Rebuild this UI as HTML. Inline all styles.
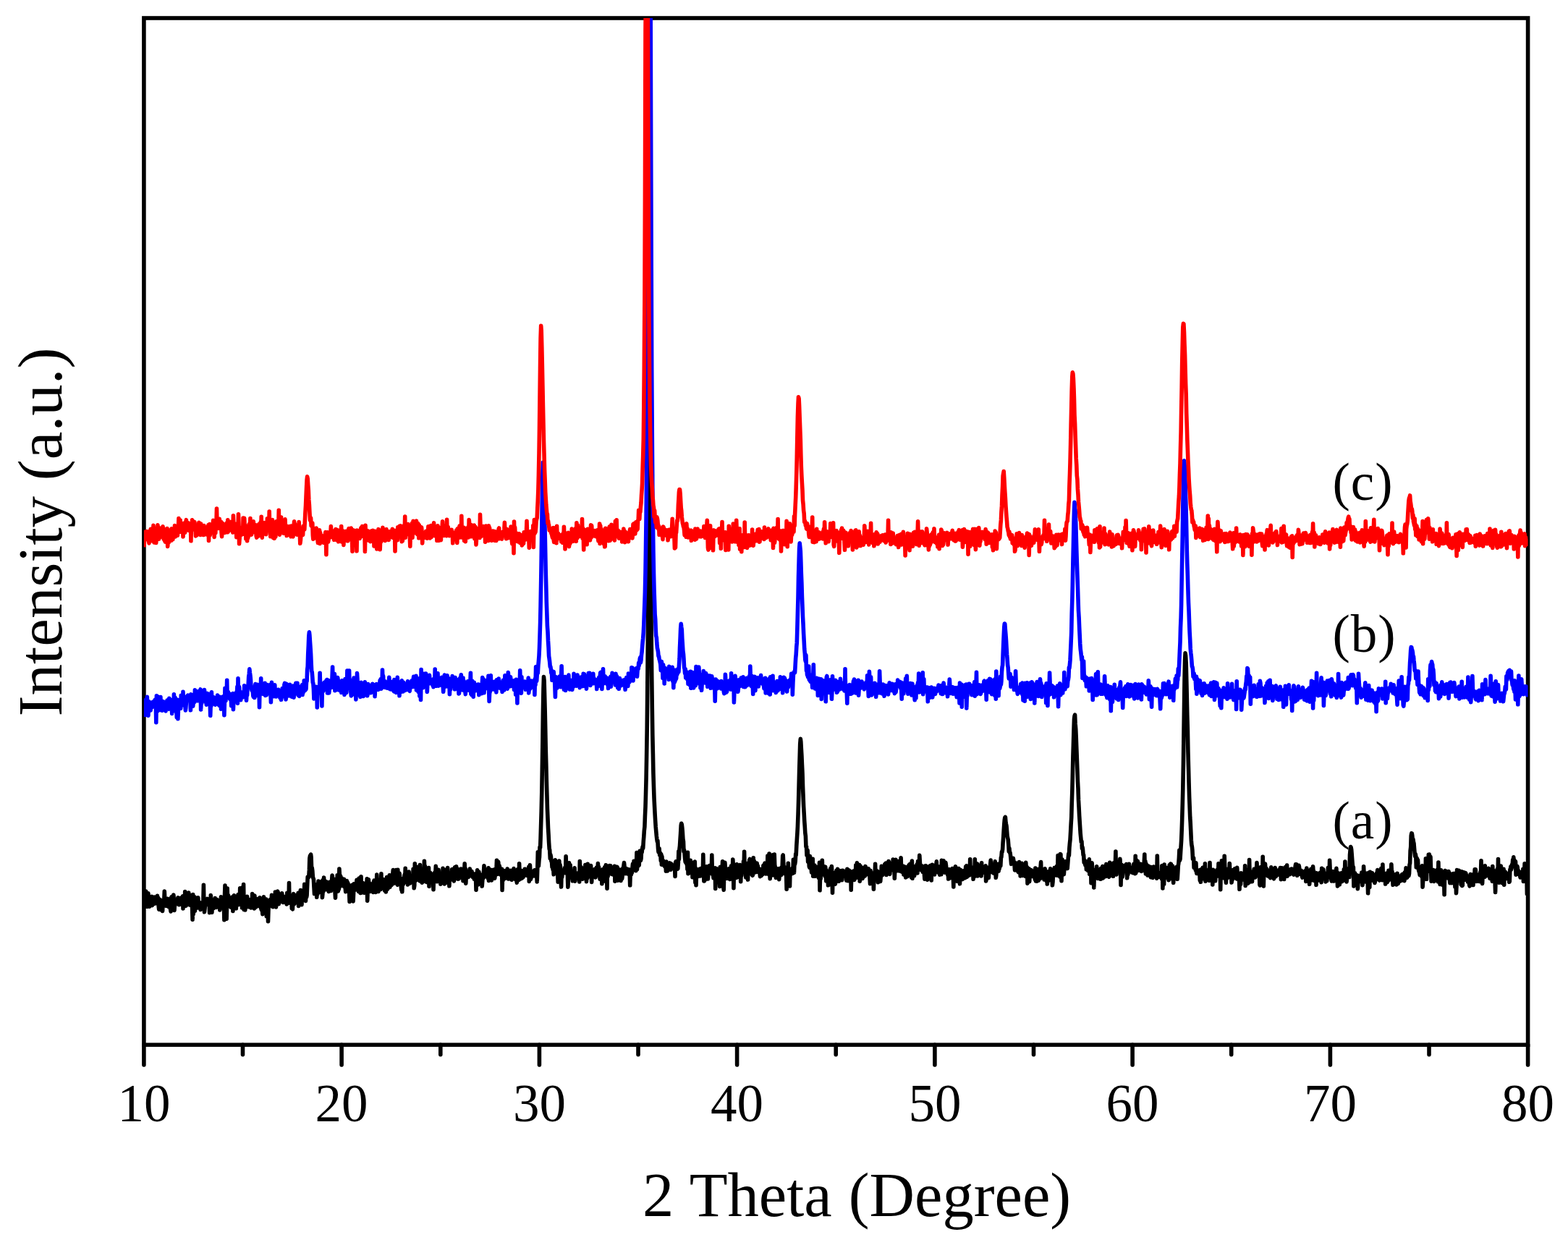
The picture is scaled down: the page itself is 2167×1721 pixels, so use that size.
<!DOCTYPE html>
<html lang="en">
<head>
<meta charset="utf-8">
<title>XRD patterns</title>
<style>
html,body{margin:0;padding:0;background:#fff;}
body{width:2167px;height:1721px;overflow:hidden;}
svg{display:block;}
text{font-family:"Liberation Serif","Times New Roman",serif;fill:#000;}
.tk{font-size:73px;}
.lb{letter-spacing:1px;}
.ttl{font-size:86.5px;word-spacing:1.5px;}
.ytl{font-size:87px;word-spacing:0;}
.crv{fill:none;stroke-width:5.6;stroke-linejoin:round;stroke-linecap:butt;}
</style>
</head>
<body>
<svg width="2167" height="1721" viewBox="0 0 2167 1721">
<defs><clipPath id="pc"><rect x="198.9" y="25.0" width="1912.6999999999998" height="1419.3"/></clipPath></defs>
<rect x="0" y="0" width="2167" height="1721" fill="#ffffff"/>
<rect x="198.9" y="25.0" width="1912.6999999999998" height="1419.3" fill="none" stroke="#000" stroke-width="5.6"/>
<g stroke="#000" stroke-width="5.6" stroke-linecap="round">
<line x1="198.9" y1="1444.3" x2="198.9" y2="1471.9"/>
<line x1="335.5" y1="1444.3" x2="335.5" y2="1457.7"/>
<line x1="472.1" y1="1444.3" x2="472.1" y2="1471.9"/>
<line x1="608.8" y1="1444.3" x2="608.8" y2="1457.7"/>
<line x1="745.4" y1="1444.3" x2="745.4" y2="1471.9"/>
<line x1="882.0" y1="1444.3" x2="882.0" y2="1457.7"/>
<line x1="1018.6" y1="1444.3" x2="1018.6" y2="1471.9"/>
<line x1="1155.2" y1="1444.3" x2="1155.2" y2="1457.7"/>
<line x1="1291.9" y1="1444.3" x2="1291.9" y2="1471.9"/>
<line x1="1428.5" y1="1444.3" x2="1428.5" y2="1457.7"/>
<line x1="1565.1" y1="1444.3" x2="1565.1" y2="1471.9"/>
<line x1="1701.7" y1="1444.3" x2="1701.7" y2="1457.7"/>
<line x1="1838.4" y1="1444.3" x2="1838.4" y2="1471.9"/>
<line x1="1975.0" y1="1444.3" x2="1975.0" y2="1457.7"/>
<line x1="2111.6" y1="1444.3" x2="2111.6" y2="1471.9"/>
</g>
<g clip-path="url(#pc)">
<path class="crv" stroke="#000000" d="M198.9 1253.9 L199.4 1241.8 L200.0 1241.5 L200.5 1238.9 L201.1 1250.2 L201.6 1232.0 L202.2 1253.1 L202.7 1240.2 L203.3 1246.2 L203.8 1243.7 L204.4 1253.2 L204.9 1234.8 L205.5 1244.8 L206.0 1244.6 L206.6 1253.1 L207.1 1240.5 L207.6 1244.7 L208.2 1240.8 L208.7 1246.0 L209.3 1248.8 L209.8 1239.3 L210.4 1251.6 L210.9 1250.2 L211.5 1247.3 L212.0 1249.8 L212.6 1242.4 L213.1 1244.8 L213.7 1240.1 L214.2 1243.7 L214.8 1248.9 L215.3 1242.4 L215.8 1244.4 L216.4 1244.0 L216.9 1241.8 L217.5 1238.3 L218.0 1247.5 L218.6 1241.1 L219.1 1251.9 L219.7 1257.1 L220.2 1252.1 L220.8 1247.1 L221.3 1243.6 L221.9 1244.5 L222.4 1257.6 L223.0 1249.6 L223.5 1245.2 L224.0 1248.9 L224.6 1259.4 L225.1 1248.9 L225.7 1251.5 L226.2 1250.1 L226.8 1243.5 L227.3 1232.1 L227.9 1245.9 L228.4 1246.2 L229.0 1250.9 L229.5 1252.2 L230.1 1251.4 L230.6 1248.1 L231.1 1251.5 L231.7 1242.2 L232.2 1252.9 L232.8 1253.3 L233.3 1244.1 L233.9 1248.8 L234.4 1246.7 L235.0 1253.5 L235.5 1256.5 L236.1 1259.9 L236.6 1240.8 L237.2 1239.7 L237.7 1245.0 L238.3 1249.2 L238.8 1253.6 L239.3 1252.3 L239.9 1237.1 L240.4 1245.7 L241.0 1258.4 L241.5 1248.9 L242.1 1251.2 L242.6 1245.3 L243.2 1246.3 L243.7 1247.0 L244.3 1248.0 L244.8 1246.6 L245.4 1245.8 L245.9 1240.9 L246.5 1246.4 L247.0 1244.7 L247.5 1250.7 L248.1 1250.5 L248.6 1245.1 L249.2 1242.8 L249.7 1241.5 L250.3 1247.4 L250.8 1245.8 L251.4 1244.1 L251.9 1247.0 L252.5 1238.7 L253.0 1255.9 L253.6 1243.9 L254.1 1253.3 L254.7 1250.5 L255.2 1251.2 L255.7 1232.5 L256.3 1248.5 L256.8 1252.3 L257.4 1235.0 L257.9 1247.2 L258.5 1247.8 L259.0 1239.8 L259.6 1249.1 L260.1 1250.3 L260.7 1234.0 L261.2 1247.8 L261.8 1238.7 L262.3 1246.3 L262.9 1237.4 L263.4 1251.5 L263.9 1251.5 L264.5 1245.4 L265.0 1242.6 L265.6 1254.1 L266.1 1271.2 L266.7 1236.5 L267.2 1263.9 L267.8 1255.6 L268.3 1249.2 L268.9 1239.9 L269.4 1259.2 L270.0 1247.1 L270.5 1245.1 L271.1 1241.3 L271.6 1251.5 L272.1 1251.5 L272.7 1244.3 L273.2 1255.0 L273.8 1240.9 L274.3 1252.1 L274.9 1248.4 L275.4 1247.1 L276.0 1247.5 L276.5 1251.9 L277.1 1257.5 L277.6 1251.3 L278.2 1249.3 L278.7 1248.8 L279.3 1250.6 L279.8 1248.3 L280.3 1250.7 L280.9 1245.1 L281.4 1223.4 L282.0 1253.3 L282.5 1260.8 L283.1 1255.6 L283.6 1249.0 L284.2 1248.1 L284.7 1248.4 L285.3 1249.5 L285.8 1243.0 L286.4 1242.4 L286.9 1242.7 L287.4 1249.9 L288.0 1247.3 L288.5 1251.7 L289.1 1246.1 L289.6 1261.7 L290.2 1249.2 L290.7 1259.5 L291.3 1237.6 L291.8 1244.1 L292.4 1252.1 L292.9 1261.3 L293.5 1247.6 L294.0 1249.1 L294.6 1247.4 L295.1 1255.6 L295.6 1247.3 L296.2 1251.8 L296.7 1246.9 L297.3 1241.6 L297.8 1250.1 L298.4 1250.9 L298.9 1254.4 L299.5 1246.9 L300.0 1243.6 L300.6 1250.0 L301.1 1251.3 L301.7 1249.5 L302.2 1246.5 L302.8 1253.3 L303.3 1249.5 L303.8 1257.9 L304.4 1254.7 L304.9 1251.8 L305.5 1239.8 L306.0 1250.7 L306.6 1250.0 L307.1 1250.4 L307.7 1251.9 L308.2 1244.0 L308.8 1251.4 L309.3 1244.2 L309.9 1271.7 L310.4 1240.9 L311.0 1224.1 L311.5 1238.9 L312.0 1242.2 L312.6 1240.7 L313.1 1270.3 L313.7 1245.1 L314.2 1228.0 L314.8 1251.4 L315.3 1237.2 L315.9 1239.0 L316.4 1250.3 L317.0 1249.3 L317.5 1243.3 L318.1 1253.0 L318.6 1246.3 L319.2 1254.3 L319.7 1248.8 L320.2 1253.6 L320.8 1246.4 L321.3 1239.7 L321.9 1259.5 L322.4 1239.8 L323.0 1246.2 L323.5 1237.7 L324.1 1246.4 L324.6 1249.4 L325.2 1249.0 L325.7 1255.8 L326.3 1255.8 L326.8 1245.9 L327.4 1240.0 L327.9 1239.8 L328.4 1242.6 L329.0 1236.5 L329.5 1250.8 L330.1 1243.8 L330.6 1242.6 L331.2 1247.0 L331.7 1227.9 L332.3 1242.2 L332.8 1250.6 L333.4 1249.5 L333.9 1244.1 L334.5 1254.8 L335.0 1226.7 L335.6 1243.1 L336.1 1242.2 L336.6 1222.6 L337.2 1257.5 L337.7 1249.0 L338.3 1241.7 L338.8 1258.0 L339.4 1250.6 L339.9 1250.7 L340.5 1244.8 L341.0 1248.9 L341.6 1239.4 L342.1 1252.1 L342.7 1245.8 L343.2 1248.2 L343.7 1253.8 L344.3 1248.8 L344.8 1249.2 L345.4 1248.9 L345.9 1243.5 L346.5 1251.6 L347.0 1255.0 L347.6 1252.2 L348.1 1252.8 L348.7 1235.5 L349.2 1242.8 L349.8 1239.4 L350.3 1255.0 L350.9 1247.0 L351.4 1255.9 L351.9 1238.0 L352.5 1246.7 L353.0 1250.0 L353.6 1254.1 L354.1 1249.5 L354.7 1250.3 L355.2 1249.2 L355.8 1249.4 L356.3 1242.5 L356.9 1249.7 L357.4 1246.9 L358.0 1249.6 L358.5 1252.9 L359.1 1240.9 L359.6 1250.8 L360.1 1247.4 L360.7 1255.1 L361.2 1257.4 L361.8 1248.1 L362.3 1256.5 L362.9 1263.8 L363.4 1245.1 L364.0 1248.3 L364.5 1239.7 L365.1 1250.9 L365.6 1261.4 L366.2 1252.7 L366.7 1248.0 L367.3 1254.8 L367.8 1243.0 L368.3 1266.6 L368.9 1251.7 L369.4 1257.6 L370.0 1247.0 L370.5 1273.7 L371.1 1254.9 L371.6 1253.4 L372.2 1248.7 L372.7 1244.5 L373.3 1243.6 L373.8 1247.5 L374.4 1244.2 L374.9 1249.5 L375.5 1237.2 L376.0 1251.6 L376.5 1253.3 L377.1 1243.6 L377.6 1253.6 L378.2 1246.1 L378.7 1253.0 L379.3 1248.7 L379.8 1252.4 L380.4 1233.1 L380.9 1246.2 L381.5 1253.9 L382.0 1242.2 L382.6 1234.0 L383.1 1234.2 L383.7 1232.2 L384.2 1233.3 L384.7 1241.4 L385.3 1249.7 L385.8 1239.8 L386.4 1243.8 L386.9 1240.7 L387.5 1242.0 L388.0 1240.0 L388.6 1238.9 L389.1 1244.2 L389.7 1234.7 L390.2 1246.8 L390.8 1247.2 L391.3 1242.0 L391.8 1247.4 L392.4 1239.3 L392.9 1240.2 L393.5 1244.7 L394.0 1243.2 L394.6 1241.1 L395.1 1240.4 L395.7 1240.6 L396.2 1249.9 L396.8 1234.2 L397.3 1247.2 L397.9 1243.8 L398.4 1248.4 L399.0 1247.5 L399.5 1220.6 L400.0 1247.1 L400.6 1245.6 L401.1 1243.3 L401.7 1241.7 L402.2 1248.8 L402.8 1242.9 L403.3 1255.7 L403.9 1253.3 L404.4 1256.9 L405.0 1240.9 L405.5 1235.5 L406.1 1249.0 L406.6 1249.7 L407.2 1246.1 L407.7 1237.2 L408.2 1242.4 L408.8 1247.8 L409.3 1243.6 L409.9 1243.3 L410.4 1242.6 L411.0 1237.8 L411.5 1239.9 L412.1 1234.4 L412.6 1252.4 L413.2 1239.8 L413.7 1245.3 L414.3 1237.3 L414.8 1246.5 L415.4 1230.6 L415.9 1245.0 L416.4 1239.8 L417.0 1250.7 L417.5 1231.3 L418.1 1238.2 L418.6 1239.2 L419.2 1243.1 L419.7 1233.1 L420.3 1236.3 L420.8 1222.2 L421.4 1228.1 L421.9 1233.2 L422.5 1245.4 L423.0 1229.0 L423.6 1240.1 L424.1 1237.6 L424.6 1226.0 L425.2 1212.4 L425.7 1212.7 L426.3 1211.8 L426.8 1212.5 L427.4 1202.4 L427.9 1186.2 L428.5 1183.0 L429.0 1182.4 L429.6 1181.1 L430.1 1185.1 L430.7 1203.7 L431.2 1199.4 L431.8 1203.6 L432.3 1211.5 L432.8 1213.9 L433.4 1215.2 L433.9 1225.4 L434.5 1235.5 L435.0 1226.4 L435.6 1222.5 L436.1 1230.5 L436.7 1225.0 L437.2 1227.9 L437.8 1240.3 L438.3 1230.1 L438.9 1236.1 L439.4 1228.9 L440.0 1218.1 L440.5 1220.6 L441.0 1233.5 L441.6 1224.1 L442.1 1228.5 L442.7 1221.0 L443.2 1230.3 L443.8 1223.6 L444.3 1233.6 L444.9 1218.0 L445.4 1240.6 L446.0 1234.6 L446.5 1216.4 L447.1 1231.8 L447.6 1213.0 L448.1 1220.4 L448.7 1227.9 L449.2 1221.6 L449.8 1221.4 L450.3 1222.3 L450.9 1218.7 L451.4 1229.7 L452.0 1227.0 L452.5 1222.3 L453.1 1221.7 L453.6 1228.4 L454.2 1232.4 L454.7 1227.1 L455.3 1219.3 L455.8 1226.1 L456.3 1219.7 L456.9 1219.6 L457.4 1231.5 L458.0 1218.7 L458.5 1218.3 L459.1 1210.0 L459.6 1214.2 L460.2 1224.6 L460.7 1217.6 L461.3 1224.4 L461.8 1215.4 L462.4 1217.0 L462.9 1230.8 L463.5 1241.1 L464.0 1224.2 L464.5 1228.2 L465.1 1230.5 L465.6 1227.8 L466.2 1209.9 L466.7 1222.1 L467.3 1231.9 L467.8 1221.2 L468.4 1229.3 L468.9 1201.0 L469.5 1211.4 L470.0 1225.5 L470.6 1210.8 L471.1 1216.1 L471.7 1223.1 L472.2 1213.8 L472.7 1223.4 L473.3 1219.6 L473.8 1221.5 L474.4 1221.7 L474.9 1225.2 L475.5 1215.2 L476.0 1223.0 L476.6 1219.1 L477.1 1226.4 L477.7 1232.7 L478.2 1226.3 L478.8 1224.6 L479.3 1217.5 L479.9 1228.1 L480.4 1219.8 L480.9 1221.0 L481.5 1228.4 L482.0 1227.9 L482.6 1232.1 L483.1 1246.4 L483.7 1224.0 L484.2 1227.5 L484.8 1235.8 L485.3 1239.6 L485.9 1229.9 L486.4 1233.7 L487.0 1223.3 L487.5 1230.0 L488.1 1245.9 L488.6 1234.9 L489.1 1221.7 L489.7 1225.8 L490.2 1228.7 L490.8 1224.7 L491.3 1224.1 L491.9 1230.0 L492.4 1224.1 L493.0 1216.4 L493.5 1228.2 L494.1 1224.7 L494.6 1216.6 L495.2 1218.3 L495.7 1232.5 L496.3 1214.0 L496.8 1217.4 L497.3 1225.6 L497.9 1234.4 L498.4 1234.5 L499.0 1211.8 L499.5 1227.0 L500.1 1220.2 L500.6 1233.8 L501.2 1220.3 L501.7 1226.7 L502.3 1232.6 L502.8 1226.0 L503.4 1234.3 L503.9 1221.6 L504.4 1227.6 L505.0 1230.2 L505.5 1223.8 L506.1 1231.9 L506.6 1227.1 L507.2 1214.9 L507.7 1245.1 L508.3 1227.4 L508.8 1224.1 L509.4 1215.8 L509.9 1223.5 L510.5 1220.7 L511.0 1226.4 L511.6 1224.7 L512.1 1232.3 L512.6 1223.7 L513.2 1225.9 L513.7 1225.4 L514.3 1221.8 L514.8 1221.7 L515.4 1229.0 L515.9 1233.5 L516.5 1219.2 L517.0 1217.1 L517.6 1222.8 L518.1 1230.2 L518.7 1223.0 L519.2 1233.4 L519.8 1219.2 L520.3 1223.8 L520.8 1209.1 L521.4 1220.1 L521.9 1222.6 L522.5 1225.9 L523.0 1232.5 L523.6 1223.1 L524.1 1230.1 L524.7 1224.9 L525.2 1227.0 L525.8 1219.5 L526.3 1229.5 L526.9 1207.9 L527.4 1225.7 L528.0 1218.1 L528.5 1220.2 L529.0 1215.5 L529.6 1215.7 L530.1 1224.9 L530.7 1223.0 L531.2 1216.3 L531.8 1231.1 L532.3 1224.1 L532.9 1227.5 L533.4 1233.0 L534.0 1219.2 L534.5 1212.5 L535.1 1217.8 L535.6 1229.1 L536.2 1217.1 L536.7 1227.4 L537.2 1219.2 L537.8 1223.0 L538.3 1209.8 L538.9 1226.3 L539.4 1219.4 L540.0 1224.0 L540.5 1219.9 L541.1 1223.4 L541.6 1217.9 L542.2 1221.8 L542.7 1209.2 L543.3 1202.5 L543.8 1221.4 L544.4 1217.2 L544.9 1215.6 L545.4 1214.1 L546.0 1218.9 L546.5 1211.2 L547.1 1217.6 L547.6 1202.6 L548.2 1213.6 L548.7 1221.8 L549.3 1223.2 L549.8 1202.4 L550.4 1221.8 L550.9 1211.5 L551.5 1221.9 L552.0 1207.1 L552.6 1211.4 L553.1 1214.4 L553.6 1215.9 L554.2 1224.8 L554.7 1230.1 L555.3 1225.5 L555.8 1232.8 L556.4 1214.5 L556.9 1215.5 L557.5 1222.3 L558.0 1216.4 L558.6 1215.0 L559.1 1209.0 L559.7 1215.7 L560.2 1200.4 L560.7 1212.7 L561.3 1209.0 L561.8 1219.4 L562.4 1214.3 L562.9 1214.7 L563.5 1223.0 L564.0 1209.7 L564.6 1216.3 L565.1 1205.0 L565.7 1215.4 L566.2 1217.9 L566.8 1220.9 L567.3 1211.1 L567.9 1219.5 L568.4 1215.5 L568.9 1213.5 L569.5 1214.6 L570.0 1216.7 L570.6 1219.5 L571.1 1201.3 L571.7 1207.8 L572.2 1227.8 L572.8 1224.0 L573.3 1193.8 L573.9 1215.2 L574.4 1216.1 L575.0 1216.8 L575.5 1214.2 L576.1 1198.2 L576.6 1210.1 L577.1 1207.8 L577.7 1211.4 L578.2 1209.7 L578.8 1210.7 L579.3 1215.9 L579.9 1217.7 L580.4 1195.5 L581.0 1209.3 L581.5 1207.1 L582.1 1218.6 L582.6 1211.8 L583.2 1220.1 L583.7 1208.9 L584.3 1211.6 L584.8 1204.3 L585.3 1218.6 L585.9 1210.0 L586.4 1190.4 L587.0 1206.8 L587.5 1197.4 L588.1 1209.8 L588.6 1211.9 L589.2 1216.0 L589.7 1219.5 L590.3 1209.9 L590.8 1215.3 L591.4 1212.9 L591.9 1210.1 L592.5 1199.6 L593.0 1225.3 L593.5 1209.4 L594.1 1213.1 L594.6 1206.2 L595.2 1216.7 L595.7 1212.7 L596.3 1212.4 L596.8 1211.6 L597.4 1218.1 L597.9 1217.3 L598.5 1215.8 L599.0 1229.6 L599.6 1208.4 L600.1 1206.8 L600.7 1207.4 L601.2 1214.1 L601.7 1208.5 L602.3 1197.3 L602.8 1205.7 L603.4 1213.4 L603.9 1218.8 L604.5 1204.6 L605.0 1209.5 L605.6 1211.6 L606.1 1202.4 L606.7 1215.2 L607.2 1212.3 L607.8 1213.3 L608.3 1208.7 L608.9 1222.2 L609.4 1213.8 L609.9 1220.9 L610.5 1211.1 L611.0 1216.6 L611.6 1209.4 L612.1 1200.3 L612.7 1203.4 L613.2 1213.1 L613.8 1212.1 L614.3 1221.9 L614.9 1207.3 L615.4 1207.0 L616.0 1220.6 L616.5 1214.8 L617.0 1202.1 L617.6 1218.1 L618.1 1212.8 L618.7 1199.6 L619.2 1208.9 L619.8 1211.3 L620.3 1215.8 L620.9 1224.8 L621.4 1212.8 L622.0 1216.3 L622.5 1211.6 L623.1 1207.5 L623.6 1207.3 L624.2 1215.5 L624.7 1201.7 L625.2 1215.8 L625.8 1206.7 L626.3 1210.4 L626.9 1215.0 L627.4 1218.0 L628.0 1199.9 L628.5 1198.9 L629.1 1209.8 L629.6 1205.9 L630.2 1214.4 L630.7 1197.9 L631.3 1210.6 L631.8 1214.8 L632.4 1209.6 L632.9 1215.1 L633.4 1201.5 L634.0 1214.9 L634.5 1204.5 L635.1 1212.1 L635.6 1206.4 L636.2 1213.0 L636.7 1212.6 L637.3 1201.0 L637.8 1207.6 L638.4 1207.5 L638.9 1206.6 L639.5 1203.7 L640.0 1217.7 L640.6 1210.0 L641.1 1217.1 L641.6 1204.8 L642.2 1193.9 L642.7 1209.7 L643.3 1200.9 L643.8 1221.1 L644.4 1209.6 L644.9 1213.9 L645.5 1206.8 L646.0 1206.0 L646.6 1208.2 L647.1 1209.7 L647.7 1212.2 L648.2 1207.2 L648.8 1203.7 L649.3 1201.1 L649.8 1206.5 L650.4 1209.8 L650.9 1209.4 L651.5 1207.4 L652.0 1204.4 L652.6 1209.3 L653.1 1212.3 L653.7 1209.6 L654.2 1211.6 L654.8 1209.1 L655.3 1215.2 L655.9 1208.1 L656.4 1210.6 L657.0 1211.7 L657.5 1213.4 L658.0 1230.1 L658.6 1212.9 L659.1 1213.8 L659.7 1202.7 L660.2 1213.7 L660.8 1222.9 L661.3 1206.4 L661.9 1205.3 L662.4 1209.1 L663.0 1216.8 L663.5 1214.3 L664.1 1209.0 L664.6 1211.9 L665.1 1217.5 L665.7 1215.4 L666.2 1225.0 L666.8 1217.0 L667.3 1212.6 L667.9 1213.9 L668.4 1206.4 L669.0 1196.8 L669.5 1210.4 L670.1 1212.0 L670.6 1202.1 L671.2 1206.6 L671.7 1206.4 L672.3 1210.2 L672.8 1206.5 L673.3 1210.0 L673.9 1209.5 L674.4 1214.2 L675.0 1199.9 L675.5 1217.4 L676.1 1215.9 L676.6 1208.6 L677.2 1210.6 L677.7 1210.2 L678.3 1202.2 L678.8 1206.5 L679.4 1216.9 L679.9 1207.7 L680.5 1212.2 L681.0 1207.0 L681.5 1207.0 L682.1 1202.4 L682.6 1205.1 L683.2 1203.6 L683.7 1214.2 L684.3 1209.7 L684.8 1201.3 L685.4 1208.4 L685.9 1204.8 L686.5 1189.2 L687.0 1208.5 L687.6 1196.9 L688.1 1208.3 L688.7 1191.4 L689.2 1197.4 L689.7 1207.6 L690.3 1196.9 L690.8 1202.9 L691.4 1206.6 L691.9 1209.1 L692.5 1209.7 L693.0 1205.7 L693.6 1201.2 L694.1 1230.4 L694.7 1203.1 L695.2 1216.8 L695.8 1205.8 L696.3 1215.0 L696.9 1213.9 L697.4 1203.7 L697.9 1211.6 L698.5 1214.2 L699.0 1212.1 L699.6 1206.2 L700.1 1209.4 L700.7 1205.1 L701.2 1201.0 L701.8 1212.8 L702.3 1204.7 L702.9 1215.0 L703.4 1211.6 L704.0 1203.6 L704.5 1207.9 L705.1 1203.9 L705.6 1203.5 L706.1 1210.2 L706.7 1205.3 L707.2 1216.2 L707.8 1212.7 L708.3 1203.8 L708.9 1207.3 L709.4 1207.4 L710.0 1200.5 L710.5 1214.0 L711.1 1214.8 L711.6 1215.0 L712.2 1207.9 L712.7 1215.8 L713.3 1209.6 L713.8 1215.0 L714.3 1220.2 L714.9 1210.5 L715.4 1201.7 L716.0 1207.5 L716.5 1213.2 L717.1 1216.5 L717.6 1193.7 L718.2 1208.9 L718.7 1211.6 L719.3 1212.6 L719.8 1214.8 L720.4 1203.3 L720.9 1206.2 L721.4 1214.0 L722.0 1209.8 L722.5 1209.5 L723.1 1212.5 L723.6 1207.7 L724.2 1209.9 L724.7 1205.5 L725.3 1201.2 L725.8 1201.4 L726.4 1208.7 L726.9 1207.2 L727.5 1205.3 L728.0 1210.1 L728.6 1203.7 L729.1 1209.3 L729.6 1209.5 L730.2 1205.5 L730.7 1198.4 L731.3 1218.4 L731.8 1211.7 L732.4 1195.7 L732.9 1203.7 L733.5 1215.4 L734.0 1208.6 L734.6 1212.7 L735.1 1204.6 L735.7 1210.1 L736.2 1208.0 L736.8 1207.0 L737.3 1204.4 L737.8 1207.9 L738.4 1210.8 L738.9 1202.7 L739.5 1203.6 L740.0 1206.3 L740.6 1205.4 L741.1 1207.1 L741.7 1207.6 L742.2 1218.9 L742.8 1200.1 L743.3 1177.8 L743.9 1196.2 L744.4 1197.1 L745.0 1188.7 L745.5 1184.8 L746.0 1171.0 L746.6 1171.6 L747.1 1158.3 L747.7 1138.2 L748.2 1121.5 L748.8 1095.1 L749.3 1063.8 L749.9 1026.1 L750.4 985.7 L751.0 951.8 L751.5 935.6 L752.1 941.3 L752.6 960.4 L753.2 983.4 L753.7 1006.8 L754.2 1033.9 L754.8 1056.0 L755.3 1078.0 L755.9 1098.9 L756.4 1117.2 L757.0 1131.4 L757.5 1144.2 L758.1 1154.1 L758.6 1164.3 L759.2 1173.4 L759.7 1175.1 L760.3 1186.6 L760.8 1181.3 L761.4 1184.0 L761.9 1190.5 L762.4 1189.1 L763.0 1198.4 L763.5 1191.4 L764.1 1201.9 L764.6 1197.6 L765.2 1208.8 L765.7 1194.9 L766.3 1196.6 L766.8 1199.3 L767.4 1188.8 L767.9 1204.0 L768.5 1204.7 L769.0 1204.2 L769.6 1195.1 L770.1 1193.4 L770.6 1205.6 L771.2 1219.1 L771.7 1212.2 L772.3 1198.7 L772.8 1190.0 L773.4 1203.2 L773.9 1195.2 L774.5 1198.0 L775.0 1216.9 L775.6 1226.0 L776.1 1205.7 L776.7 1212.8 L777.2 1206.0 L777.7 1205.4 L778.3 1203.2 L778.8 1205.4 L779.4 1203.2 L779.9 1203.2 L780.5 1199.7 L781.0 1206.7 L781.6 1203.8 L782.1 1183.7 L782.7 1201.7 L783.2 1198.6 L783.8 1192.6 L784.3 1207.3 L784.9 1226.1 L785.4 1216.8 L785.9 1212.9 L786.5 1192.7 L787.0 1212.0 L787.6 1211.9 L788.1 1195.7 L788.7 1211.1 L789.2 1210.7 L789.8 1209.1 L790.3 1209.9 L790.9 1209.4 L791.4 1217.8 L792.0 1207.4 L792.5 1208.1 L793.1 1208.4 L793.6 1210.5 L794.1 1199.7 L794.7 1218.2 L795.2 1213.8 L795.8 1213.2 L796.3 1211.0 L796.9 1208.2 L797.4 1207.3 L798.0 1208.7 L798.5 1209.0 L799.1 1214.2 L799.6 1210.1 L800.2 1206.6 L800.7 1219.0 L801.3 1190.6 L801.8 1201.5 L802.3 1210.8 L802.9 1207.3 L803.4 1198.8 L804.0 1206.2 L804.5 1204.2 L805.1 1215.1 L805.6 1205.3 L806.2 1214.7 L806.7 1210.9 L807.3 1208.2 L807.8 1208.7 L808.4 1214.1 L808.9 1195.5 L809.5 1209.9 L810.0 1203.5 L810.5 1218.6 L811.1 1205.0 L811.6 1214.2 L812.2 1194.4 L812.7 1212.0 L813.3 1211.6 L813.8 1205.8 L814.4 1206.5 L814.9 1205.5 L815.5 1209.2 L816.0 1206.1 L816.6 1196.5 L817.1 1205.4 L817.7 1219.4 L818.2 1206.9 L818.7 1208.0 L819.3 1203.3 L819.8 1206.9 L820.4 1206.8 L820.9 1204.9 L821.5 1211.3 L822.0 1201.6 L822.6 1205.5 L823.1 1212.9 L823.7 1204.0 L824.2 1199.2 L824.8 1208.7 L825.3 1200.3 L825.9 1202.8 L826.4 1193.5 L826.9 1203.8 L827.5 1198.3 L828.0 1201.9 L828.6 1209.0 L829.1 1215.3 L829.7 1203.7 L830.2 1209.0 L830.8 1204.3 L831.3 1206.7 L831.9 1221.6 L832.4 1206.2 L833.0 1201.8 L833.5 1202.1 L834.0 1202.6 L834.6 1205.4 L835.1 1217.9 L835.7 1198.8 L836.2 1200.8 L836.8 1200.2 L837.3 1195.9 L837.9 1212.3 L838.4 1204.9 L839.0 1228.2 L839.5 1197.0 L840.1 1211.6 L840.6 1200.6 L841.2 1202.7 L841.7 1199.5 L842.2 1199.0 L842.8 1196.6 L843.3 1204.7 L843.9 1196.9 L844.4 1202.5 L845.0 1203.9 L845.5 1208.4 L846.1 1206.6 L846.6 1206.8 L847.2 1208.9 L847.7 1206.1 L848.3 1209.0 L848.8 1202.1 L849.4 1197.2 L849.9 1218.1 L850.4 1208.2 L851.0 1198.3 L851.5 1215.0 L852.1 1206.8 L852.6 1198.2 L853.2 1199.0 L853.7 1217.1 L854.3 1201.0 L854.8 1203.9 L855.4 1209.8 L855.9 1206.9 L856.5 1205.1 L857.0 1205.2 L857.6 1212.1 L858.1 1217.5 L858.6 1202.0 L859.2 1208.4 L859.7 1214.6 L860.3 1209.9 L860.8 1200.3 L861.4 1202.9 L861.9 1197.1 L862.5 1192.6 L863.0 1197.1 L863.6 1205.6 L864.1 1200.8 L864.7 1207.7 L865.2 1204.0 L865.8 1200.7 L866.3 1207.1 L866.8 1206.6 L867.4 1204.4 L867.9 1208.2 L868.5 1205.7 L869.0 1201.8 L869.6 1207.5 L870.1 1203.3 L870.7 1223.8 L871.2 1207.6 L871.8 1207.8 L872.3 1208.9 L872.9 1201.6 L873.4 1206.5 L874.0 1199.3 L874.5 1194.0 L875.0 1195.0 L875.6 1200.7 L876.1 1190.3 L876.7 1198.8 L877.2 1193.8 L877.8 1200.6 L878.3 1192.5 L878.9 1203.7 L879.4 1197.2 L880.0 1178.6 L880.5 1201.8 L881.1 1192.3 L881.6 1188.7 L882.2 1186.8 L882.7 1196.5 L883.2 1196.2 L883.8 1185.8 L884.3 1176.3 L884.9 1181.3 L885.4 1189.5 L886.0 1187.1 L886.5 1177.6 L887.1 1178.3 L887.6 1173.5 L888.2 1170.3 L888.7 1172.5 L889.3 1162.7 L889.8 1156.5 L890.3 1148.5 L890.9 1143.0 L891.4 1128.9 L892.0 1115.7 L892.5 1098.7 L893.1 1074.5 L893.6 1046.5 L894.2 1008.0 L894.7 957.5 L895.3 889.7 L895.8 807.2 L896.4 719.5 L896.9 640.5 L897.5 608.3 L898.0 629.1 L898.5 678.4 L899.1 745.5 L899.6 816.3 L900.2 876.7 L900.7 932.2 L901.3 979.6 L901.8 1014.8 L902.4 1041.9 L902.9 1068.2 L903.5 1087.7 L904.0 1103.2 L904.6 1115.2 L905.1 1124.8 L905.7 1135.2 L906.2 1142.9 L906.7 1148.4 L907.3 1155.3 L907.8 1159.6 L908.4 1163.7 L908.9 1162.0 L909.5 1172.9 L910.0 1177.8 L910.6 1174.2 L911.1 1172.9 L911.7 1181.8 L912.2 1179.8 L912.8 1179.5 L913.3 1189.7 L913.9 1181.0 L914.4 1195.1 L914.9 1183.8 L915.5 1195.1 L916.0 1192.3 L916.6 1189.8 L917.1 1194.0 L917.7 1195.6 L918.2 1197.3 L918.8 1198.0 L919.3 1198.3 L919.9 1193.3 L920.4 1204.1 L921.0 1191.1 L921.5 1202.3 L922.1 1201.4 L922.6 1203.9 L923.1 1194.5 L923.7 1198.8 L924.2 1202.4 L924.8 1199.6 L925.3 1192.9 L925.9 1201.3 L926.4 1197.7 L927.0 1202.3 L927.5 1193.8 L928.1 1198.8 L928.6 1198.4 L929.2 1200.4 L929.7 1195.9 L930.3 1197.6 L930.8 1196.7 L931.3 1197.5 L931.9 1196.7 L932.4 1195.4 L933.0 1211.5 L933.5 1192.6 L934.1 1190.9 L934.6 1192.6 L935.2 1192.9 L935.7 1195.9 L936.3 1201.3 L936.8 1200.7 L937.4 1192.1 L937.9 1176.7 L938.4 1187.8 L939.0 1173.3 L939.5 1169.4 L940.1 1159.3 L940.6 1152.2 L941.2 1140.8 L941.7 1138.3 L942.3 1139.8 L942.8 1144.0 L943.4 1151.3 L943.9 1159.8 L944.5 1163.3 L945.0 1176.9 L945.6 1174.9 L946.1 1180.1 L946.6 1186.5 L947.2 1191.7 L947.7 1190.7 L948.3 1190.4 L948.8 1194.4 L949.4 1185.5 L949.9 1201.5 L950.5 1178.2 L951.0 1207.7 L951.6 1194.7 L952.1 1201.3 L952.7 1198.9 L953.2 1201.6 L953.8 1196.5 L954.3 1189.4 L954.8 1206.7 L955.4 1198.5 L955.9 1198.0 L956.5 1192.2 L957.0 1212.7 L957.6 1194.9 L958.1 1204.7 L958.7 1197.0 L959.2 1211.7 L959.8 1197.5 L960.3 1191.1 L960.9 1220.0 L961.4 1200.3 L962.0 1223.7 L962.5 1209.7 L963.0 1208.8 L963.6 1201.7 L964.1 1205.8 L964.7 1211.5 L965.2 1203.5 L965.8 1208.3 L966.3 1209.3 L966.9 1205.1 L967.4 1201.0 L968.0 1211.0 L968.5 1206.2 L969.1 1204.6 L969.6 1200.9 L970.2 1199.7 L970.7 1210.1 L971.2 1209.7 L971.8 1181.3 L972.3 1202.0 L972.9 1218.0 L973.4 1218.0 L974.0 1216.4 L974.5 1210.6 L975.1 1212.1 L975.6 1201.6 L976.2 1215.0 L976.7 1197.7 L977.3 1201.3 L977.8 1205.0 L978.4 1215.0 L978.9 1207.8 L979.4 1204.8 L980.0 1202.6 L980.5 1196.6 L981.1 1207.2 L981.6 1201.7 L982.2 1205.3 L982.7 1198.3 L983.3 1203.3 L983.8 1182.1 L984.4 1204.7 L984.9 1209.3 L985.5 1207.9 L986.0 1213.8 L986.6 1204.7 L987.1 1206.6 L987.6 1207.5 L988.2 1199.8 L988.7 1228.5 L989.3 1211.1 L989.8 1203.2 L990.4 1200.7 L990.9 1209.2 L991.5 1211.0 L992.0 1207.3 L992.6 1207.5 L993.1 1204.9 L993.7 1206.6 L994.2 1213.8 L994.7 1225.5 L995.3 1198.5 L995.8 1207.8 L996.4 1200.4 L996.9 1199.4 L997.5 1210.4 L998.0 1203.2 L998.6 1190.7 L999.1 1210.5 L999.7 1224.5 L1000.2 1230.3 L1000.8 1204.7 L1001.3 1213.9 L1001.9 1192.3 L1002.4 1201.6 L1002.9 1209.9 L1003.5 1209.1 L1004.0 1214.3 L1004.6 1212.2 L1005.1 1206.0 L1005.7 1214.2 L1006.2 1209.2 L1006.8 1213.5 L1007.3 1200.7 L1007.9 1207.3 L1008.4 1202.2 L1009.0 1215.5 L1009.5 1203.3 L1010.1 1202.5 L1010.6 1196.8 L1011.1 1205.4 L1011.7 1209.3 L1012.2 1208.7 L1012.8 1188.0 L1013.3 1195.7 L1013.9 1227.6 L1014.4 1203.6 L1015.0 1202.7 L1015.5 1209.4 L1016.1 1203.6 L1016.6 1199.6 L1017.2 1202.0 L1017.7 1213.4 L1018.3 1194.8 L1018.8 1209.4 L1019.3 1201.2 L1019.9 1200.6 L1020.4 1212.3 L1021.0 1199.0 L1021.5 1207.4 L1022.1 1200.9 L1022.6 1195.6 L1023.2 1201.6 L1023.7 1218.7 L1024.3 1201.8 L1024.8 1210.7 L1025.4 1204.1 L1025.9 1202.7 L1026.5 1196.6 L1027.0 1203.8 L1027.5 1190.9 L1028.1 1199.8 L1028.6 1177.3 L1029.2 1202.1 L1029.7 1202.8 L1030.3 1196.6 L1030.8 1213.0 L1031.4 1203.9 L1031.9 1205.5 L1032.5 1198.5 L1033.0 1203.7 L1033.6 1216.0 L1034.1 1193.0 L1034.7 1197.5 L1035.2 1207.9 L1035.7 1188.9 L1036.3 1187.5 L1036.8 1191.9 L1037.4 1202.7 L1037.9 1202.3 L1038.5 1207.9 L1039.0 1201.3 L1039.6 1209.6 L1040.1 1210.2 L1040.7 1208.3 L1041.2 1185.8 L1041.8 1203.7 L1042.3 1190.1 L1042.9 1200.0 L1043.4 1197.6 L1043.9 1202.8 L1044.5 1205.7 L1045.0 1202.3 L1045.6 1196.0 L1046.1 1193.2 L1046.7 1197.3 L1047.2 1196.5 L1047.8 1205.4 L1048.3 1200.0 L1048.9 1200.7 L1049.4 1201.2 L1050.0 1207.3 L1050.5 1211.6 L1051.0 1205.3 L1051.6 1201.9 L1052.1 1210.6 L1052.7 1205.5 L1053.2 1201.7 L1053.8 1209.0 L1054.3 1206.4 L1054.9 1196.6 L1055.4 1207.7 L1056.0 1206.5 L1056.5 1194.6 L1057.1 1193.2 L1057.6 1205.9 L1058.2 1207.8 L1058.7 1206.6 L1059.2 1195.6 L1059.8 1202.1 L1060.3 1207.9 L1060.9 1183.1 L1061.4 1204.6 L1062.0 1204.9 L1062.5 1208.3 L1063.1 1180.1 L1063.6 1204.8 L1064.2 1214.7 L1064.7 1200.2 L1065.3 1201.7 L1065.8 1209.2 L1066.4 1199.8 L1066.9 1210.0 L1067.4 1206.7 L1068.0 1181.8 L1068.5 1203.7 L1069.1 1195.8 L1069.6 1209.7 L1070.2 1181.1 L1070.7 1195.5 L1071.3 1198.8 L1071.8 1201.4 L1072.4 1213.4 L1072.9 1205.2 L1073.5 1207.2 L1074.0 1211.6 L1074.6 1202.3 L1075.1 1202.5 L1075.6 1201.0 L1076.2 1210.6 L1076.7 1215.8 L1077.3 1208.3 L1077.8 1202.6 L1078.4 1203.1 L1078.9 1200.0 L1079.5 1209.6 L1080.0 1199.4 L1080.6 1204.0 L1081.1 1199.4 L1081.7 1183.0 L1082.2 1182.0 L1082.8 1193.8 L1083.3 1207.4 L1083.8 1204.6 L1084.4 1202.5 L1084.9 1199.5 L1085.5 1200.3 L1086.0 1199.4 L1086.6 1208.3 L1087.1 1229.2 L1087.7 1205.3 L1088.2 1198.6 L1088.8 1213.8 L1089.3 1193.3 L1089.9 1210.7 L1090.4 1204.9 L1091.0 1207.1 L1091.5 1224.9 L1092.0 1202.5 L1092.6 1203.2 L1093.1 1208.6 L1093.7 1205.1 L1094.2 1202.1 L1094.8 1200.5 L1095.3 1205.3 L1095.9 1207.1 L1096.4 1188.2 L1097.0 1192.8 L1097.5 1206.2 L1098.1 1188.9 L1098.6 1194.7 L1099.2 1190.6 L1099.7 1180.5 L1100.2 1182.0 L1100.8 1169.1 L1101.3 1161.3 L1101.9 1151.8 L1102.4 1142.7 L1103.0 1125.9 L1103.5 1109.8 L1104.1 1086.5 L1104.6 1066.3 L1105.2 1046.4 L1105.7 1028.8 L1106.3 1021.4 L1106.8 1025.2 L1107.3 1034.5 L1107.9 1044.5 L1108.4 1056.1 L1109.0 1068.7 L1109.5 1086.4 L1110.1 1101.3 L1110.6 1114.4 L1111.2 1124.6 L1111.7 1134.4 L1112.3 1142.7 L1112.8 1151.3 L1113.4 1155.8 L1113.9 1170.2 L1114.5 1170.0 L1115.0 1182.1 L1115.5 1178.1 L1116.1 1175.3 L1116.6 1191.1 L1117.2 1182.5 L1117.7 1185.7 L1118.3 1197.6 L1118.8 1199.3 L1119.4 1183.6 L1119.9 1194.6 L1120.5 1190.3 L1121.0 1198.8 L1121.6 1206.0 L1122.1 1190.3 L1122.7 1204.8 L1123.2 1187.3 L1123.7 1211.1 L1124.3 1196.6 L1124.8 1199.3 L1125.4 1206.1 L1125.9 1196.0 L1126.5 1211.3 L1127.0 1198.9 L1127.6 1207.7 L1128.1 1198.3 L1128.7 1206.5 L1129.2 1206.1 L1129.8 1204.0 L1130.3 1208.1 L1130.9 1198.9 L1131.4 1213.5 L1131.9 1208.0 L1132.5 1192.4 L1133.0 1230.8 L1133.6 1209.2 L1134.1 1215.1 L1134.7 1205.8 L1135.2 1194.4 L1135.8 1204.0 L1136.3 1189.4 L1136.9 1206.6 L1137.4 1203.8 L1138.0 1207.9 L1138.5 1197.5 L1139.1 1207.4 L1139.6 1204.3 L1140.1 1211.1 L1140.7 1198.2 L1141.2 1206.0 L1141.8 1217.8 L1142.3 1202.9 L1142.9 1213.0 L1143.4 1216.7 L1144.0 1209.5 L1144.5 1223.8 L1145.1 1215.4 L1145.6 1218.9 L1146.2 1205.2 L1146.7 1210.2 L1147.3 1222.8 L1147.8 1200.5 L1148.3 1211.1 L1148.9 1207.2 L1149.4 1197.5 L1150.0 1212.4 L1150.5 1234.3 L1151.1 1209.1 L1151.6 1211.1 L1152.2 1208.1 L1152.7 1206.7 L1153.3 1211.5 L1153.8 1215.5 L1154.4 1222.1 L1154.9 1215.3 L1155.5 1206.0 L1156.0 1203.3 L1156.5 1216.8 L1157.1 1211.6 L1157.6 1201.3 L1158.2 1205.1 L1158.7 1206.5 L1159.3 1218.3 L1159.8 1210.9 L1160.4 1203.5 L1160.9 1216.0 L1161.5 1213.4 L1162.0 1208.2 L1162.6 1215.5 L1163.1 1207.7 L1163.6 1216.7 L1164.2 1203.4 L1164.7 1205.9 L1165.3 1203.5 L1165.8 1207.4 L1166.4 1204.7 L1166.9 1206.5 L1167.5 1208.6 L1168.0 1211.1 L1168.6 1209.5 L1169.1 1209.4 L1169.7 1217.1 L1170.2 1207.0 L1170.8 1201.2 L1171.3 1213.5 L1171.8 1217.7 L1172.4 1209.0 L1172.9 1212.2 L1173.5 1203.1 L1174.0 1208.2 L1174.6 1210.2 L1175.1 1209.5 L1175.7 1204.7 L1176.2 1230.1 L1176.8 1208.5 L1177.3 1211.8 L1177.9 1210.1 L1178.4 1211.6 L1179.0 1210.6 L1179.5 1204.0 L1180.0 1209.3 L1180.6 1216.4 L1181.1 1215.4 L1181.7 1208.3 L1182.2 1213.8 L1182.8 1196.1 L1183.3 1211.6 L1183.9 1203.0 L1184.4 1192.9 L1185.0 1203.5 L1185.5 1208.6 L1186.1 1199.4 L1186.6 1213.3 L1187.2 1209.8 L1187.7 1195.5 L1188.2 1218.1 L1188.8 1204.9 L1189.3 1197.2 L1189.9 1202.7 L1190.4 1199.2 L1191.0 1199.3 L1191.5 1203.2 L1192.1 1214.5 L1192.6 1212.2 L1193.2 1212.1 L1193.7 1201.5 L1194.3 1205.0 L1194.8 1200.7 L1195.4 1211.0 L1195.9 1197.5 L1196.4 1198.5 L1197.0 1202.6 L1197.5 1208.1 L1198.1 1205.8 L1198.6 1207.2 L1199.2 1208.4 L1199.7 1208.3 L1200.3 1200.9 L1200.8 1205.3 L1201.4 1210.2 L1201.9 1211.5 L1202.5 1221.7 L1203.0 1203.3 L1203.6 1212.8 L1204.1 1216.5 L1204.6 1206.5 L1205.2 1208.9 L1205.7 1209.4 L1206.3 1211.5 L1206.8 1213.8 L1207.4 1229.2 L1207.9 1211.8 L1208.5 1214.3 L1209.0 1211.7 L1209.6 1194.3 L1210.1 1210.9 L1210.7 1206.5 L1211.2 1204.3 L1211.7 1203.7 L1212.3 1207.7 L1212.8 1204.5 L1213.4 1219.7 L1213.9 1217.0 L1214.5 1207.1 L1215.0 1212.2 L1215.6 1214.3 L1216.1 1207.0 L1216.7 1218.5 L1217.2 1212.6 L1217.8 1206.9 L1218.3 1197.4 L1218.9 1200.8 L1219.4 1209.8 L1219.9 1202.6 L1220.5 1204.0 L1221.0 1199.6 L1221.6 1205.5 L1222.1 1201.1 L1222.7 1194.6 L1223.2 1201.2 L1223.8 1198.7 L1224.3 1193.1 L1224.9 1209.5 L1225.4 1199.8 L1226.0 1198.8 L1226.5 1204.1 L1227.1 1199.5 L1227.6 1203.5 L1228.1 1190.5 L1228.7 1192.6 L1229.2 1201.9 L1229.8 1208.4 L1230.3 1199.5 L1230.9 1200.5 L1231.4 1194.8 L1232.0 1199.5 L1232.5 1195.1 L1233.1 1198.3 L1233.6 1202.8 L1234.2 1188.1 L1234.7 1199.2 L1235.3 1194.7 L1235.8 1195.7 L1236.3 1214.1 L1236.9 1200.3 L1237.4 1203.4 L1238.0 1188.3 L1238.5 1195.1 L1239.1 1195.4 L1239.6 1194.1 L1240.2 1203.7 L1240.7 1202.2 L1241.3 1191.3 L1241.8 1192.8 L1242.4 1190.6 L1242.9 1204.0 L1243.5 1194.6 L1244.0 1198.0 L1244.5 1197.1 L1245.1 1185.7 L1245.6 1201.9 L1246.2 1205.1 L1246.7 1204.4 L1247.3 1198.2 L1247.8 1198.3 L1248.4 1197.2 L1248.9 1208.9 L1249.5 1206.1 L1250.0 1200.5 L1250.6 1209.9 L1251.1 1198.4 L1251.7 1212.9 L1252.2 1199.2 L1252.7 1201.5 L1253.3 1201.0 L1253.8 1211.8 L1254.4 1203.1 L1254.9 1208.3 L1255.5 1201.5 L1256.0 1195.9 L1256.6 1206.4 L1257.1 1198.4 L1257.7 1194.3 L1258.2 1199.8 L1258.8 1206.3 L1259.3 1212.6 L1259.9 1194.6 L1260.4 1190.0 L1260.9 1214.3 L1261.5 1201.9 L1262.0 1197.3 L1262.6 1205.7 L1263.1 1204.1 L1263.7 1210.6 L1264.2 1200.5 L1264.8 1206.8 L1265.3 1198.3 L1265.9 1198.5 L1266.4 1203.1 L1267.0 1195.6 L1267.5 1194.4 L1268.0 1206.9 L1268.6 1190.5 L1269.1 1201.2 L1269.7 1198.8 L1270.2 1198.4 L1270.8 1182.4 L1271.3 1190.8 L1271.9 1198.9 L1272.4 1195.9 L1273.0 1196.6 L1273.5 1203.1 L1274.1 1198.8 L1274.6 1197.1 L1275.2 1205.4 L1275.7 1199.2 L1276.2 1198.5 L1276.8 1201.9 L1277.3 1207.6 L1277.9 1215.2 L1278.4 1213.0 L1279.0 1196.8 L1279.5 1196.8 L1280.1 1204.6 L1280.6 1206.8 L1281.2 1202.5 L1281.7 1216.2 L1282.3 1211.1 L1282.8 1213.0 L1283.4 1201.4 L1283.9 1197.9 L1284.4 1197.6 L1285.0 1201.9 L1285.5 1196.5 L1286.1 1200.8 L1286.6 1197.7 L1287.2 1217.0 L1287.7 1201.1 L1288.3 1195.3 L1288.8 1199.6 L1289.4 1203.7 L1289.9 1205.4 L1290.5 1196.4 L1291.0 1205.4 L1291.6 1208.9 L1292.1 1203.5 L1292.6 1202.6 L1293.2 1199.2 L1293.7 1197.9 L1294.3 1190.9 L1294.8 1205.2 L1295.4 1200.5 L1295.9 1202.6 L1296.5 1204.6 L1297.0 1197.7 L1297.6 1206.5 L1298.1 1201.6 L1298.7 1209.2 L1299.2 1202.4 L1299.8 1202.8 L1300.3 1199.7 L1300.8 1208.8 L1301.4 1189.4 L1301.9 1197.9 L1302.5 1199.5 L1303.0 1192.9 L1303.6 1197.1 L1304.1 1189.8 L1304.7 1204.8 L1305.2 1195.6 L1305.8 1206.2 L1306.3 1202.5 L1306.9 1192.3 L1307.4 1195.8 L1308.0 1200.7 L1308.5 1206.3 L1309.0 1203.3 L1309.6 1209.2 L1310.1 1201.9 L1310.7 1215.0 L1311.2 1205.2 L1311.8 1201.8 L1312.3 1213.1 L1312.9 1213.6 L1313.4 1205.1 L1314.0 1203.6 L1314.5 1211.3 L1315.1 1202.3 L1315.6 1213.0 L1316.2 1200.5 L1316.7 1208.3 L1317.2 1208.7 L1317.8 1226.0 L1318.3 1200.6 L1318.9 1211.6 L1319.4 1209.5 L1320.0 1209.7 L1320.5 1197.7 L1321.1 1202.3 L1321.6 1207.4 L1322.2 1208.7 L1322.7 1218.1 L1323.3 1210.6 L1323.8 1209.4 L1324.3 1218.4 L1324.9 1200.6 L1325.4 1213.3 L1326.0 1214.2 L1326.5 1221.7 L1327.1 1204.4 L1327.6 1202.4 L1328.2 1203.2 L1328.7 1209.1 L1329.3 1210.2 L1329.8 1213.7 L1330.4 1215.3 L1330.9 1210.4 L1331.5 1205.6 L1332.0 1206.0 L1332.5 1203.7 L1333.1 1210.8 L1333.6 1213.7 L1334.2 1206.2 L1334.7 1198.0 L1335.3 1210.4 L1335.8 1196.8 L1336.4 1212.1 L1336.9 1211.5 L1337.5 1197.7 L1338.0 1207.2 L1338.6 1200.9 L1339.1 1206.2 L1339.7 1209.9 L1340.2 1205.3 L1340.7 1187.7 L1341.3 1207.4 L1341.8 1207.3 L1342.4 1205.0 L1342.9 1198.9 L1343.5 1202.6 L1344.0 1205.5 L1344.6 1202.8 L1345.1 1215.3 L1345.7 1207.2 L1346.2 1201.6 L1346.8 1206.2 L1347.3 1187.8 L1347.9 1204.4 L1348.4 1210.9 L1348.9 1197.7 L1349.5 1203.8 L1350.0 1206.8 L1350.6 1194.0 L1351.1 1210.9 L1351.7 1195.6 L1352.2 1199.1 L1352.8 1203.7 L1353.3 1199.1 L1353.9 1206.8 L1354.4 1202.7 L1355.0 1204.4 L1355.5 1203.0 L1356.1 1211.0 L1356.6 1192.9 L1357.1 1205.7 L1357.7 1202.9 L1358.2 1198.3 L1358.8 1199.4 L1359.3 1200.5 L1359.9 1206.3 L1360.4 1198.3 L1361.0 1202.5 L1361.5 1204.9 L1362.1 1196.8 L1362.6 1217.9 L1363.2 1215.7 L1363.7 1199.2 L1364.3 1207.5 L1364.8 1200.4 L1365.3 1204.3 L1365.9 1200.8 L1366.4 1213.5 L1367.0 1198.9 L1367.5 1205.0 L1368.1 1203.3 L1368.6 1195.0 L1369.2 1189.0 L1369.7 1203.5 L1370.3 1205.3 L1370.8 1198.2 L1371.4 1197.2 L1371.9 1205.9 L1372.5 1205.9 L1373.0 1206.9 L1373.5 1203.6 L1374.1 1198.7 L1374.6 1195.4 L1375.2 1190.9 L1375.7 1202.0 L1376.3 1213.3 L1376.8 1210.0 L1377.4 1202.5 L1377.9 1194.2 L1378.5 1198.3 L1379.0 1202.1 L1379.6 1200.5 L1380.1 1204.2 L1380.6 1197.2 L1381.2 1200.7 L1381.7 1194.7 L1382.3 1192.4 L1382.8 1197.0 L1383.4 1185.5 L1383.9 1184.8 L1384.5 1177.3 L1385.0 1177.8 L1385.6 1174.0 L1386.1 1165.0 L1386.7 1156.6 L1387.2 1148.1 L1387.8 1139.1 L1388.3 1133.2 L1388.8 1130.3 L1389.4 1129.5 L1389.9 1135.7 L1390.5 1139.2 L1391.0 1141.7 L1391.6 1148.9 L1392.1 1155.7 L1392.7 1158.5 L1393.2 1160.7 L1393.8 1168.4 L1394.3 1176.9 L1394.9 1172.5 L1395.4 1178.4 L1396.0 1178.6 L1396.5 1182.5 L1397.0 1187.5 L1397.6 1194.4 L1398.1 1186.3 L1398.7 1187.4 L1399.2 1188.4 L1399.8 1188.0 L1400.3 1186.5 L1400.9 1190.0 L1401.4 1193.0 L1402.0 1195.9 L1402.5 1202.9 L1403.1 1192.7 L1403.6 1192.7 L1404.2 1193.0 L1404.7 1199.2 L1405.2 1197.2 L1405.8 1203.2 L1406.3 1196.5 L1406.9 1204.9 L1407.4 1205.6 L1408.0 1198.5 L1408.5 1191.5 L1409.1 1200.9 L1409.6 1195.4 L1410.2 1210.9 L1410.7 1202.3 L1411.3 1206.0 L1411.8 1195.2 L1412.4 1193.4 L1412.9 1206.4 L1413.4 1210.5 L1414.0 1199.5 L1414.5 1200.0 L1415.1 1199.4 L1415.6 1205.7 L1416.2 1209.7 L1416.7 1196.6 L1417.3 1211.5 L1417.8 1192.4 L1418.4 1203.0 L1418.9 1205.3 L1419.5 1198.7 L1420.0 1221.1 L1420.6 1218.9 L1421.1 1210.3 L1421.6 1209.4 L1422.2 1200.8 L1422.7 1218.7 L1423.3 1206.4 L1423.8 1203.5 L1424.4 1212.1 L1424.9 1207.5 L1425.5 1202.9 L1426.0 1205.8 L1426.6 1204.1 L1427.1 1205.5 L1427.7 1208.2 L1428.2 1208.2 L1428.8 1212.2 L1429.3 1205.3 L1429.8 1211.2 L1430.4 1215.9 L1430.9 1200.1 L1431.5 1217.9 L1432.0 1202.1 L1432.6 1201.6 L1433.1 1218.1 L1433.7 1215.8 L1434.2 1212.3 L1434.8 1206.4 L1435.3 1217.1 L1435.9 1201.4 L1436.4 1208.6 L1436.9 1210.1 L1437.5 1214.7 L1438.0 1199.6 L1438.6 1191.6 L1439.1 1208.9 L1439.7 1210.1 L1440.2 1209.1 L1440.8 1204.1 L1441.3 1210.3 L1441.9 1202.3 L1442.4 1213.4 L1443.0 1215.9 L1443.5 1207.7 L1444.1 1200.7 L1444.6 1210.4 L1445.1 1210.8 L1445.7 1210.9 L1446.2 1217.9 L1446.8 1211.1 L1447.3 1222.0 L1447.9 1212.2 L1448.4 1204.8 L1449.0 1217.3 L1449.5 1210.0 L1450.1 1207.1 L1450.6 1210.7 L1451.2 1209.7 L1451.7 1200.9 L1452.3 1204.6 L1452.8 1215.5 L1453.3 1210.6 L1453.9 1213.8 L1454.4 1223.8 L1455.0 1219.1 L1455.5 1206.1 L1456.1 1205.3 L1456.6 1204.5 L1457.2 1199.6 L1457.7 1202.8 L1458.3 1207.6 L1458.8 1206.5 L1459.4 1210.0 L1459.9 1200.1 L1460.5 1197.3 L1461.0 1208.4 L1461.5 1210.1 L1462.1 1182.6 L1462.6 1203.1 L1463.2 1204.9 L1463.7 1195.1 L1464.3 1209.1 L1464.8 1212.1 L1465.4 1180.6 L1465.9 1180.9 L1466.5 1206.7 L1467.0 1217.6 L1467.6 1194.5 L1468.1 1188.0 L1468.7 1204.7 L1469.2 1199.4 L1469.7 1197.8 L1470.3 1208.7 L1470.8 1202.3 L1471.4 1191.2 L1471.9 1200.0 L1472.5 1190.7 L1473.0 1200.4 L1473.6 1199.7 L1474.1 1196.3 L1474.7 1197.4 L1475.2 1200.6 L1475.8 1192.8 L1476.3 1185.6 L1476.9 1179.9 L1477.4 1182.6 L1477.9 1172.0 L1478.5 1165.1 L1479.0 1160.6 L1479.6 1149.9 L1480.1 1139.8 L1480.7 1130.3 L1481.2 1112.3 L1481.8 1094.5 L1482.3 1074.3 L1482.9 1045.9 L1483.4 1029.6 L1484.0 1008.9 L1484.5 994.1 L1485.0 990.0 L1485.6 988.2 L1486.1 1000.2 L1486.7 1007.4 L1487.2 1018.5 L1487.8 1034.6 L1488.3 1047.6 L1488.9 1064.1 L1489.4 1079.1 L1490.0 1090.1 L1490.5 1105.9 L1491.1 1116.5 L1491.6 1126.9 L1492.2 1136.1 L1492.7 1144.3 L1493.2 1152.3 L1493.8 1158.6 L1494.3 1164.0 L1494.9 1162.9 L1495.4 1172.7 L1496.0 1171.1 L1496.5 1174.5 L1497.1 1182.1 L1497.6 1181.9 L1498.2 1192.0 L1498.7 1188.8 L1499.3 1190.8 L1499.8 1195.6 L1500.4 1191.7 L1500.9 1193.6 L1501.4 1201.8 L1502.0 1191.0 L1502.5 1194.1 L1503.1 1198.4 L1503.6 1203.6 L1504.2 1202.0 L1504.7 1195.0 L1505.3 1187.9 L1505.8 1208.5 L1506.4 1204.2 L1506.9 1197.5 L1507.5 1194.4 L1508.0 1220.6 L1508.6 1208.1 L1509.1 1192.8 L1509.6 1199.4 L1510.2 1206.4 L1510.7 1202.1 L1511.3 1209.4 L1511.8 1226.9 L1512.4 1204.4 L1512.9 1206.5 L1513.5 1203.4 L1514.0 1208.5 L1514.6 1212.8 L1515.1 1209.0 L1515.7 1197.9 L1516.2 1207.9 L1516.8 1201.6 L1517.3 1214.4 L1517.8 1208.2 L1518.4 1211.9 L1518.9 1205.8 L1519.5 1205.5 L1520.0 1212.3 L1520.6 1206.4 L1521.1 1215.3 L1521.7 1200.3 L1522.2 1209.8 L1522.8 1204.1 L1523.3 1212.8 L1523.9 1197.5 L1524.4 1213.9 L1525.0 1205.5 L1525.5 1200.4 L1526.0 1210.0 L1526.6 1204.3 L1527.1 1207.1 L1527.7 1211.8 L1528.2 1199.0 L1528.8 1194.6 L1529.3 1205.2 L1529.9 1208.7 L1530.4 1202.1 L1531.0 1201.1 L1531.5 1209.1 L1532.1 1210.3 L1532.6 1212.2 L1533.2 1204.1 L1533.7 1192.2 L1534.2 1209.0 L1534.8 1210.5 L1535.3 1197.5 L1535.9 1205.6 L1536.4 1205.7 L1537.0 1206.1 L1537.5 1200.7 L1538.1 1203.7 L1538.6 1211.3 L1539.2 1192.9 L1539.7 1206.8 L1540.3 1200.3 L1540.8 1206.3 L1541.3 1197.5 L1541.9 1177.1 L1542.4 1206.8 L1543.0 1209.0 L1543.5 1190.7 L1544.1 1193.8 L1544.6 1201.5 L1545.2 1194.9 L1545.7 1204.5 L1546.3 1196.8 L1546.8 1198.1 L1547.4 1203.6 L1547.9 1187.3 L1548.5 1198.0 L1549.0 1223.5 L1549.5 1203.7 L1550.1 1195.3 L1550.6 1206.9 L1551.2 1212.3 L1551.7 1207.9 L1552.3 1197.8 L1552.8 1198.2 L1553.4 1199.9 L1553.9 1196.5 L1554.5 1203.0 L1555.0 1196.8 L1555.6 1197.6 L1556.1 1203.8 L1556.7 1194.6 L1557.2 1201.5 L1557.7 1213.8 L1558.3 1204.0 L1558.8 1209.2 L1559.4 1205.1 L1559.9 1205.2 L1560.5 1194.4 L1561.0 1199.0 L1561.6 1199.7 L1562.1 1199.1 L1562.7 1200.7 L1563.2 1203.4 L1563.8 1201.1 L1564.3 1206.0 L1564.9 1199.7 L1565.4 1206.6 L1565.9 1200.8 L1566.5 1197.5 L1567.0 1194.3 L1567.6 1197.4 L1568.1 1199.7 L1568.7 1207.7 L1569.2 1183.2 L1569.8 1206.7 L1570.3 1200.5 L1570.9 1189.2 L1571.4 1193.9 L1572.0 1203.7 L1572.5 1190.6 L1573.1 1198.4 L1573.6 1198.5 L1574.1 1198.5 L1574.7 1203.3 L1575.2 1196.3 L1575.8 1201.3 L1576.3 1194.4 L1576.9 1201.1 L1577.4 1204.4 L1578.0 1198.7 L1578.5 1202.9 L1579.1 1200.9 L1579.6 1199.4 L1580.2 1201.1 L1580.7 1199.9 L1581.3 1190.8 L1581.8 1181.1 L1582.3 1204.2 L1582.9 1190.7 L1583.4 1208.0 L1584.0 1194.0 L1584.5 1203.2 L1585.1 1205.5 L1585.6 1199.3 L1586.2 1210.0 L1586.7 1196.8 L1587.3 1209.3 L1587.8 1204.7 L1588.4 1203.4 L1588.9 1210.2 L1589.5 1207.6 L1590.0 1198.2 L1590.5 1212.7 L1591.1 1210.9 L1591.6 1206.2 L1592.2 1205.6 L1592.7 1211.7 L1593.3 1213.3 L1593.8 1207.8 L1594.4 1198.1 L1594.9 1205.6 L1595.5 1209.4 L1596.0 1200.3 L1596.6 1198.8 L1597.1 1206.5 L1597.6 1206.6 L1598.2 1208.1 L1598.7 1214.3 L1599.3 1183.1 L1599.8 1207.6 L1600.4 1205.5 L1600.9 1206.4 L1601.5 1207.4 L1602.0 1212.1 L1602.6 1210.7 L1603.1 1207.3 L1603.7 1208.4 L1604.2 1207.7 L1604.8 1206.6 L1605.3 1214.7 L1605.8 1196.8 L1606.4 1199.0 L1606.9 1227.9 L1607.5 1209.3 L1608.0 1209.8 L1608.6 1222.1 L1609.1 1195.0 L1609.7 1214.1 L1610.2 1200.2 L1610.8 1200.4 L1611.3 1211.1 L1611.9 1199.2 L1612.4 1207.8 L1613.0 1212.4 L1613.5 1200.9 L1614.0 1202.0 L1614.6 1208.3 L1615.1 1216.7 L1615.7 1206.4 L1616.2 1195.7 L1616.8 1214.9 L1617.3 1210.5 L1617.9 1194.1 L1618.4 1194.5 L1619.0 1201.2 L1619.5 1202.5 L1620.1 1208.4 L1620.6 1197.1 L1621.2 1212.9 L1621.7 1220.3 L1622.2 1207.0 L1622.8 1201.2 L1623.3 1205.4 L1623.9 1207.0 L1624.4 1211.3 L1625.0 1202.0 L1625.5 1204.2 L1626.1 1198.4 L1626.6 1199.8 L1627.2 1215.3 L1627.7 1207.5 L1628.3 1196.6 L1628.8 1193.6 L1629.4 1185.6 L1629.9 1175.2 L1630.4 1189.6 L1631.0 1187.5 L1631.5 1179.6 L1632.1 1169.9 L1632.6 1162.3 L1633.2 1147.6 L1633.7 1132.8 L1634.3 1111.1 L1634.8 1090.2 L1635.4 1055.9 L1635.9 1018.8 L1636.5 977.2 L1637.0 941.3 L1637.6 911.9 L1638.1 902.8 L1638.6 906.1 L1639.2 917.1 L1639.7 937.8 L1640.3 964.3 L1640.8 988.5 L1641.4 1009.7 L1641.9 1038.5 L1642.5 1060.7 L1643.0 1080.0 L1643.6 1101.0 L1644.1 1113.5 L1644.7 1129.5 L1645.2 1137.2 L1645.8 1150.1 L1646.3 1161.2 L1646.8 1167.5 L1647.4 1170.6 L1647.9 1175.3 L1648.5 1187.3 L1649.0 1187.0 L1649.6 1186.0 L1650.1 1199.5 L1650.7 1199.8 L1651.2 1198.4 L1651.8 1194.3 L1652.3 1202.7 L1652.9 1192.9 L1653.4 1205.0 L1653.9 1207.4 L1654.5 1203.2 L1655.0 1206.9 L1655.6 1207.5 L1656.1 1204.8 L1656.7 1203.4 L1657.2 1207.1 L1657.8 1204.8 L1658.3 1216.8 L1658.9 1202.3 L1659.4 1219.3 L1660.0 1208.4 L1660.5 1206.3 L1661.1 1208.1 L1661.6 1205.4 L1662.1 1199.4 L1662.7 1214.6 L1663.2 1209.6 L1663.8 1207.0 L1664.3 1204.5 L1664.9 1209.0 L1665.4 1193.8 L1666.0 1218.1 L1666.5 1201.6 L1667.1 1207.0 L1667.6 1207.2 L1668.2 1214.0 L1668.7 1212.6 L1669.3 1211.1 L1669.8 1210.9 L1670.3 1216.3 L1670.9 1206.3 L1671.4 1217.3 L1672.0 1192.5 L1672.5 1213.8 L1673.1 1207.5 L1673.6 1216.5 L1674.2 1203.7 L1674.7 1208.7 L1675.3 1206.5 L1675.8 1223.0 L1676.4 1202.3 L1676.9 1214.7 L1677.5 1212.2 L1678.0 1212.6 L1678.5 1206.1 L1679.1 1211.9 L1679.6 1217.8 L1680.2 1205.3 L1680.7 1210.0 L1681.3 1207.7 L1681.8 1202.5 L1682.4 1204.4 L1682.9 1210.9 L1683.5 1207.6 L1684.0 1193.9 L1684.6 1210.0 L1685.1 1204.8 L1685.7 1210.7 L1686.2 1201.9 L1686.7 1229.6 L1687.3 1201.2 L1687.8 1209.8 L1688.4 1189.9 L1688.9 1206.0 L1689.5 1198.5 L1690.0 1212.4 L1690.6 1205.7 L1691.1 1213.7 L1691.7 1204.5 L1692.2 1183.4 L1692.8 1201.3 L1693.3 1204.4 L1693.9 1213.6 L1694.4 1220.3 L1694.9 1205.6 L1695.5 1208.9 L1696.0 1214.2 L1696.6 1201.3 L1697.1 1206.2 L1697.7 1211.1 L1698.2 1212.4 L1698.8 1206.3 L1699.3 1193.6 L1699.9 1208.1 L1700.4 1211.9 L1701.0 1204.3 L1701.5 1208.9 L1702.1 1220.0 L1702.6 1215.0 L1703.1 1216.3 L1703.7 1202.9 L1704.2 1205.8 L1704.8 1206.3 L1705.3 1204.1 L1705.9 1202.3 L1706.4 1201.0 L1707.0 1208.4 L1707.5 1213.8 L1708.1 1213.4 L1708.6 1213.9 L1709.2 1214.9 L1709.7 1199.3 L1710.2 1207.4 L1710.8 1210.0 L1711.3 1207.1 L1711.9 1213.4 L1712.4 1209.4 L1713.0 1229.3 L1713.5 1209.1 L1714.1 1216.3 L1714.6 1222.4 L1715.2 1206.7 L1715.7 1210.4 L1716.3 1209.9 L1716.8 1207.6 L1717.4 1215.7 L1717.9 1215.9 L1718.4 1209.4 L1719.0 1210.5 L1719.5 1214.1 L1720.1 1214.3 L1720.6 1196.9 L1721.2 1224.4 L1721.7 1210.5 L1722.3 1213.4 L1722.8 1208.5 L1723.4 1211.0 L1723.9 1207.2 L1724.5 1221.3 L1725.0 1202.0 L1725.6 1210.3 L1726.1 1219.9 L1726.6 1188.6 L1727.2 1213.4 L1727.7 1218.4 L1728.3 1212.5 L1728.8 1211.1 L1729.4 1211.0 L1729.9 1209.8 L1730.5 1218.7 L1731.0 1205.4 L1731.6 1211.5 L1732.1 1207.3 L1732.7 1204.5 L1733.2 1201.3 L1733.8 1211.6 L1734.3 1203.7 L1734.8 1213.0 L1735.4 1207.7 L1735.9 1207.7 L1736.5 1201.2 L1737.0 1192.6 L1737.6 1208.6 L1738.1 1205.8 L1738.7 1208.2 L1739.2 1210.8 L1739.8 1209.3 L1740.3 1202.2 L1740.9 1222.9 L1741.4 1223.9 L1742.0 1208.4 L1742.5 1198.6 L1743.0 1201.8 L1743.6 1210.4 L1744.1 1204.0 L1744.7 1207.1 L1745.2 1184.2 L1745.8 1211.3 L1746.3 1225.0 L1746.9 1201.5 L1747.4 1206.4 L1748.0 1206.1 L1748.5 1194.1 L1749.1 1204.9 L1749.6 1204.8 L1750.2 1200.5 L1750.7 1203.8 L1751.2 1209.8 L1751.8 1210.7 L1752.3 1210.0 L1752.9 1205.1 L1753.4 1203.4 L1754.0 1208.3 L1754.5 1204.5 L1755.1 1212.9 L1755.6 1213.5 L1756.2 1204.6 L1756.7 1198.9 L1757.3 1210.8 L1757.8 1204.7 L1758.3 1212.4 L1758.9 1211.7 L1759.4 1202.8 L1760.0 1213.8 L1760.5 1214.7 L1761.1 1209.1 L1761.6 1209.9 L1762.2 1199.6 L1762.7 1201.6 L1763.3 1211.7 L1763.8 1206.2 L1764.4 1205.1 L1764.9 1204.8 L1765.5 1209.4 L1766.0 1204.7 L1766.5 1203.4 L1767.1 1204.4 L1767.6 1204.5 L1768.2 1202.8 L1768.7 1205.6 L1769.3 1199.6 L1769.8 1203.8 L1770.4 1215.7 L1770.9 1205.3 L1771.5 1214.9 L1772.0 1199.9 L1772.6 1209.5 L1773.1 1206.0 L1773.7 1213.6 L1774.2 1202.7 L1774.7 1215.5 L1775.3 1202.2 L1775.8 1204.6 L1776.4 1198.5 L1776.9 1204.5 L1777.5 1203.8 L1778.0 1199.3 L1778.6 1196.0 L1779.1 1211.3 L1779.7 1208.2 L1780.2 1202.2 L1780.8 1205.1 L1781.3 1202.2 L1781.9 1205.2 L1782.4 1208.8 L1782.9 1206.9 L1783.5 1202.4 L1784.0 1201.5 L1784.6 1206.7 L1785.1 1201.0 L1785.7 1202.2 L1786.2 1206.0 L1786.8 1207.8 L1787.3 1202.3 L1787.9 1209.1 L1788.4 1204.4 L1789.0 1201.8 L1789.5 1207.2 L1790.1 1198.0 L1790.6 1194.9 L1791.1 1206.3 L1791.7 1194.8 L1792.2 1200.8 L1792.8 1210.2 L1793.3 1207.4 L1793.9 1199.6 L1794.4 1203.5 L1795.0 1196.3 L1795.5 1198.3 L1796.1 1203.2 L1796.6 1208.1 L1797.2 1205.2 L1797.7 1204.8 L1798.3 1203.4 L1798.8 1207.0 L1799.3 1210.7 L1799.9 1213.1 L1800.4 1209.5 L1801.0 1208.4 L1801.5 1209.9 L1802.1 1210.5 L1802.6 1204.7 L1803.2 1205.4 L1803.7 1204.0 L1804.3 1204.7 L1804.8 1218.5 L1805.4 1213.3 L1805.9 1200.1 L1806.5 1210.5 L1807.0 1212.4 L1807.5 1210.7 L1808.1 1206.0 L1808.6 1218.9 L1809.2 1203.9 L1809.7 1222.3 L1810.3 1211.0 L1810.8 1206.4 L1811.4 1209.2 L1811.9 1201.2 L1812.5 1213.6 L1813.0 1216.8 L1813.6 1208.8 L1814.1 1213.2 L1814.6 1197.9 L1815.2 1208.6 L1815.7 1204.4 L1816.3 1217.3 L1816.8 1212.1 L1817.4 1210.6 L1817.9 1210.5 L1818.5 1210.5 L1819.0 1223.3 L1819.6 1206.8 L1820.1 1217.1 L1820.7 1215.4 L1821.2 1217.2 L1821.8 1209.1 L1822.3 1216.1 L1822.8 1215.5 L1823.4 1212.1 L1823.9 1215.2 L1824.5 1206.4 L1825.0 1208.6 L1825.6 1216.4 L1826.1 1219.8 L1826.7 1200.3 L1827.2 1215.1 L1827.8 1202.6 L1828.3 1210.6 L1828.9 1201.8 L1829.4 1212.1 L1830.0 1207.8 L1830.5 1211.2 L1831.0 1212.1 L1831.6 1207.2 L1832.1 1218.9 L1832.7 1208.7 L1833.2 1214.4 L1833.8 1217.7 L1834.3 1212.2 L1834.9 1211.6 L1835.4 1199.6 L1836.0 1205.0 L1836.5 1206.8 L1837.1 1208.4 L1837.6 1189.4 L1838.2 1202.8 L1838.7 1209.1 L1839.2 1210.5 L1839.8 1215.2 L1840.3 1217.9 L1840.9 1212.1 L1841.4 1208.1 L1842.0 1213.7 L1842.5 1204.6 L1843.1 1209.6 L1843.6 1218.0 L1844.2 1216.5 L1844.7 1207.4 L1845.3 1214.4 L1845.8 1206.8 L1846.4 1205.7 L1846.9 1200.3 L1847.4 1212.0 L1848.0 1211.7 L1848.5 1224.9 L1849.1 1215.5 L1849.6 1206.7 L1850.2 1215.1 L1850.7 1220.6 L1851.3 1222.8 L1851.8 1213.8 L1852.4 1211.5 L1852.9 1211.8 L1853.5 1209.9 L1854.0 1206.9 L1854.6 1218.6 L1855.1 1213.7 L1855.6 1210.4 L1856.2 1217.4 L1856.7 1213.3 L1857.3 1201.9 L1857.8 1215.7 L1858.4 1207.1 L1858.9 1191.0 L1859.5 1211.3 L1860.0 1209.1 L1860.6 1206.5 L1861.1 1218.9 L1861.7 1210.6 L1862.2 1210.0 L1862.8 1206.5 L1863.3 1203.3 L1863.8 1207.0 L1864.4 1199.8 L1864.9 1212.4 L1865.5 1181.5 L1866.0 1176.3 L1866.6 1170.6 L1867.1 1171.3 L1867.7 1174.6 L1868.2 1181.0 L1868.8 1189.1 L1869.3 1195.5 L1869.9 1199.3 L1870.4 1198.8 L1870.9 1225.0 L1871.5 1215.9 L1872.0 1217.7 L1872.6 1206.7 L1873.1 1213.3 L1873.7 1214.3 L1874.2 1218.9 L1874.8 1214.2 L1875.3 1214.6 L1875.9 1210.1 L1876.4 1228.6 L1877.0 1219.8 L1877.5 1216.4 L1878.1 1213.2 L1878.6 1214.6 L1879.1 1218.6 L1879.7 1211.8 L1880.2 1216.9 L1880.8 1209.2 L1881.3 1215.5 L1881.9 1206.0 L1882.4 1206.8 L1883.0 1223.6 L1883.5 1213.4 L1884.1 1218.7 L1884.6 1197.8 L1885.2 1210.8 L1885.7 1210.8 L1886.3 1209.3 L1886.8 1214.0 L1887.3 1207.1 L1887.9 1219.0 L1888.4 1216.1 L1889.0 1207.4 L1889.5 1216.2 L1890.1 1215.1 L1890.6 1234.8 L1891.2 1218.6 L1891.7 1206.4 L1892.3 1207.3 L1892.8 1226.3 L1893.4 1205.4 L1893.9 1215.7 L1894.5 1207.6 L1895.0 1213.9 L1895.5 1213.8 L1896.1 1212.9 L1896.6 1206.9 L1897.2 1211.2 L1897.7 1217.2 L1898.3 1209.3 L1898.8 1216.4 L1899.4 1218.7 L1899.9 1220.5 L1900.5 1218.1 L1901.0 1211.0 L1901.6 1209.9 L1902.1 1208.5 L1902.7 1206.7 L1903.2 1209.3 L1903.7 1202.5 L1904.3 1212.8 L1904.8 1205.6 L1905.4 1215.8 L1905.9 1215.6 L1906.5 1217.0 L1907.0 1204.9 L1907.6 1208.2 L1908.1 1205.0 L1908.7 1200.5 L1909.2 1206.2 L1909.8 1205.9 L1910.3 1216.6 L1910.9 1195.0 L1911.4 1212.4 L1911.9 1208.5 L1912.5 1207.8 L1913.0 1208.8 L1913.6 1212.9 L1914.1 1208.6 L1914.7 1222.0 L1915.2 1211.3 L1915.8 1207.2 L1916.3 1207.6 L1916.9 1210.5 L1917.4 1219.4 L1918.0 1213.8 L1918.5 1217.7 L1919.1 1203.2 L1919.6 1207.2 L1920.1 1210.4 L1920.7 1209.3 L1921.2 1213.7 L1921.8 1215.5 L1922.3 1207.8 L1922.9 1194.7 L1923.4 1206.1 L1924.0 1204.6 L1924.5 1214.2 L1925.1 1223.2 L1925.6 1216.1 L1926.2 1222.3 L1926.7 1214.8 L1927.2 1219.7 L1927.8 1215.2 L1928.3 1217.4 L1928.9 1208.5 L1929.4 1212.6 L1930.0 1222.9 L1930.5 1219.3 L1931.1 1207.2 L1931.6 1220.4 L1932.2 1221.5 L1932.7 1211.5 L1933.3 1216.8 L1933.8 1211.1 L1934.4 1218.4 L1934.9 1215.3 L1935.4 1212.7 L1936.0 1214.3 L1936.5 1211.4 L1937.1 1217.2 L1937.6 1208.8 L1938.2 1216.3 L1938.7 1213.4 L1939.3 1208.1 L1939.8 1209.5 L1940.4 1213.8 L1940.9 1217.7 L1941.5 1205.8 L1942.0 1209.0 L1942.6 1208.7 L1943.1 1199.9 L1943.6 1209.1 L1944.2 1213.4 L1944.7 1213.0 L1945.3 1205.4 L1945.8 1211.0 L1946.4 1206.1 L1946.9 1210.7 L1947.5 1207.7 L1948.0 1195.4 L1948.6 1193.3 L1949.1 1176.2 L1949.7 1171.1 L1950.2 1155.3 L1950.8 1151.9 L1951.3 1152.1 L1951.8 1155.3 L1952.4 1162.8 L1952.9 1160.0 L1953.5 1164.1 L1954.0 1165.8 L1954.6 1173.2 L1955.1 1178.9 L1955.7 1183.8 L1956.2 1180.5 L1956.8 1183.8 L1957.3 1198.9 L1957.9 1196.4 L1958.4 1186.6 L1959.0 1194.1 L1959.5 1188.9 L1960.0 1199.7 L1960.6 1203.0 L1961.1 1204.6 L1961.7 1206.3 L1962.2 1209.5 L1962.8 1206.3 L1963.3 1198.7 L1963.9 1207.9 L1964.4 1211.4 L1965.0 1200.7 L1965.5 1196.7 L1966.1 1226.1 L1966.6 1218.3 L1967.2 1207.3 L1967.7 1203.1 L1968.2 1206.4 L1968.8 1205.6 L1969.3 1207.7 L1969.9 1214.5 L1970.4 1186.8 L1971.0 1197.6 L1971.5 1215.3 L1972.1 1193.8 L1972.6 1205.1 L1973.2 1187.9 L1973.7 1193.9 L1974.3 1181.4 L1974.8 1181.7 L1975.4 1181.3 L1975.9 1190.1 L1976.4 1187.1 L1977.0 1184.3 L1977.5 1200.2 L1978.1 1218.1 L1978.6 1206.8 L1979.2 1205.5 L1979.7 1209.0 L1980.3 1214.1 L1980.8 1205.4 L1981.4 1202.7 L1981.9 1218.4 L1982.5 1216.8 L1983.0 1203.5 L1983.5 1214.0 L1984.1 1212.1 L1984.6 1209.3 L1985.2 1203.7 L1985.7 1202.9 L1986.3 1207.7 L1986.8 1209.3 L1987.4 1218.8 L1987.9 1192.1 L1988.5 1217.1 L1989.0 1212.4 L1989.6 1215.7 L1990.1 1222.5 L1990.7 1206.0 L1991.2 1212.1 L1991.7 1202.9 L1992.3 1208.3 L1992.8 1220.5 L1993.4 1223.1 L1993.9 1212.6 L1994.5 1211.6 L1995.0 1213.8 L1995.6 1213.1 L1996.1 1236.7 L1996.7 1206.7 L1997.2 1203.6 L1997.8 1208.9 L1998.3 1205.2 L1998.9 1213.5 L1999.4 1213.2 L1999.9 1204.8 L2000.5 1213.0 L2001.0 1211.6 L2001.6 1214.0 L2002.1 1204.6 L2002.7 1210.8 L2003.2 1212.1 L2003.8 1220.6 L2004.3 1207.8 L2004.9 1211.2 L2005.4 1215.1 L2006.0 1214.1 L2006.5 1220.6 L2007.1 1209.6 L2007.6 1214.6 L2008.1 1212.1 L2008.7 1207.5 L2009.2 1210.5 L2009.8 1211.8 L2010.3 1207.6 L2010.9 1225.8 L2011.4 1213.9 L2012.0 1218.1 L2012.5 1234.6 L2013.1 1222.6 L2013.6 1202.6 L2014.2 1208.4 L2014.7 1203.4 L2015.3 1207.9 L2015.8 1209.8 L2016.3 1203.2 L2016.9 1217.0 L2017.4 1217.8 L2018.0 1207.4 L2018.5 1215.0 L2019.1 1222.9 L2019.6 1215.5 L2020.2 1204.7 L2020.7 1224.5 L2021.3 1223.8 L2021.8 1205.5 L2022.4 1209.8 L2022.9 1205.8 L2023.5 1216.4 L2024.0 1213.5 L2024.5 1216.0 L2025.1 1207.4 L2025.6 1206.8 L2026.2 1208.8 L2026.7 1210.9 L2027.3 1215.4 L2027.8 1211.6 L2028.4 1218.9 L2028.9 1217.4 L2029.5 1219.3 L2030.0 1215.0 L2030.6 1223.3 L2031.1 1224.8 L2031.6 1211.0 L2032.2 1208.5 L2032.7 1219.7 L2033.3 1218.1 L2033.8 1219.5 L2034.4 1212.3 L2034.9 1209.2 L2035.5 1214.1 L2036.0 1223.5 L2036.6 1213.5 L2037.1 1218.2 L2037.7 1211.2 L2038.2 1201.8 L2038.8 1209.7 L2039.3 1201.9 L2039.8 1210.7 L2040.4 1218.4 L2040.9 1214.3 L2041.5 1209.4 L2042.0 1213.4 L2042.6 1215.3 L2043.1 1218.2 L2043.7 1209.0 L2044.2 1212.8 L2044.8 1217.5 L2045.3 1218.5 L2045.9 1205.5 L2046.4 1208.6 L2047.0 1189.9 L2047.5 1201.1 L2048.0 1214.5 L2048.6 1221.4 L2049.1 1210.2 L2049.7 1209.1 L2050.2 1205.8 L2050.8 1203.6 L2051.3 1204.9 L2051.9 1212.3 L2052.4 1196.9 L2053.0 1207.2 L2053.5 1206.3 L2054.1 1203.5 L2054.6 1210.8 L2055.2 1205.2 L2055.7 1203.9 L2056.2 1206.4 L2056.8 1201.1 L2057.3 1200.5 L2057.9 1205.1 L2058.4 1203.4 L2059.0 1214.1 L2059.5 1209.3 L2060.1 1203.2 L2060.6 1208.7 L2061.2 1212.4 L2061.7 1212.0 L2062.3 1218.2 L2062.8 1197.6 L2063.4 1215.4 L2063.9 1206.5 L2064.4 1209.9 L2065.0 1205.1 L2065.5 1204.0 L2066.1 1219.4 L2066.6 1233.4 L2067.2 1211.5 L2067.7 1215.1 L2068.3 1212.3 L2068.8 1219.9 L2069.4 1201.3 L2069.9 1219.6 L2070.5 1187.6 L2071.0 1218.8 L2071.6 1220.1 L2072.1 1201.7 L2072.6 1205.0 L2073.2 1208.6 L2073.7 1213.2 L2074.3 1197.1 L2074.8 1207.6 L2075.4 1211.8 L2075.9 1220.5 L2076.5 1219.4 L2077.0 1208.0 L2077.6 1208.2 L2078.1 1201.4 L2078.7 1223.1 L2079.2 1204.5 L2079.8 1211.3 L2080.3 1205.0 L2080.8 1209.1 L2081.4 1212.1 L2081.9 1206.8 L2082.5 1210.6 L2083.0 1208.0 L2083.6 1214.8 L2084.1 1207.9 L2084.7 1210.2 L2085.2 1210.0 L2085.8 1219.3 L2086.3 1218.5 L2086.9 1202.0 L2087.4 1203.0 L2087.9 1197.8 L2088.5 1202.1 L2089.0 1200.1 L2089.6 1195.0 L2090.1 1197.2 L2090.7 1188.6 L2091.2 1191.9 L2091.8 1184.8 L2092.3 1194.7 L2092.9 1188.9 L2093.4 1191.8 L2094.0 1198.4 L2094.5 1190.9 L2095.1 1209.2 L2095.6 1200.9 L2096.1 1203.4 L2096.7 1197.2 L2097.2 1198.5 L2097.8 1206.0 L2098.3 1203.1 L2098.9 1205.6 L2099.4 1208.7 L2100.0 1206.0 L2100.5 1209.9 L2101.1 1213.0 L2101.6 1205.9 L2102.2 1206.4 L2102.7 1209.9 L2103.3 1208.1 L2103.8 1208.8 L2104.3 1210.9 L2104.9 1201.2 L2105.4 1218.5 L2106.0 1208.7 L2106.5 1210.8 L2107.1 1193.8 L2107.6 1208.8 L2108.2 1208.1 L2108.7 1196.3 L2109.3 1209.3 L2109.8 1202.6 L2110.4 1235.8 L2110.9 1212.6 L2111.5 1213.8"/>
<path class="crv" stroke="#0000ff" d="M198.9 973.5 L199.4 978.7 L200.0 968.1 L200.5 988.5 L201.1 969.5 L201.6 974.4 L202.2 981.3 L202.7 971.0 L203.3 963.2 L203.8 973.4 L204.4 985.2 L204.9 989.3 L205.5 976.0 L206.0 969.9 L206.6 978.0 L207.1 972.3 L207.6 975.0 L208.2 981.9 L208.7 972.6 L209.3 975.9 L209.8 971.1 L210.4 975.4 L210.9 977.2 L211.5 970.0 L212.0 974.0 L212.6 974.2 L213.1 972.5 L213.7 968.8 L214.2 967.4 L214.8 974.1 L215.3 973.7 L215.8 998.7 L216.4 961.8 L216.9 975.9 L217.5 980.8 L218.0 983.0 L218.6 978.2 L219.1 963.3 L219.7 974.7 L220.2 976.8 L220.8 971.4 L221.3 977.1 L221.9 963.5 L222.4 981.7 L223.0 980.4 L223.5 971.7 L224.0 982.2 L224.6 974.2 L225.1 969.6 L225.7 975.8 L226.2 980.5 L226.8 973.0 L227.3 970.6 L227.9 975.0 L228.4 977.9 L229.0 983.0 L229.5 973.0 L230.1 979.7 L230.6 979.0 L231.1 968.1 L231.7 974.6 L232.2 974.8 L232.8 976.1 L233.3 980.2 L233.9 965.2 L234.4 975.6 L235.0 970.8 L235.5 967.0 L236.1 978.0 L236.6 979.1 L237.2 972.0 L237.7 986.4 L238.3 972.3 L238.8 974.3 L239.3 967.5 L239.9 982.8 L240.4 959.8 L241.0 972.9 L241.5 977.9 L242.1 964.2 L242.6 973.4 L243.2 974.1 L243.7 978.5 L244.3 991.6 L244.8 972.9 L245.4 967.3 L245.9 993.6 L246.5 980.6 L247.0 972.9 L247.5 977.3 L248.1 975.8 L248.6 976.0 L249.2 973.1 L249.7 979.3 L250.3 961.2 L250.8 975.0 L251.4 971.0 L251.9 967.5 L252.5 974.7 L253.0 956.3 L253.6 974.7 L254.1 971.1 L254.7 962.9 L255.2 970.2 L255.7 966.1 L256.3 982.0 L256.8 978.9 L257.4 971.0 L257.9 964.3 L258.5 964.9 L259.0 966.6 L259.6 961.0 L260.1 963.7 L260.7 965.0 L261.2 966.3 L261.8 964.9 L262.3 963.8 L262.9 963.4 L263.4 981.8 L263.9 959.9 L264.5 961.0 L265.0 968.8 L265.6 965.1 L266.1 968.8 L266.7 976.3 L267.2 971.7 L267.8 968.4 L268.3 959.8 L268.9 970.5 L269.4 953.7 L270.0 963.3 L270.5 961.5 L271.1 957.8 L271.6 966.3 L272.1 961.6 L272.7 968.7 L273.2 955.8 L273.8 968.7 L274.3 966.6 L274.9 965.6 L275.4 956.3 L276.0 963.5 L276.5 956.0 L277.1 952.9 L277.6 980.9 L278.2 968.2 L278.7 972.3 L279.3 960.3 L279.8 966.9 L280.3 966.5 L280.9 967.2 L281.4 963.5 L282.0 963.1 L282.5 953.6 L283.1 968.2 L283.6 967.0 L284.2 970.6 L284.7 962.8 L285.3 974.1 L285.8 962.8 L286.4 958.4 L286.9 970.9 L287.4 959.0 L288.0 959.6 L288.5 967.2 L289.1 971.7 L289.6 969.2 L290.2 970.4 L290.7 989.3 L291.3 971.8 L291.8 976.2 L292.4 956.8 L292.9 971.7 L293.5 971.6 L294.0 966.2 L294.6 963.4 L295.1 969.9 L295.6 966.4 L296.2 964.3 L296.7 973.6 L297.3 974.1 L297.8 968.7 L298.4 964.8 L298.9 970.7 L299.5 973.0 L300.0 972.9 L300.6 961.1 L301.1 967.3 L301.7 971.9 L302.2 973.7 L302.8 975.0 L303.3 973.8 L303.8 963.3 L304.4 965.6 L304.9 964.5 L305.5 980.1 L306.0 971.0 L306.6 972.8 L307.1 975.0 L307.7 967.3 L308.2 962.7 L308.8 966.3 L309.3 967.6 L309.9 988.7 L310.4 971.9 L311.0 951.3 L311.5 969.0 L312.0 968.6 L312.6 958.1 L313.1 963.3 L313.7 940.2 L314.2 964.7 L314.8 959.4 L315.3 956.3 L315.9 959.5 L316.4 964.4 L317.0 960.7 L317.5 966.0 L318.1 966.7 L318.6 959.6 L319.2 961.9 L319.7 975.6 L320.2 965.1 L320.8 960.3 L321.3 965.3 L321.9 958.5 L322.4 980.6 L323.0 965.6 L323.5 968.7 L324.1 968.7 L324.6 965.4 L325.2 968.7 L325.7 964.8 L326.3 958.9 L326.8 956.7 L327.4 960.4 L327.9 949.4 L328.4 972.1 L329.0 937.7 L329.5 960.1 L330.1 953.2 L330.6 949.5 L331.2 960.0 L331.7 958.4 L332.3 958.8 L332.8 967.7 L333.4 956.9 L333.9 963.4 L334.5 963.3 L335.0 958.5 L335.6 959.1 L336.1 963.7 L336.6 961.3 L337.2 962.2 L337.7 947.7 L338.3 959.5 L338.8 960.7 L339.4 956.0 L339.9 960.0 L340.5 968.3 L341.0 959.4 L341.6 961.0 L342.1 951.3 L342.7 948.7 L343.2 945.1 L343.7 935.4 L344.3 931.3 L344.8 924.9 L345.4 930.1 L345.9 933.6 L346.5 939.8 L347.0 950.3 L347.6 952.0 L348.1 954.5 L348.7 953.5 L349.2 954.4 L349.8 961.9 L350.3 963.3 L350.9 960.7 L351.4 954.6 L351.9 964.5 L352.5 947.8 L353.0 945.6 L353.6 958.0 L354.1 955.9 L354.7 954.8 L355.2 955.4 L355.8 946.3 L356.3 949.5 L356.9 961.8 L357.4 960.6 L358.0 950.9 L358.5 977.6 L359.1 949.1 L359.6 951.7 L360.1 956.2 L360.7 937.7 L361.2 951.8 L361.8 952.9 L362.3 952.5 L362.9 959.3 L363.4 959.3 L364.0 949.4 L364.5 950.9 L365.1 955.6 L365.6 954.7 L366.2 944.3 L366.7 961.5 L367.3 960.9 L367.8 953.2 L368.3 960.8 L368.9 947.2 L369.4 946.7 L370.0 958.6 L370.5 950.5 L371.1 949.2 L371.6 952.6 L372.2 949.9 L372.7 955.9 L373.3 946.6 L373.8 952.4 L374.4 970.7 L374.9 954.1 L375.5 943.4 L376.0 957.3 L376.5 957.2 L377.1 960.9 L377.6 955.0 L378.2 951.5 L378.7 962.6 L379.3 960.3 L379.8 946.8 L380.4 960.3 L380.9 954.9 L381.5 963.0 L382.0 954.8 L382.6 960.7 L383.1 957.5 L383.7 959.0 L384.2 955.6 L384.7 953.3 L385.3 957.4 L385.8 959.3 L386.4 958.7 L386.9 964.4 L387.5 961.4 L388.0 958.6 L388.6 967.3 L389.1 957.4 L389.7 958.9 L390.2 951.5 L390.8 955.2 L391.3 962.9 L391.8 958.0 L392.4 961.3 L392.9 946.6 L393.5 944.4 L394.0 953.7 L394.6 944.7 L395.1 966.9 L395.7 959.2 L396.2 945.5 L396.8 951.4 L397.3 949.7 L397.9 954.8 L398.4 952.7 L399.0 958.6 L399.5 961.9 L400.0 952.2 L400.6 946.3 L401.1 955.5 L401.7 952.6 L402.2 959.0 L402.8 951.2 L403.3 963.2 L403.9 952.6 L404.4 950.0 L405.0 948.2 L405.5 954.5 L406.1 964.2 L406.6 954.9 L407.2 948.7 L407.7 954.6 L408.2 951.4 L408.8 944.2 L409.3 955.4 L409.9 958.6 L410.4 948.9 L411.0 944.2 L411.5 953.4 L412.1 961.1 L412.6 955.4 L413.2 955.6 L413.7 962.4 L414.3 958.2 L414.8 953.7 L415.4 949.3 L415.9 951.6 L416.4 950.1 L417.0 955.4 L417.5 946.9 L418.1 960.5 L418.6 953.4 L419.2 950.4 L419.7 956.5 L420.3 940.8 L420.8 947.1 L421.4 947.5 L421.9 954.3 L422.5 946.0 L423.0 952.7 L423.6 940.5 L424.1 941.6 L424.6 926.0 L425.2 921.3 L425.7 904.9 L426.3 892.5 L426.8 879.4 L427.4 873.8 L427.9 878.0 L428.5 887.4 L429.0 894.6 L429.6 904.1 L430.1 916.2 L430.7 927.9 L431.2 928.8 L431.8 936.1 L432.3 943.6 L432.8 944.3 L433.4 952.1 L433.9 965.9 L434.5 952.2 L435.0 952.4 L435.6 957.4 L436.1 953.4 L436.7 949.3 L437.2 950.3 L437.8 949.6 L438.3 978.0 L438.9 955.4 L439.4 958.9 L440.0 958.6 L440.5 949.2 L441.0 957.7 L441.6 950.9 L442.1 930.2 L442.7 951.9 L443.2 946.2 L443.8 947.6 L444.3 954.0 L444.9 976.0 L445.4 949.6 L446.0 950.5 L446.5 955.5 L447.1 951.2 L447.6 948.9 L448.1 943.3 L448.7 944.2 L449.2 946.4 L449.8 942.5 L450.3 945.1 L450.9 940.8 L451.4 953.9 L452.0 939.6 L452.5 957.9 L453.1 944.4 L453.6 941.7 L454.2 940.7 L454.7 958.0 L455.3 953.1 L455.8 941.8 L456.3 951.1 L456.9 945.2 L457.4 945.6 L458.0 947.3 L458.5 950.3 L459.1 934.9 L459.6 922.1 L460.2 946.7 L460.7 945.3 L461.3 949.9 L461.8 936.5 L462.4 931.5 L462.9 954.6 L463.5 939.2 L464.0 948.6 L464.5 936.2 L465.1 945.3 L465.6 939.7 L466.2 953.5 L466.7 936.6 L467.3 940.7 L467.8 943.0 L468.4 953.9 L468.9 949.6 L469.5 951.5 L470.0 948.1 L470.6 950.0 L471.1 952.0 L471.7 957.4 L472.2 950.1 L472.7 940.9 L473.3 954.8 L473.8 949.8 L474.4 943.4 L474.9 948.5 L475.5 944.3 L476.0 960.4 L476.6 947.5 L477.1 938.5 L477.7 951.3 L478.2 945.3 L478.8 957.6 L479.3 951.3 L479.9 927.1 L480.4 949.1 L480.9 945.8 L481.5 947.6 L482.0 947.4 L482.6 927.0 L483.1 951.9 L483.7 946.6 L484.2 946.5 L484.8 955.6 L485.3 961.9 L485.9 947.0 L486.4 960.3 L487.0 940.2 L487.5 954.2 L488.1 947.8 L488.6 950.2 L489.1 937.0 L489.7 948.9 L490.2 951.1 L490.8 951.3 L491.3 956.0 L491.9 966.9 L492.4 950.6 L493.0 953.5 L493.5 930.6 L494.1 940.4 L494.6 960.2 L495.2 945.4 L495.7 948.2 L496.3 952.9 L496.8 958.4 L497.3 955.4 L497.9 963.4 L498.4 951.5 L499.0 943.2 L499.5 954.5 L500.1 954.4 L500.6 949.1 L501.2 951.8 L501.7 950.3 L502.3 962.5 L502.8 950.2 L503.4 945.2 L503.9 954.1 L504.4 942.9 L505.0 955.2 L505.5 956.0 L506.1 948.8 L506.6 950.1 L507.2 950.4 L507.7 961.8 L508.3 958.4 L508.8 945.5 L509.4 946.6 L509.9 952.5 L510.5 953.3 L511.0 948.8 L511.6 954.3 L512.1 949.7 L512.6 957.8 L513.2 954.4 L513.7 951.1 L514.3 952.4 L514.8 945.3 L515.4 954.7 L515.9 955.5 L516.5 947.3 L517.0 951.4 L517.6 946.9 L518.1 962.7 L518.7 947.2 L519.2 953.1 L519.8 952.4 L520.3 945.5 L520.8 949.5 L521.4 947.1 L521.9 950.5 L522.5 951.0 L523.0 953.3 L523.6 952.6 L524.1 945.6 L524.7 945.4 L525.2 940.4 L525.8 943.5 L526.3 938.5 L526.9 952.2 L527.4 947.7 L528.0 945.7 L528.5 926.0 L529.0 940.3 L529.6 934.4 L530.1 945.6 L530.7 950.0 L531.2 950.1 L531.8 946.2 L532.3 941.7 L532.9 948.2 L533.4 948.9 L534.0 950.8 L534.5 951.0 L535.1 945.6 L535.6 947.1 L536.2 951.1 L536.7 950.3 L537.2 947.3 L537.8 936.4 L538.3 944.7 L538.9 952.6 L539.4 948.6 L540.0 953.0 L540.5 942.4 L541.1 948.0 L541.6 951.5 L542.2 950.9 L542.7 949.8 L543.3 953.1 L543.8 954.8 L544.4 955.7 L544.9 939.5 L545.4 946.3 L546.0 947.6 L546.5 946.8 L547.1 940.2 L547.6 957.4 L548.2 945.0 L548.7 950.4 L549.3 936.3 L549.8 946.7 L550.4 948.1 L550.9 945.4 L551.5 953.6 L552.0 961.8 L552.6 943.7 L553.1 943.0 L553.6 957.0 L554.2 950.4 L554.7 946.3 L555.3 940.9 L555.8 951.9 L556.4 948.2 L556.9 956.0 L557.5 943.0 L558.0 946.3 L558.6 946.6 L559.1 947.5 L559.7 954.4 L560.2 953.8 L560.7 945.9 L561.3 948.0 L561.8 947.5 L562.4 953.4 L562.9 946.1 L563.5 941.8 L564.0 946.4 L564.6 947.6 L565.1 952.8 L565.7 954.5 L566.2 955.3 L566.8 949.9 L567.3 944.6 L567.9 950.4 L568.4 943.4 L568.9 941.2 L569.5 946.1 L570.0 946.7 L570.6 949.3 L571.1 939.6 L571.7 935.2 L572.2 946.3 L572.8 937.9 L573.3 949.4 L573.9 938.3 L574.4 941.0 L575.0 934.4 L575.5 953.9 L576.1 937.2 L576.6 943.7 L577.1 941.7 L577.7 943.5 L578.2 956.4 L578.8 945.5 L579.3 945.5 L579.9 962.2 L580.4 937.6 L581.0 951.6 L581.5 967.5 L582.1 925.5 L582.6 945.7 L583.2 937.3 L583.7 932.8 L584.3 939.1 L584.8 950.6 L585.3 947.2 L585.9 941.6 L586.4 931.4 L587.0 941.4 L587.5 939.8 L588.1 940.9 L588.6 931.1 L589.2 943.4 L589.7 943.9 L590.3 956.4 L590.8 946.6 L591.4 942.0 L591.9 943.6 L592.5 945.3 L593.0 940.1 L593.5 933.2 L594.1 940.6 L594.6 940.1 L595.2 944.4 L595.7 940.4 L596.3 939.7 L596.8 943.4 L597.4 945.3 L597.9 947.4 L598.5 942.7 L599.0 949.7 L599.6 938.4 L600.1 948.7 L600.7 943.9 L601.2 925.0 L601.7 942.4 L602.3 945.1 L602.8 939.0 L603.4 948.3 L603.9 942.2 L604.5 946.9 L605.0 930.8 L605.6 946.2 L606.1 948.1 L606.7 942.4 L607.2 944.8 L607.8 941.4 L608.3 946.2 L608.9 944.6 L609.4 947.0 L609.9 943.4 L610.5 936.4 L611.0 936.5 L611.6 937.3 L612.1 946.6 L612.7 956.3 L613.2 948.5 L613.8 939.7 L614.3 933.1 L614.9 946.6 L615.4 945.1 L616.0 938.3 L616.5 948.9 L617.0 943.9 L617.6 942.8 L618.1 933.7 L618.7 949.0 L619.2 944.5 L619.8 941.7 L620.3 937.9 L620.9 940.8 L621.4 959.7 L622.0 945.7 L622.5 953.3 L623.1 948.5 L623.6 944.7 L624.2 947.7 L624.7 945.2 L625.2 934.5 L625.8 939.9 L626.3 945.0 L626.9 937.6 L627.4 940.6 L628.0 937.0 L628.5 952.8 L629.1 936.6 L629.6 938.4 L630.2 938.9 L630.7 948.6 L631.3 950.0 L631.8 940.8 L632.4 952.3 L632.9 939.8 L633.4 945.0 L634.0 958.9 L634.5 958.7 L635.1 945.5 L635.6 937.6 L636.2 942.8 L636.7 936.8 L637.3 932.7 L637.8 948.4 L638.4 953.7 L638.9 946.4 L639.5 951.1 L640.0 937.1 L640.6 954.2 L641.1 941.3 L641.6 949.5 L642.2 952.8 L642.7 954.0 L643.3 959.6 L643.8 951.7 L644.4 944.1 L644.9 943.1 L645.5 953.5 L646.0 944.8 L646.6 941.9 L647.1 949.6 L647.7 954.2 L648.2 949.1 L648.8 945.6 L649.3 952.1 L649.8 944.9 L650.4 930.2 L650.9 959.3 L651.5 952.3 L652.0 960.7 L652.6 941.3 L653.1 955.6 L653.7 948.2 L654.2 963.2 L654.8 948.1 L655.3 943.2 L655.9 951.0 L656.4 949.5 L657.0 946.7 L657.5 954.8 L658.0 953.4 L658.6 954.0 L659.1 951.6 L659.7 946.2 L660.2 947.4 L660.8 954.3 L661.3 946.1 L661.9 960.7 L662.4 951.2 L663.0 946.8 L663.5 955.8 L664.1 949.1 L664.6 955.5 L665.1 949.8 L665.7 958.6 L666.2 946.6 L666.8 936.6 L667.3 939.5 L667.9 938.7 L668.4 950.9 L669.0 957.8 L669.5 947.2 L670.1 940.3 L670.6 952.2 L671.2 951.4 L671.7 945.9 L672.3 950.0 L672.8 947.6 L673.3 940.6 L673.9 950.9 L674.4 944.0 L675.0 934.2 L675.5 946.4 L676.1 969.5 L676.6 958.2 L677.2 956.3 L677.7 945.6 L678.3 933.9 L678.8 953.6 L679.4 947.6 L679.9 949.0 L680.5 942.6 L681.0 943.9 L681.5 942.4 L682.1 951.8 L682.6 953.0 L683.2 944.1 L683.7 950.1 L684.3 949.9 L684.8 941.9 L685.4 945.8 L685.9 956.9 L686.5 939.9 L687.0 951.8 L687.6 944.2 L688.1 945.8 L688.7 944.9 L689.2 938.1 L689.7 947.9 L690.3 945.0 L690.8 943.3 L691.4 944.8 L691.9 951.9 L692.5 945.3 L693.0 943.4 L693.6 946.5 L694.1 956.4 L694.7 945.8 L695.2 940.4 L695.8 949.4 L696.3 944.0 L696.9 953.9 L697.4 944.0 L697.9 933.7 L698.5 940.0 L699.0 942.1 L699.6 944.8 L700.1 933.8 L700.7 948.4 L701.2 952.2 L701.8 944.4 L702.3 929.6 L702.9 936.9 L703.4 946.6 L704.0 947.4 L704.5 945.1 L705.1 948.8 L705.6 935.9 L706.1 943.8 L706.7 947.1 L707.2 942.6 L707.8 947.6 L708.3 948.6 L708.9 944.8 L709.4 941.0 L710.0 942.5 L710.5 953.3 L711.1 941.4 L711.6 948.7 L712.2 941.9 L712.7 960.2 L713.3 939.3 L713.8 951.1 L714.3 942.4 L714.9 971.9 L715.4 940.7 L716.0 949.7 L716.5 941.7 L717.1 953.3 L717.6 941.2 L718.2 946.5 L718.7 926.7 L719.3 946.6 L719.8 949.3 L720.4 958.2 L720.9 935.9 L721.4 951.4 L722.0 949.0 L722.5 943.8 L723.1 944.2 L723.6 949.6 L724.2 947.3 L724.7 946.7 L725.3 942.1 L725.8 944.4 L726.4 953.3 L726.9 942.8 L727.5 944.4 L728.0 948.0 L728.6 949.7 L729.1 951.1 L729.6 945.4 L730.2 937.1 L730.7 958.0 L731.3 952.5 L731.8 953.2 L732.4 951.6 L732.9 951.6 L733.5 945.6 L734.0 941.0 L734.6 946.2 L735.1 944.5 L735.7 949.9 L736.2 948.1 L736.8 941.7 L737.3 941.1 L737.8 942.2 L738.4 942.3 L738.9 960.5 L739.5 938.4 L740.0 947.0 L740.6 921.7 L741.1 933.1 L741.7 941.4 L742.2 933.4 L742.8 928.8 L743.3 930.5 L743.9 919.3 L744.4 914.0 L745.0 906.1 L745.5 895.3 L746.0 880.5 L746.6 860.3 L747.1 837.2 L747.7 803.6 L748.2 771.3 L748.8 727.6 L749.3 686.4 L749.9 653.5 L750.4 639.3 L751.0 645.1 L751.5 660.9 L752.1 685.2 L752.6 711.4 L753.2 737.4 L753.7 763.2 L754.2 789.2 L754.8 811.1 L755.3 831.9 L755.9 849.6 L756.4 865.5 L757.0 873.5 L757.5 885.7 L758.1 895.2 L758.6 906.8 L759.2 911.0 L759.7 914.9 L760.3 921.7 L760.8 921.5 L761.4 924.9 L761.9 930.6 L762.4 927.2 L763.0 940.3 L763.5 930.7 L764.1 930.4 L764.6 937.4 L765.2 928.6 L765.7 936.7 L766.3 938.5 L766.8 946.3 L767.4 963.5 L767.9 942.5 L768.5 935.7 L769.0 943.9 L769.6 951.3 L770.1 937.3 L770.6 947.4 L771.2 949.9 L771.7 945.1 L772.3 938.6 L772.8 940.2 L773.4 935.0 L773.9 940.5 L774.5 939.4 L775.0 949.6 L775.6 934.4 L776.1 920.9 L776.7 942.3 L777.2 943.8 L777.7 938.0 L778.3 942.6 L778.8 945.9 L779.4 953.3 L779.9 946.2 L780.5 947.6 L781.0 935.6 L781.6 954.5 L782.1 944.0 L782.7 938.5 L783.2 940.1 L783.8 939.8 L784.3 938.5 L784.9 941.1 L785.4 939.6 L785.9 933.1 L786.5 952.1 L787.0 942.5 L787.6 953.0 L788.1 940.0 L788.7 950.7 L789.2 942.1 L789.8 951.1 L790.3 947.6 L790.9 953.4 L791.4 942.1 L792.0 942.8 L792.5 949.2 L793.1 931.2 L793.6 938.1 L794.1 935.5 L794.7 938.0 L795.2 946.2 L795.8 947.2 L796.3 941.3 L796.9 948.2 L797.4 937.9 L798.0 933.0 L798.5 942.5 L799.1 944.8 L799.6 942.0 L800.2 936.2 L800.7 944.8 L801.3 950.7 L801.8 939.7 L802.3 942.4 L802.9 936.0 L803.4 941.5 L804.0 936.3 L804.5 941.5 L805.1 948.6 L805.6 944.0 L806.2 931.3 L806.7 945.3 L807.3 931.7 L807.8 948.2 L808.4 943.7 L808.9 936.0 L809.5 939.8 L810.0 936.5 L810.5 952.1 L811.1 943.8 L811.6 934.5 L812.2 935.4 L812.7 941.0 L813.3 930.6 L813.8 939.1 L814.4 939.6 L814.9 930.2 L815.5 941.3 L816.0 947.4 L816.6 941.5 L817.1 942.6 L817.7 937.0 L818.2 936.9 L818.7 940.8 L819.3 935.0 L819.8 931.2 L820.4 944.8 L820.9 937.3 L821.5 942.4 L822.0 942.5 L822.6 943.2 L823.1 944.2 L823.7 943.6 L824.2 939.9 L824.8 952.5 L825.3 939.9 L825.9 944.1 L826.4 939.2 L826.9 942.0 L827.5 936.9 L828.0 948.2 L828.6 941.8 L829.1 936.1 L829.7 930.0 L830.2 929.5 L830.8 946.6 L831.3 936.2 L831.9 952.5 L832.4 938.7 L833.0 937.8 L833.5 924.9 L834.0 940.3 L834.6 944.7 L835.1 943.5 L835.7 943.1 L836.2 934.9 L836.8 941.9 L837.3 936.1 L837.9 938.7 L838.4 944.3 L839.0 937.3 L839.5 946.2 L840.1 942.2 L840.6 951.5 L841.2 942.6 L841.7 947.2 L842.2 949.6 L842.8 948.0 L843.3 948.6 L843.9 935.3 L844.4 949.1 L845.0 935.4 L845.5 939.9 L846.1 930.3 L846.6 937.5 L847.2 940.1 L847.7 942.1 L848.3 938.0 L848.8 942.7 L849.4 939.7 L849.9 942.0 L850.4 947.0 L851.0 931.2 L851.5 941.9 L852.1 941.8 L852.6 934.9 L853.2 940.6 L853.7 950.6 L854.3 945.8 L854.8 940.6 L855.4 952.3 L855.9 945.2 L856.5 937.6 L857.0 941.8 L857.6 942.5 L858.1 943.8 L858.6 947.7 L859.2 944.0 L859.7 944.2 L860.3 941.0 L860.8 941.9 L861.4 940.5 L861.9 944.6 L862.5 941.1 L863.0 939.8 L863.6 945.4 L864.1 953.3 L864.7 940.1 L865.2 946.3 L865.8 936.6 L866.3 939.7 L866.8 943.2 L867.4 944.1 L867.9 948.5 L868.5 931.1 L869.0 937.3 L869.6 943.2 L870.1 942.4 L870.7 931.4 L871.2 935.0 L871.8 939.2 L872.3 940.6 L872.9 922.7 L873.4 935.4 L874.0 923.0 L874.5 937.9 L875.0 941.0 L875.6 927.8 L876.1 931.6 L876.7 925.4 L877.2 926.7 L877.8 933.9 L878.3 933.4 L878.9 931.8 L879.4 923.7 L880.0 925.3 L880.5 935.2 L881.1 926.9 L881.6 922.6 L882.2 924.6 L882.7 916.3 L883.2 920.2 L883.8 915.0 L884.3 910.4 L884.9 908.7 L885.4 915.9 L886.0 912.4 L886.5 905.7 L887.1 901.2 L887.6 894.3 L888.2 887.1 L888.7 882.2 L889.3 874.1 L889.8 863.7 L890.3 849.0 L890.9 833.0 L891.4 818.3 L892.0 791.0 L892.5 757.8 L893.1 713.2 L893.6 653.5 L894.2 567.9 L894.7 442.7 L895.3 259.6 L895.8 -15.0 L896.4 -15.0 L896.9 -15.0 L897.5 -15.0 L898.0 -15.0 L898.5 -15.0 L899.1 -15.0 L899.6 171.7 L900.2 370.8 L900.7 508.3 L901.3 603.9 L901.8 672.6 L902.4 720.9 L902.9 760.2 L903.5 792.7 L904.0 814.2 L904.6 832.1 L905.1 849.1 L905.7 856.1 L906.2 869.9 L906.7 879.1 L907.3 881.2 L907.8 889.1 L908.4 895.7 L908.9 897.7 L909.5 901.1 L910.0 907.0 L910.6 907.2 L911.1 911.2 L911.7 912.7 L912.2 915.4 L912.8 918.0 L913.3 926.7 L913.9 921.6 L914.4 914.5 L914.9 926.4 L915.5 923.9 L916.0 937.4 L916.6 918.7 L917.1 928.7 L917.7 928.0 L918.2 944.9 L918.8 924.0 L919.3 923.4 L919.9 931.4 L920.4 933.6 L921.0 932.6 L921.5 933.9 L922.1 930.4 L922.6 935.8 L923.1 931.9 L923.7 926.0 L924.2 939.4 L924.8 921.2 L925.3 924.5 L925.9 930.5 L926.4 932.5 L927.0 933.3 L927.5 931.8 L928.1 938.5 L928.6 932.3 L929.2 922.2 L929.7 941.5 L930.3 935.2 L930.8 950.7 L931.3 936.4 L931.9 941.7 L932.4 943.0 L933.0 926.4 L933.5 940.5 L934.1 934.6 L934.6 938.2 L935.2 927.8 L935.7 932.7 L936.3 930.9 L936.8 924.8 L937.4 926.5 L937.9 928.9 L938.4 920.4 L939.0 911.0 L939.5 895.7 L940.1 882.3 L940.6 869.5 L941.2 862.3 L941.7 866.6 L942.3 870.5 L942.8 882.6 L943.4 891.6 L943.9 899.8 L944.5 904.2 L945.0 911.3 L945.6 923.1 L946.1 924.3 L946.6 930.9 L947.2 924.9 L947.7 936.9 L948.3 932.1 L948.8 932.7 L949.4 938.5 L949.9 929.1 L950.5 933.0 L951.0 945.3 L951.6 943.2 L952.1 937.9 L952.7 940.3 L953.2 946.7 L953.8 938.5 L954.3 928.2 L954.8 951.3 L955.4 931.0 L955.9 934.3 L956.5 929.4 L957.0 929.5 L957.6 943.1 L958.1 935.3 L958.7 950.9 L959.2 942.0 L959.8 941.5 L960.3 945.3 L960.9 944.6 L961.4 947.8 L962.0 921.6 L962.5 935.6 L963.0 942.0 L963.6 943.2 L964.1 935.7 L964.7 931.5 L965.2 939.1 L965.8 922.1 L966.3 930.2 L966.9 945.3 L967.4 932.1 L968.0 950.9 L968.5 940.1 L969.1 941.0 L969.6 954.3 L970.2 944.4 L970.7 935.3 L971.2 936.2 L971.8 936.0 L972.3 927.6 L972.9 941.5 L973.4 940.3 L974.0 935.6 L974.5 943.9 L975.1 936.4 L975.6 930.6 L976.2 933.3 L976.7 939.0 L977.3 941.3 L977.8 949.2 L978.4 933.9 L978.9 941.8 L979.4 944.8 L980.0 948.3 L980.5 941.8 L981.1 934.0 L981.6 938.0 L982.2 951.3 L982.7 940.7 L983.3 940.1 L983.8 934.7 L984.4 942.3 L984.9 950.7 L985.5 939.9 L986.0 939.0 L986.6 944.4 L987.1 943.3 L987.6 942.2 L988.2 969.1 L988.7 949.9 L989.3 939.0 L989.8 946.0 L990.4 952.2 L990.9 945.2 L991.5 951.7 L992.0 941.5 L992.6 949.7 L993.1 946.7 L993.7 949.9 L994.2 946.6 L994.7 943.7 L995.3 948.9 L995.8 950.3 L996.4 951.8 L996.9 941.6 L997.5 945.5 L998.0 946.8 L998.6 947.0 L999.1 946.0 L999.7 948.5 L1000.2 955.9 L1000.8 958.7 L1001.3 955.6 L1001.9 952.4 L1002.4 932.2 L1002.9 940.6 L1003.5 957.3 L1004.0 946.0 L1004.6 956.2 L1005.1 947.0 L1005.7 950.9 L1006.2 947.6 L1006.8 950.7 L1007.3 941.3 L1007.9 947.1 L1008.4 943.8 L1009.0 943.5 L1009.5 939.7 L1010.1 953.0 L1010.6 930.9 L1011.1 950.2 L1011.7 945.3 L1012.2 948.9 L1012.8 945.2 L1013.3 945.5 L1013.9 939.1 L1014.4 970.9 L1015.0 952.4 L1015.5 952.5 L1016.1 934.4 L1016.6 942.6 L1017.2 941.8 L1017.7 947.3 L1018.3 942.6 L1018.8 949.6 L1019.3 946.7 L1019.9 956.2 L1020.4 951.7 L1021.0 939.7 L1021.5 940.6 L1022.1 939.8 L1022.6 948.7 L1023.2 943.3 L1023.7 942.2 L1024.3 937.1 L1024.8 945.4 L1025.4 943.2 L1025.9 944.4 L1026.5 941.4 L1027.0 935.7 L1027.5 949.5 L1028.1 942.6 L1028.6 943.8 L1029.2 939.2 L1029.7 949.8 L1030.3 938.3 L1030.8 940.2 L1031.4 938.0 L1031.9 937.5 L1032.5 947.6 L1033.0 941.9 L1033.6 937.8 L1034.1 943.2 L1034.7 941.3 L1035.2 942.9 L1035.7 934.5 L1036.3 945.5 L1036.8 921.0 L1037.4 939.1 L1037.9 948.1 L1038.5 948.8 L1039.0 934.2 L1039.6 945.4 L1040.1 943.4 L1040.7 959.5 L1041.2 938.6 L1041.8 945.9 L1042.3 947.5 L1042.9 935.2 L1043.4 939.6 L1043.9 954.7 L1044.5 941.4 L1045.0 947.5 L1045.6 944.5 L1046.1 936.8 L1046.7 944.4 L1047.2 945.8 L1047.8 940.6 L1048.3 948.9 L1048.9 936.7 L1049.4 943.7 L1050.0 942.7 L1050.5 939.9 L1051.0 936.7 L1051.6 933.5 L1052.1 939.0 L1052.7 944.6 L1053.2 942.5 L1053.8 945.1 L1054.3 942.1 L1054.9 944.1 L1055.4 947.7 L1056.0 951.9 L1056.5 938.6 L1057.1 949.6 L1057.6 937.3 L1058.2 958.0 L1058.7 941.8 L1059.2 945.7 L1059.8 953.5 L1060.3 950.8 L1060.9 953.4 L1061.4 955.7 L1062.0 943.0 L1062.5 958.7 L1063.1 938.3 L1063.6 946.6 L1064.2 960.0 L1064.7 935.8 L1065.3 944.6 L1065.8 947.3 L1066.4 953.7 L1066.9 939.2 L1067.4 954.5 L1068.0 934.3 L1068.5 954.6 L1069.1 953.8 L1069.6 947.2 L1070.2 948.7 L1070.7 948.7 L1071.3 943.5 L1071.8 946.7 L1072.4 957.5 L1072.9 952.5 L1073.5 952.6 L1074.0 941.5 L1074.6 948.8 L1075.1 954.7 L1075.6 950.0 L1076.2 946.1 L1076.7 947.2 L1077.3 952.5 L1077.8 946.9 L1078.4 935.8 L1078.9 943.0 L1079.5 946.9 L1080.0 938.0 L1080.6 946.0 L1081.1 948.4 L1081.7 957.8 L1082.2 953.6 L1082.8 948.2 L1083.3 936.4 L1083.8 947.4 L1084.4 937.4 L1084.9 939.3 L1085.5 950.9 L1086.0 940.6 L1086.6 948.0 L1087.1 946.0 L1087.7 956.0 L1088.2 942.2 L1088.8 941.7 L1089.3 950.2 L1089.9 945.2 L1090.4 943.5 L1091.0 940.7 L1091.5 944.2 L1092.0 939.8 L1092.6 943.4 L1093.1 939.9 L1093.7 931.3 L1094.2 931.4 L1094.8 935.4 L1095.3 960.2 L1095.9 944.0 L1096.4 933.4 L1097.0 929.7 L1097.5 928.9 L1098.1 927.8 L1098.6 929.7 L1099.2 918.4 L1099.7 909.5 L1100.2 904.6 L1100.8 893.8 L1101.3 888.4 L1101.9 866.8 L1102.4 848.0 L1103.0 825.2 L1103.5 797.8 L1104.1 776.9 L1104.6 759.0 L1105.2 750.8 L1105.7 755.6 L1106.3 761.7 L1106.8 775.2 L1107.3 791.9 L1107.9 806.4 L1108.4 823.8 L1109.0 838.8 L1109.5 852.6 L1110.1 863.4 L1110.6 875.4 L1111.2 886.3 L1111.7 896.8 L1112.3 903.2 L1112.8 911.8 L1113.4 914.3 L1113.9 905.6 L1114.5 926.9 L1115.0 925.1 L1115.5 932.9 L1116.1 933.6 L1116.6 935.8 L1117.2 935.5 L1117.7 921.0 L1118.3 939.3 L1118.8 937.5 L1119.4 940.7 L1119.9 942.0 L1120.5 940.1 L1121.0 942.8 L1121.6 933.0 L1122.1 941.7 L1122.7 950.4 L1123.2 944.6 L1123.7 936.3 L1124.3 918.9 L1124.8 939.5 L1125.4 943.5 L1125.9 945.2 L1126.5 952.0 L1127.0 950.1 L1127.6 939.2 L1128.1 947.0 L1128.7 937.4 L1129.2 953.4 L1129.8 939.8 L1130.3 961.5 L1130.9 941.0 L1131.4 941.8 L1131.9 938.3 L1132.5 948.1 L1133.0 944.7 L1133.6 948.8 L1134.1 946.9 L1134.7 938.9 L1135.2 966.4 L1135.8 947.9 L1136.3 944.9 L1136.9 943.4 L1137.4 942.0 L1138.0 941.0 L1138.5 949.4 L1139.1 944.9 L1139.6 944.5 L1140.1 941.2 L1140.7 945.9 L1141.2 969.8 L1141.8 948.6 L1142.3 936.1 L1142.9 934.5 L1143.4 950.8 L1144.0 939.6 L1144.5 950.4 L1145.1 949.5 L1145.6 950.4 L1146.2 957.4 L1146.7 944.2 L1147.3 947.4 L1147.8 943.1 L1148.3 939.5 L1148.9 942.2 L1149.4 966.3 L1150.0 954.1 L1150.5 934.9 L1151.1 951.6 L1151.6 946.6 L1152.2 953.3 L1152.7 942.9 L1153.3 950.3 L1153.8 949.5 L1154.4 943.5 L1154.9 940.4 L1155.5 944.9 L1156.0 947.8 L1156.5 957.3 L1157.1 956.5 L1157.6 955.8 L1158.2 950.4 L1158.7 953.9 L1159.3 942.4 L1159.8 947.5 L1160.4 952.9 L1160.9 949.1 L1161.5 938.3 L1162.0 950.0 L1162.6 948.7 L1163.1 949.1 L1163.6 945.9 L1164.2 952.1 L1164.7 947.9 L1165.3 944.1 L1165.8 948.3 L1166.4 951.1 L1166.9 954.9 L1167.5 954.4 L1168.0 924.8 L1168.6 954.4 L1169.1 953.0 L1169.7 952.9 L1170.2 956.4 L1170.8 972.2 L1171.3 952.8 L1171.8 949.6 L1172.4 948.0 L1172.9 952.0 L1173.5 952.6 L1174.0 946.5 L1174.6 959.1 L1175.1 957.6 L1175.7 954.0 L1176.2 959.3 L1176.8 953.5 L1177.3 946.8 L1177.9 952.5 L1178.4 958.0 L1179.0 946.1 L1179.5 941.3 L1180.0 953.7 L1180.6 939.1 L1181.1 942.8 L1181.7 950.2 L1182.2 943.3 L1182.8 958.0 L1183.3 947.5 L1183.9 951.1 L1184.4 954.5 L1185.0 949.5 L1185.5 956.7 L1186.1 940.3 L1186.6 961.2 L1187.2 951.7 L1187.7 948.2 L1188.2 942.2 L1188.8 951.2 L1189.3 946.8 L1189.9 951.0 L1190.4 946.1 L1191.0 942.0 L1191.5 945.2 L1192.1 944.5 L1192.6 950.4 L1193.2 949.1 L1193.7 945.3 L1194.3 952.9 L1194.8 946.4 L1195.4 949.4 L1195.9 947.9 L1196.4 950.2 L1197.0 943.0 L1197.5 947.5 L1198.1 948.2 L1198.6 933.8 L1199.2 949.4 L1199.7 949.5 L1200.3 962.4 L1200.8 942.7 L1201.4 928.4 L1201.9 939.8 L1202.5 950.1 L1203.0 946.3 L1203.6 935.8 L1204.1 950.3 L1204.6 960.9 L1205.2 959.8 L1205.7 956.5 L1206.3 946.8 L1206.8 958.9 L1207.4 946.9 L1207.9 953.7 L1208.5 956.5 L1209.0 944.2 L1209.6 952.8 L1210.1 952.6 L1210.7 963.3 L1211.2 947.6 L1211.7 955.5 L1212.3 949.7 L1212.8 951.0 L1213.4 945.7 L1213.9 956.1 L1214.5 957.7 L1215.0 956.9 L1215.6 927.9 L1216.1 941.9 L1216.7 952.4 L1217.2 957.9 L1217.8 956.3 L1218.3 949.9 L1218.9 946.5 L1219.4 959.0 L1219.9 957.7 L1220.5 946.1 L1221.0 951.4 L1221.6 950.9 L1222.1 962.3 L1222.7 955.2 L1223.2 958.0 L1223.8 947.6 L1224.3 954.0 L1224.9 951.6 L1225.4 954.0 L1226.0 955.4 L1226.5 952.7 L1227.1 947.6 L1227.6 960.0 L1228.1 948.5 L1228.7 949.1 L1229.2 943.7 L1229.8 955.0 L1230.3 953.4 L1230.9 948.5 L1231.4 947.6 L1232.0 953.3 L1232.5 950.1 L1233.1 945.2 L1233.6 953.2 L1234.2 955.1 L1234.7 955.2 L1235.3 954.9 L1235.8 952.0 L1236.3 958.6 L1236.9 955.5 L1237.4 945.7 L1238.0 957.0 L1238.5 953.1 L1239.1 947.5 L1239.6 947.0 L1240.2 948.6 L1240.7 940.0 L1241.3 945.7 L1241.8 944.1 L1242.4 942.4 L1242.9 946.1 L1243.5 945.7 L1244.0 942.6 L1244.5 950.7 L1245.1 952.0 L1245.6 952.2 L1246.2 966.2 L1246.7 950.2 L1247.3 944.0 L1247.8 950.3 L1248.4 956.8 L1248.9 958.8 L1249.5 947.7 L1250.0 952.6 L1250.6 949.9 L1251.1 954.7 L1251.7 938.1 L1252.2 949.1 L1252.7 940.7 L1253.3 934.3 L1253.8 953.0 L1254.4 946.6 L1254.9 959.2 L1255.5 956.8 L1256.0 958.9 L1256.6 956.5 L1257.1 949.7 L1257.7 954.8 L1258.2 944.5 L1258.8 945.1 L1259.3 954.2 L1259.9 961.0 L1260.4 951.9 L1260.9 945.1 L1261.5 951.2 L1262.0 955.0 L1262.6 957.0 L1263.1 952.4 L1263.7 962.1 L1264.2 967.8 L1264.8 955.1 L1265.3 950.7 L1265.9 964.9 L1266.4 949.1 L1267.0 949.8 L1267.5 947.1 L1268.0 953.9 L1268.6 943.6 L1269.1 956.1 L1269.7 931.0 L1270.2 956.9 L1270.8 945.8 L1271.3 936.0 L1271.9 949.7 L1272.4 955.1 L1273.0 952.7 L1273.5 947.9 L1274.1 951.7 L1274.6 956.9 L1275.2 929.7 L1275.7 959.7 L1276.2 952.7 L1276.8 938.7 L1277.3 954.2 L1277.9 951.8 L1278.4 950.2 L1279.0 950.8 L1279.5 949.8 L1280.1 956.2 L1280.6 952.7 L1281.2 954.5 L1281.7 950.1 L1282.3 969.8 L1282.8 950.7 L1283.4 956.3 L1283.9 950.9 L1284.4 951.8 L1285.0 957.7 L1285.5 964.1 L1286.1 952.9 L1286.6 953.0 L1287.2 950.1 L1287.7 955.8 L1288.3 954.0 L1288.8 963.9 L1289.4 953.4 L1289.9 951.9 L1290.5 957.0 L1291.0 951.4 L1291.6 956.0 L1292.1 957.4 L1292.6 959.4 L1293.2 951.9 L1293.7 952.4 L1294.3 955.9 L1294.8 952.0 L1295.4 954.9 L1295.9 952.2 L1296.5 951.7 L1297.0 947.1 L1297.6 951.3 L1298.1 953.4 L1298.7 951.9 L1299.2 948.6 L1299.8 951.7 L1300.3 958.8 L1300.8 951.2 L1301.4 947.5 L1301.9 959.4 L1302.5 948.6 L1303.0 959.4 L1303.6 954.3 L1304.1 944.1 L1304.7 950.0 L1305.2 950.4 L1305.8 950.6 L1306.3 950.4 L1306.9 954.7 L1307.4 953.3 L1308.0 958.3 L1308.5 950.2 L1309.0 951.7 L1309.6 962.8 L1310.1 952.3 L1310.7 950.3 L1311.2 953.6 L1311.8 947.7 L1312.3 939.0 L1312.9 948.6 L1313.4 956.6 L1314.0 958.4 L1314.5 949.3 L1315.1 951.7 L1315.6 956.5 L1316.2 955.9 L1316.7 949.7 L1317.2 959.2 L1317.8 953.4 L1318.3 954.5 L1318.9 950.7 L1319.4 959.2 L1320.0 958.3 L1320.5 950.7 L1321.1 958.4 L1321.6 958.0 L1322.2 963.7 L1322.7 953.7 L1323.3 958.2 L1323.8 950.2 L1324.3 950.7 L1324.9 951.7 L1325.4 955.6 L1326.0 971.9 L1326.5 944.0 L1327.1 952.7 L1327.6 949.1 L1328.2 955.3 L1328.7 946.0 L1329.3 977.1 L1329.8 950.7 L1330.4 961.7 L1330.9 947.4 L1331.5 957.1 L1332.0 963.2 L1332.5 961.4 L1333.1 948.7 L1333.6 948.1 L1334.2 946.7 L1334.7 956.8 L1335.3 946.1 L1335.8 978.9 L1336.4 959.2 L1336.9 962.2 L1337.5 951.2 L1338.0 952.2 L1338.6 953.2 L1339.1 945.2 L1339.7 945.3 L1340.2 953.4 L1340.7 951.0 L1341.3 953.2 L1341.8 947.3 L1342.4 956.5 L1342.9 960.8 L1343.5 956.3 L1344.0 951.9 L1344.6 958.4 L1345.1 958.8 L1345.7 955.3 L1346.2 948.2 L1346.8 942.5 L1347.3 962.2 L1347.9 955.4 L1348.4 951.1 L1348.9 949.0 L1349.5 929.2 L1350.0 959.7 L1350.6 953.1 L1351.1 955.2 L1351.7 953.0 L1352.2 953.5 L1352.8 957.0 L1353.3 946.8 L1353.9 950.2 L1354.4 956.7 L1355.0 959.4 L1355.5 958.6 L1356.1 955.2 L1356.6 947.4 L1357.1 948.3 L1357.7 955.5 L1358.2 954.0 L1358.8 950.2 L1359.3 951.0 L1359.9 941.9 L1360.4 941.3 L1361.0 952.2 L1361.5 948.6 L1362.1 944.7 L1362.6 950.3 L1363.2 967.1 L1363.7 944.3 L1364.3 950.1 L1364.8 948.1 L1365.3 940.7 L1365.9 944.1 L1366.4 953.4 L1367.0 944.6 L1367.5 938.4 L1368.1 957.0 L1368.6 938.8 L1369.2 952.3 L1369.7 953.0 L1370.3 947.9 L1370.8 959.6 L1371.4 945.4 L1371.9 953.4 L1372.5 954.1 L1373.0 943.2 L1373.5 940.0 L1374.1 955.6 L1374.6 961.2 L1375.2 954.3 L1375.7 938.2 L1376.3 966.1 L1376.8 928.1 L1377.4 945.0 L1377.9 949.7 L1378.5 950.5 L1379.0 947.2 L1379.6 948.1 L1380.1 961.7 L1380.6 941.0 L1381.2 948.9 L1381.7 951.7 L1382.3 948.7 L1382.8 935.0 L1383.4 946.5 L1383.9 941.8 L1384.5 928.4 L1385.0 922.4 L1385.6 919.6 L1386.1 905.5 L1386.7 890.4 L1387.2 879.2 L1387.8 866.6 L1388.3 862.0 L1388.8 862.4 L1389.4 871.0 L1389.9 876.7 L1390.5 885.0 L1391.0 894.5 L1391.6 904.7 L1392.1 910.8 L1392.7 920.1 L1393.2 922.8 L1393.8 932.1 L1394.3 937.9 L1394.9 934.3 L1395.4 936.8 L1396.0 931.6 L1396.5 937.3 L1397.0 949.2 L1397.6 946.4 L1398.1 936.4 L1398.7 940.5 L1399.2 943.3 L1399.8 946.9 L1400.3 947.3 L1400.9 947.8 L1401.4 953.5 L1402.0 949.2 L1402.5 946.7 L1403.1 951.7 L1403.6 927.7 L1404.2 945.4 L1404.7 949.8 L1405.2 955.0 L1405.8 955.2 L1406.3 959.4 L1406.9 958.4 L1407.4 953.5 L1408.0 953.1 L1408.5 955.9 L1409.1 950.0 L1409.6 950.1 L1410.2 953.7 L1410.7 945.5 L1411.3 953.4 L1411.8 953.5 L1412.4 959.2 L1412.9 944.0 L1413.4 947.8 L1414.0 967.9 L1414.5 948.3 L1415.1 952.8 L1415.6 946.5 L1416.2 969.2 L1416.7 944.3 L1417.3 948.5 L1417.8 948.1 L1418.4 959.2 L1418.9 953.5 L1419.5 943.9 L1420.0 963.1 L1420.6 946.3 L1421.1 955.5 L1421.6 959.6 L1422.2 951.1 L1422.7 949.9 L1423.3 946.6 L1423.8 944.1 L1424.4 966.5 L1424.9 958.5 L1425.5 958.9 L1426.0 942.7 L1426.6 944.0 L1427.1 944.4 L1427.7 956.5 L1428.2 962.7 L1428.8 948.7 L1429.3 948.8 L1429.8 971.9 L1430.4 946.5 L1430.9 955.9 L1431.5 948.9 L1432.0 962.1 L1432.6 948.5 L1433.1 942.5 L1433.7 952.5 L1434.2 943.4 L1434.8 954.0 L1435.3 962.4 L1435.9 958.5 L1436.4 944.3 L1436.9 943.3 L1437.5 938.7 L1438.0 946.7 L1438.6 944.0 L1439.1 946.7 L1439.7 963.5 L1440.2 955.7 L1440.8 954.1 L1441.3 949.2 L1441.9 954.8 L1442.4 955.7 L1443.0 954.7 L1443.5 957.4 L1444.1 958.1 L1444.6 949.2 L1445.1 947.4 L1445.7 971.6 L1446.2 944.7 L1446.8 954.6 L1447.3 956.4 L1447.9 975.5 L1448.4 949.1 L1449.0 944.9 L1449.5 961.1 L1450.1 948.7 L1450.6 930.1 L1451.2 946.9 L1451.7 953.7 L1452.3 959.2 L1452.8 954.8 L1453.3 952.5 L1453.9 947.9 L1454.4 952.8 L1455.0 956.7 L1455.5 949.0 L1456.1 955.6 L1456.6 963.8 L1457.2 953.6 L1457.7 953.4 L1458.3 951.2 L1458.8 955.4 L1459.4 950.5 L1459.9 958.5 L1460.5 956.6 L1461.0 957.8 L1461.5 948.1 L1462.1 958.3 L1462.6 976.7 L1463.2 952.3 L1463.7 952.0 L1464.3 953.5 L1464.8 944.7 L1465.4 952.2 L1465.9 960.6 L1466.5 955.1 L1467.0 952.1 L1467.6 952.0 L1468.1 948.9 L1468.7 958.0 L1469.2 948.1 L1469.7 951.7 L1470.3 952.2 L1470.8 929.5 L1471.4 949.7 L1471.9 952.8 L1472.5 938.9 L1473.0 942.8 L1473.6 948.7 L1474.1 946.5 L1474.7 947.8 L1475.2 948.8 L1475.8 941.1 L1476.3 939.7 L1476.9 935.8 L1477.4 922.7 L1477.9 923.8 L1478.5 918.1 L1479.0 912.2 L1479.6 899.4 L1480.1 888.6 L1480.7 874.4 L1481.2 849.6 L1481.8 830.2 L1482.3 808.9 L1482.9 776.4 L1483.4 754.0 L1484.0 723.8 L1484.5 705.1 L1485.0 694.3 L1485.6 703.0 L1486.1 705.0 L1486.7 720.3 L1487.2 739.0 L1487.8 760.7 L1488.3 776.3 L1488.9 794.8 L1489.4 809.6 L1490.0 828.7 L1490.5 844.1 L1491.1 853.4 L1491.6 866.1 L1492.2 878.5 L1492.7 889.7 L1493.2 897.1 L1493.8 901.6 L1494.3 906.6 L1494.9 912.4 L1495.4 908.1 L1496.0 937.4 L1496.5 925.2 L1497.1 926.9 L1497.6 914.1 L1498.2 935.0 L1498.7 933.6 L1499.3 940.6 L1499.8 940.3 L1500.4 935.9 L1500.9 941.0 L1501.4 948.8 L1502.0 937.1 L1502.5 940.0 L1503.1 946.6 L1503.6 940.2 L1504.2 946.0 L1504.7 938.9 L1505.3 955.0 L1505.8 948.3 L1506.4 941.4 L1506.9 938.1 L1507.5 947.1 L1508.0 944.5 L1508.6 937.5 L1509.1 951.2 L1509.6 943.3 L1510.2 967.5 L1510.7 954.1 L1511.3 949.0 L1511.8 951.8 L1512.4 940.6 L1512.9 950.0 L1513.5 953.9 L1514.0 944.6 L1514.6 931.7 L1515.1 960.9 L1515.7 954.9 L1516.2 960.8 L1516.8 958.5 L1517.3 928.9 L1517.8 946.4 L1518.4 951.4 L1518.9 952.8 L1519.5 952.8 L1520.0 947.4 L1520.6 951.1 L1521.1 946.1 L1521.7 959.3 L1522.2 948.1 L1522.8 950.7 L1523.3 959.3 L1523.9 951.6 L1524.4 955.4 L1525.0 949.9 L1525.5 955.2 L1526.0 958.4 L1526.6 934.7 L1527.1 946.3 L1527.7 949.1 L1528.2 960.3 L1528.8 959.1 L1529.3 960.5 L1529.9 964.6 L1530.4 954.8 L1531.0 947.9 L1531.5 956.4 L1532.1 959.3 L1532.6 964.9 L1533.2 961.1 L1533.7 966.7 L1534.2 955.2 L1534.8 949.6 L1535.3 982.8 L1535.9 958.9 L1536.4 953.7 L1537.0 960.7 L1537.5 970.5 L1538.1 956.0 L1538.6 954.6 L1539.2 953.0 L1539.7 955.1 L1540.3 946.3 L1540.8 964.0 L1541.3 956.8 L1541.9 953.0 L1542.4 963.7 L1543.0 956.1 L1543.5 965.8 L1544.1 957.4 L1544.6 959.1 L1545.2 960.9 L1545.7 967.5 L1546.3 956.4 L1546.8 950.3 L1547.4 959.7 L1547.9 948.2 L1548.5 942.8 L1549.0 958.7 L1549.5 960.0 L1550.1 965.1 L1550.6 958.5 L1551.2 965.3 L1551.7 978.5 L1552.3 960.5 L1552.8 956.3 L1553.4 954.6 L1553.9 956.5 L1554.5 950.7 L1555.0 958.8 L1555.6 961.5 L1556.1 948.5 L1556.7 962.4 L1557.2 952.8 L1557.7 957.5 L1558.3 958.3 L1558.8 945.8 L1559.4 954.1 L1559.9 960.5 L1560.5 962.3 L1561.0 962.9 L1561.6 951.8 L1562.1 957.8 L1562.7 946.6 L1563.2 960.2 L1563.8 955.7 L1564.3 960.2 L1564.9 948.0 L1565.4 962.0 L1565.9 956.0 L1566.5 947.2 L1567.0 958.1 L1567.6 965.9 L1568.1 955.7 L1568.7 955.5 L1569.2 945.6 L1569.8 952.8 L1570.3 959.3 L1570.9 955.7 L1571.4 953.5 L1572.0 950.6 L1572.5 964.9 L1573.1 952.3 L1573.6 946.0 L1574.1 957.9 L1574.7 952.9 L1575.2 951.9 L1575.8 949.5 L1576.3 948.6 L1576.9 946.4 L1577.4 966.9 L1578.0 945.9 L1578.5 946.8 L1579.1 953.3 L1579.6 957.4 L1580.2 955.6 L1580.7 949.0 L1581.3 949.2 L1581.8 953.1 L1582.3 950.4 L1582.9 951.4 L1583.4 958.3 L1584.0 954.1 L1584.5 960.0 L1585.1 951.7 L1585.6 953.2 L1586.2 955.0 L1586.7 957.9 L1587.3 940.8 L1587.8 950.6 L1588.4 966.7 L1588.9 958.1 L1589.5 954.3 L1590.0 948.8 L1590.5 954.3 L1591.1 963.5 L1591.6 977.1 L1592.2 951.6 L1592.7 957.9 L1593.3 960.3 L1593.8 960.6 L1594.4 957.9 L1594.9 956.2 L1595.5 957.7 L1596.0 952.6 L1596.6 957.5 L1597.1 959.3 L1597.6 953.1 L1598.2 961.6 L1598.7 960.1 L1599.3 952.3 L1599.8 952.9 L1600.4 956.5 L1600.9 958.5 L1601.5 962.2 L1602.0 956.4 L1602.6 955.4 L1603.1 967.8 L1603.7 979.8 L1604.2 962.7 L1604.8 957.9 L1605.3 964.7 L1605.8 962.2 L1606.4 957.3 L1606.9 960.9 L1607.5 944.8 L1608.0 950.5 L1608.6 949.8 L1609.1 944.6 L1609.7 951.2 L1610.2 950.4 L1610.8 948.8 L1611.3 946.9 L1611.9 959.8 L1612.4 948.5 L1613.0 955.7 L1613.5 948.4 L1614.0 953.3 L1614.6 944.6 L1615.1 942.2 L1615.7 953.9 L1616.2 950.7 L1616.8 964.2 L1617.3 956.0 L1617.9 959.6 L1618.4 954.6 L1619.0 950.5 L1619.5 956.8 L1620.1 948.2 L1620.6 955.2 L1621.2 948.6 L1621.7 968.3 L1622.2 951.8 L1622.8 948.3 L1623.3 952.5 L1623.9 946.2 L1624.4 938.2 L1625.0 945.1 L1625.5 947.9 L1626.1 934.1 L1626.6 950.0 L1627.2 940.9 L1627.7 940.0 L1628.3 924.6 L1628.8 934.0 L1629.4 923.4 L1629.9 911.9 L1630.4 900.4 L1631.0 887.7 L1631.5 868.1 L1632.1 854.1 L1632.6 835.5 L1633.2 800.2 L1633.7 772.6 L1634.3 738.9 L1634.8 702.5 L1635.4 668.0 L1635.9 642.4 L1636.5 636.9 L1637.0 640.2 L1637.6 649.8 L1638.1 666.8 L1638.6 685.2 L1639.2 707.6 L1639.7 731.4 L1640.3 761.2 L1640.8 779.3 L1641.4 796.2 L1641.9 814.9 L1642.5 833.3 L1643.0 843.7 L1643.6 860.8 L1644.1 873.5 L1644.7 884.5 L1645.2 896.4 L1645.8 902.8 L1646.3 907.1 L1646.8 912.8 L1647.4 921.3 L1647.9 921.8 L1648.5 925.2 L1649.0 935.0 L1649.6 930.2 L1650.1 931.0 L1650.7 938.6 L1651.2 934.3 L1651.8 937.2 L1652.3 940.8 L1652.9 952.5 L1653.4 935.2 L1653.9 959.3 L1654.5 954.9 L1655.0 938.9 L1655.6 949.5 L1656.1 943.1 L1656.7 952.2 L1657.2 946.8 L1657.8 948.5 L1658.3 940.8 L1658.9 947.5 L1659.4 947.2 L1660.0 958.3 L1660.5 945.7 L1661.1 952.0 L1661.6 961.4 L1662.1 948.4 L1662.7 955.9 L1663.2 945.0 L1663.8 955.5 L1664.3 944.9 L1664.9 958.1 L1665.4 948.9 L1666.0 947.6 L1666.5 947.9 L1667.1 949.0 L1667.6 955.5 L1668.2 953.4 L1668.7 957.2 L1669.3 954.5 L1669.8 948.0 L1670.3 949.6 L1670.9 957.3 L1671.4 960.6 L1672.0 959.7 L1672.5 958.8 L1673.1 949.4 L1673.6 944.1 L1674.2 962.5 L1674.7 955.8 L1675.3 951.0 L1675.8 955.0 L1676.4 959.6 L1676.9 954.6 L1677.5 942.9 L1678.0 954.0 L1678.5 967.4 L1679.1 959.8 L1679.6 943.4 L1680.2 959.3 L1680.7 955.7 L1681.3 961.8 L1681.8 944.4 L1682.4 956.1 L1682.9 953.6 L1683.5 955.4 L1684.0 951.5 L1684.6 955.5 L1685.1 953.2 L1685.7 966.5 L1686.2 975.5 L1686.7 960.0 L1687.3 956.8 L1687.8 978.7 L1688.4 959.0 L1688.9 957.2 L1689.5 964.0 L1690.0 954.1 L1690.6 957.9 L1691.1 950.8 L1691.7 961.5 L1692.2 954.6 L1692.8 954.6 L1693.3 955.0 L1693.9 963.7 L1694.4 956.6 L1694.9 958.1 L1695.5 961.6 L1696.0 966.1 L1696.6 944.8 L1697.1 963.2 L1697.7 963.3 L1698.2 963.3 L1698.8 960.9 L1699.3 953.3 L1699.9 963.9 L1700.4 959.2 L1701.0 961.9 L1701.5 956.3 L1702.1 956.8 L1702.6 945.2 L1703.1 959.6 L1703.7 962.5 L1704.2 964.2 L1704.8 967.5 L1705.3 965.3 L1705.9 956.2 L1706.4 961.4 L1707.0 954.5 L1707.5 964.8 L1708.1 955.9 L1708.6 980.5 L1709.2 941.7 L1709.7 963.6 L1710.2 959.1 L1710.8 954.8 L1711.3 954.1 L1711.9 954.7 L1712.4 964.6 L1713.0 956.1 L1713.5 953.3 L1714.1 953.4 L1714.6 962.4 L1715.2 955.4 L1715.7 981.2 L1716.3 970.7 L1716.8 960.5 L1717.4 956.2 L1717.9 965.5 L1718.4 956.0 L1719.0 964.6 L1719.5 961.1 L1720.1 956.9 L1720.6 951.4 L1721.2 953.2 L1721.7 946.2 L1722.3 942.4 L1722.8 934.7 L1723.4 935.5 L1723.9 923.6 L1724.5 924.7 L1725.0 933.7 L1725.6 935.4 L1726.1 933.7 L1726.6 945.2 L1727.2 946.9 L1727.7 936.4 L1728.3 973.3 L1728.8 952.0 L1729.4 948.6 L1729.9 952.9 L1730.5 948.5 L1731.0 952.9 L1731.6 962.7 L1732.1 954.3 L1732.7 958.7 L1733.2 947.2 L1733.8 961.6 L1734.3 952.2 L1734.8 956.6 L1735.4 955.3 L1735.9 955.9 L1736.5 954.4 L1737.0 963.3 L1737.6 962.8 L1738.1 953.8 L1738.7 958.3 L1739.2 945.8 L1739.8 951.6 L1740.3 954.3 L1740.9 962.4 L1741.4 941.4 L1742.0 944.6 L1742.5 957.9 L1743.0 961.9 L1743.6 956.2 L1744.1 950.7 L1744.7 958.1 L1745.2 960.2 L1745.8 961.2 L1746.3 957.8 L1746.9 954.0 L1747.4 959.7 L1748.0 971.5 L1748.5 956.1 L1749.1 956.1 L1749.6 948.2 L1750.2 962.7 L1750.7 954.8 L1751.2 944.1 L1751.8 957.8 L1752.3 963.5 L1752.9 941.8 L1753.4 965.5 L1754.0 955.6 L1754.5 960.3 L1755.1 940.2 L1755.6 960.0 L1756.2 957.0 L1756.7 958.6 L1757.3 950.3 L1757.8 952.2 L1758.3 948.6 L1758.9 968.4 L1759.4 962.8 L1760.0 957.1 L1760.5 958.1 L1761.1 952.5 L1761.6 951.2 L1762.2 959.9 L1762.7 948.7 L1763.3 948.0 L1763.8 950.6 L1764.4 953.9 L1764.9 966.2 L1765.5 960.3 L1766.0 958.2 L1766.5 964.1 L1767.1 967.4 L1767.6 961.4 L1768.2 959.9 L1768.7 960.7 L1769.3 949.2 L1769.8 966.8 L1770.4 963.9 L1770.9 965.4 L1771.5 964.6 L1772.0 959.7 L1772.6 962.2 L1773.1 954.0 L1773.7 977.3 L1774.2 965.0 L1774.7 960.2 L1775.3 957.7 L1775.8 960.3 L1776.4 948.3 L1776.9 956.3 L1777.5 973.9 L1778.0 957.0 L1778.6 954.4 L1779.1 956.9 L1779.7 952.5 L1780.2 948.2 L1780.8 959.0 L1781.3 946.9 L1781.9 959.3 L1782.4 954.9 L1782.9 955.2 L1783.5 957.9 L1784.0 954.9 L1784.6 966.7 L1785.1 958.3 L1785.7 982.5 L1786.2 957.4 L1786.8 957.7 L1787.3 955.6 L1787.9 947.7 L1788.4 948.7 L1789.0 970.0 L1789.5 960.3 L1790.1 955.9 L1790.6 969.3 L1791.1 965.4 L1791.7 967.3 L1792.2 957.6 L1792.8 959.1 L1793.3 967.3 L1793.9 954.0 L1794.4 948.7 L1795.0 962.8 L1795.5 960.7 L1796.1 959.9 L1796.6 956.8 L1797.2 964.3 L1797.7 953.4 L1798.3 955.9 L1798.8 960.5 L1799.3 955.4 L1799.9 958.0 L1800.4 950.2 L1801.0 953.6 L1801.5 963.3 L1802.1 956.0 L1802.6 967.2 L1803.2 967.3 L1803.7 955.4 L1804.3 955.8 L1804.8 961.8 L1805.4 962.6 L1805.9 961.6 L1806.5 969.0 L1807.0 953.6 L1807.5 967.8 L1808.1 955.9 L1808.6 952.3 L1809.2 951.2 L1809.7 964.8 L1810.3 970.1 L1810.8 960.7 L1811.4 960.2 L1811.9 956.6 L1812.5 941.3 L1813.0 955.2 L1813.6 944.9 L1814.1 953.9 L1814.6 979.0 L1815.2 942.9 L1815.7 968.2 L1816.3 952.9 L1816.8 946.0 L1817.4 960.5 L1817.9 953.8 L1818.5 958.7 L1819.0 955.8 L1819.6 930.2 L1820.1 952.0 L1820.7 955.6 L1821.2 947.8 L1821.8 961.6 L1822.3 961.2 L1822.8 948.4 L1823.4 951.9 L1823.9 949.3 L1824.5 960.3 L1825.0 960.7 L1825.6 943.0 L1826.1 936.9 L1826.7 957.7 L1827.2 944.1 L1827.8 953.6 L1828.3 953.9 L1828.9 943.2 L1829.4 975.5 L1830.0 957.2 L1830.5 949.0 L1831.0 956.2 L1831.6 945.9 L1832.1 961.5 L1832.7 958.3 L1833.2 953.3 L1833.8 943.0 L1834.3 941.1 L1834.9 954.4 L1835.4 953.0 L1836.0 954.3 L1836.5 948.9 L1837.1 940.6 L1837.6 943.7 L1838.2 951.3 L1838.7 959.4 L1839.2 948.1 L1839.8 962.8 L1840.3 938.7 L1840.9 941.9 L1841.4 948.6 L1842.0 956.9 L1842.5 947.5 L1843.1 948.4 L1843.6 945.1 L1844.2 953.8 L1844.7 957.3 L1845.3 961.3 L1845.8 947.5 L1846.4 953.9 L1846.9 949.6 L1847.4 964.4 L1848.0 950.4 L1848.5 960.4 L1849.1 956.9 L1849.6 931.5 L1850.2 958.1 L1850.7 960.9 L1851.3 948.7 L1851.8 960.0 L1852.4 953.9 L1852.9 961.3 L1853.5 964.1 L1854.0 943.5 L1854.6 957.0 L1855.1 955.2 L1855.6 958.5 L1856.2 950.3 L1856.7 961.1 L1857.3 953.8 L1857.8 953.9 L1858.4 944.9 L1858.9 952.6 L1859.5 950.0 L1860.0 943.3 L1860.6 950.2 L1861.1 948.6 L1861.7 951.9 L1862.2 949.2 L1862.8 952.2 L1863.3 936.6 L1863.8 952.1 L1864.4 949.9 L1864.9 944.8 L1865.5 942.8 L1866.0 936.3 L1866.6 939.7 L1867.1 932.8 L1867.7 937.4 L1868.2 939.9 L1868.8 942.2 L1869.3 947.7 L1869.9 932.6 L1870.4 934.0 L1870.9 940.6 L1871.5 939.4 L1872.0 939.2 L1872.6 945.7 L1873.1 946.4 L1873.7 951.5 L1874.2 945.9 L1874.8 950.1 L1875.3 971.6 L1875.9 949.1 L1876.4 959.8 L1877.0 957.1 L1877.5 931.3 L1878.1 942.1 L1878.6 948.0 L1879.1 961.1 L1879.7 954.0 L1880.2 951.5 L1880.8 955.5 L1881.3 964.1 L1881.9 954.8 L1882.4 953.8 L1883.0 961.0 L1883.5 955.1 L1884.1 957.9 L1884.6 961.1 L1885.2 962.1 L1885.7 960.0 L1886.3 949.4 L1886.8 943.7 L1887.3 956.4 L1887.9 967.0 L1888.4 955.7 L1889.0 957.2 L1889.5 962.1 L1890.1 958.4 L1890.6 968.1 L1891.2 965.9 L1891.7 947.5 L1892.3 960.3 L1892.8 962.0 L1893.4 958.2 L1893.9 968.7 L1894.5 954.4 L1895.0 960.0 L1895.5 957.4 L1896.1 954.2 L1896.6 966.5 L1897.2 962.7 L1897.7 966.6 L1898.3 964.6 L1898.8 970.3 L1899.4 958.0 L1899.9 968.3 L1900.5 972.4 L1901.0 963.3 L1901.6 965.0 L1902.1 983.7 L1902.7 960.9 L1903.2 970.5 L1903.7 957.0 L1904.3 969.1 L1904.8 967.1 L1905.4 951.9 L1905.9 955.3 L1906.5 960.7 L1907.0 956.3 L1907.6 953.0 L1908.1 954.8 L1908.7 960.8 L1909.2 956.8 L1909.8 952.1 L1910.3 952.5 L1910.9 965.9 L1911.4 956.5 L1911.9 959.7 L1912.5 955.7 L1913.0 958.0 L1913.6 956.0 L1914.1 965.0 L1914.7 942.2 L1915.2 971.7 L1915.8 951.0 L1916.3 959.7 L1916.9 956.4 L1917.4 965.8 L1918.0 958.3 L1918.5 957.5 L1919.1 954.6 L1919.6 951.9 L1920.1 950.9 L1920.7 951.2 L1921.2 949.7 L1921.8 953.5 L1922.3 945.4 L1922.9 952.1 L1923.4 953.1 L1924.0 955.5 L1924.5 951.1 L1925.1 957.9 L1925.6 957.5 L1926.2 946.9 L1926.7 954.8 L1927.2 950.7 L1927.8 951.2 L1928.3 959.6 L1928.9 955.0 L1929.4 956.4 L1930.0 960.4 L1930.5 964.3 L1931.1 974.2 L1931.6 954.2 L1932.2 961.4 L1932.7 952.8 L1933.3 941.0 L1933.8 947.9 L1934.4 957.8 L1934.9 962.9 L1935.4 965.6 L1936.0 962.5 L1936.5 962.4 L1937.1 935.8 L1937.6 956.0 L1938.2 954.5 L1938.7 959.5 L1939.3 974.7 L1939.8 976.2 L1940.4 969.4 L1940.9 958.7 L1941.5 949.3 L1942.0 961.6 L1942.6 959.2 L1943.1 967.0 L1943.6 952.9 L1944.2 967.8 L1944.7 963.8 L1945.3 966.8 L1945.8 947.6 L1946.4 945.3 L1946.9 936.1 L1947.5 940.4 L1948.0 930.3 L1948.6 915.9 L1949.1 909.1 L1949.7 898.5 L1950.2 894.5 L1950.8 895.0 L1951.3 898.2 L1951.8 898.8 L1952.4 901.7 L1952.9 908.0 L1953.5 907.4 L1954.0 913.1 L1954.6 918.2 L1955.1 926.6 L1955.7 928.0 L1956.2 926.6 L1956.8 937.9 L1957.3 931.3 L1957.9 938.1 L1958.4 935.8 L1959.0 946.3 L1959.5 946.0 L1960.0 928.0 L1960.6 944.3 L1961.1 948.1 L1961.7 956.9 L1962.2 958.1 L1962.8 952.2 L1963.3 959.8 L1963.9 948.4 L1964.4 948.5 L1965.0 951.9 L1965.5 951.0 L1966.1 953.0 L1966.6 950.6 L1967.2 961.6 L1967.7 951.5 L1968.2 957.4 L1968.8 960.2 L1969.3 964.8 L1969.9 963.0 L1970.4 961.1 L1971.0 960.7 L1971.5 957.0 L1972.1 955.7 L1972.6 954.4 L1973.2 968.4 L1973.7 938.9 L1974.3 954.0 L1974.8 948.8 L1975.4 947.4 L1975.9 948.7 L1976.4 927.3 L1977.0 918.9 L1977.5 919.2 L1978.1 919.1 L1978.6 914.6 L1979.2 917.6 L1979.7 918.4 L1980.3 928.5 L1980.8 925.2 L1981.4 933.2 L1981.9 946.8 L1982.5 943.1 L1983.0 942.7 L1983.5 954.8 L1984.1 944.7 L1984.6 956.6 L1985.2 944.6 L1985.7 955.5 L1986.3 957.1 L1986.8 951.9 L1987.4 948.9 L1987.9 952.9 L1988.5 965.7 L1989.0 948.7 L1989.6 957.7 L1990.1 957.0 L1990.7 963.0 L1991.2 946.8 L1991.7 952.0 L1992.3 951.4 L1992.8 942.9 L1993.4 949.5 L1993.9 958.4 L1994.5 957.8 L1995.0 954.6 L1995.6 946.8 L1996.1 956.9 L1996.7 959.4 L1997.2 952.5 L1997.8 957.7 L1998.3 951.8 L1998.9 955.1 L1999.4 945.5 L1999.9 948.1 L2000.5 950.2 L2001.0 956.8 L2001.6 950.0 L2002.1 965.1 L2002.7 953.0 L2003.2 948.4 L2003.8 943.5 L2004.3 945.8 L2004.9 943.0 L2005.4 949.4 L2006.0 948.3 L2006.5 944.8 L2007.1 956.3 L2007.6 948.9 L2008.1 950.7 L2008.7 948.1 L2009.2 955.2 L2009.8 943.5 L2010.3 948.2 L2010.9 955.7 L2011.4 954.6 L2012.0 962.6 L2012.5 951.7 L2013.1 954.0 L2013.6 954.5 L2014.2 953.5 L2014.7 953.6 L2015.3 950.8 L2015.8 960.3 L2016.3 949.1 L2016.9 965.9 L2017.4 957.8 L2018.0 950.3 L2018.5 954.4 L2019.1 955.4 L2019.6 954.8 L2020.2 942.3 L2020.7 964.3 L2021.3 956.5 L2021.8 957.5 L2022.4 951.9 L2022.9 955.0 L2023.5 962.2 L2024.0 963.8 L2024.5 958.6 L2025.1 962.6 L2025.6 961.9 L2026.2 949.3 L2026.7 957.7 L2027.3 954.2 L2027.8 964.0 L2028.4 963.2 L2028.9 936.0 L2029.5 963.8 L2030.0 958.9 L2030.6 967.1 L2031.1 966.5 L2031.6 966.0 L2032.2 962.6 L2032.7 970.7 L2033.3 960.8 L2033.8 959.4 L2034.4 947.6 L2034.9 934.6 L2035.5 954.5 L2036.0 961.9 L2036.6 961.3 L2037.1 955.3 L2037.7 956.1 L2038.2 960.0 L2038.8 958.2 L2039.3 965.9 L2039.8 966.8 L2040.4 958.3 L2040.9 960.0 L2041.5 962.8 L2042.0 955.7 L2042.6 967.1 L2043.1 968.7 L2043.7 960.0 L2044.2 954.3 L2044.8 964.3 L2045.3 955.5 L2045.9 955.4 L2046.4 958.2 L2047.0 963.1 L2047.5 956.2 L2048.0 967.7 L2048.6 945.7 L2049.1 946.8 L2049.7 948.8 L2050.2 951.5 L2050.8 957.9 L2051.3 950.0 L2051.9 959.8 L2052.4 949.6 L2053.0 939.6 L2053.5 955.6 L2054.1 952.4 L2054.6 954.5 L2055.2 956.7 L2055.7 958.6 L2056.2 954.0 L2056.8 952.5 L2057.3 953.4 L2057.9 953.3 L2058.4 959.0 L2059.0 955.7 L2059.5 954.6 L2060.1 934.4 L2060.6 948.9 L2061.2 961.9 L2061.7 954.3 L2062.3 959.1 L2062.8 962.6 L2063.4 950.0 L2063.9 957.1 L2064.4 945.3 L2065.0 956.9 L2065.5 961.1 L2066.1 970.1 L2066.6 957.0 L2067.2 941.9 L2067.7 960.2 L2068.3 958.6 L2068.8 965.9 L2069.4 957.4 L2069.9 961.5 L2070.5 946.5 L2071.0 958.1 L2071.6 965.8 L2072.1 965.4 L2072.6 961.9 L2073.2 960.6 L2073.7 969.0 L2074.3 960.4 L2074.8 965.5 L2075.4 958.2 L2075.9 967.8 L2076.5 964.6 L2077.0 960.6 L2077.6 969.8 L2078.1 964.7 L2078.7 959.0 L2079.2 958.8 L2079.8 954.7 L2080.3 949.0 L2080.8 952.1 L2081.4 952.9 L2081.9 934.7 L2082.5 939.3 L2083.0 939.4 L2083.6 930.1 L2084.1 929.2 L2084.7 927.7 L2085.2 931.0 L2085.8 926.8 L2086.3 926.4 L2086.9 929.8 L2087.4 936.3 L2087.9 932.4 L2088.5 928.0 L2089.0 940.2 L2089.6 941.9 L2090.1 946.8 L2090.7 945.8 L2091.2 948.1 L2091.8 952.9 L2092.3 944.7 L2092.9 956.2 L2093.4 940.9 L2094.0 953.9 L2094.5 967.0 L2095.1 960.0 L2095.6 951.5 L2096.1 955.4 L2096.7 954.7 L2097.2 960.0 L2097.8 973.8 L2098.3 958.0 L2098.9 934.1 L2099.4 959.8 L2100.0 962.4 L2100.5 949.7 L2101.1 960.4 L2101.6 953.4 L2102.2 959.8 L2102.7 938.7 L2103.3 947.6 L2103.8 950.8 L2104.3 955.2 L2104.9 956.3 L2105.4 959.7 L2106.0 959.5 L2106.5 949.3 L2107.1 948.9 L2107.6 955.9 L2108.2 955.2 L2108.7 958.3 L2109.3 949.0 L2109.8 952.9 L2110.4 950.2 L2110.9 960.8 L2111.5 956.9"/>
<path class="crv" stroke="#ff0000" d="M198.9 756.4 L199.4 748.8 L200.0 746.3 L200.5 735.3 L201.1 744.2 L201.6 743.2 L202.2 742.8 L202.7 734.5 L203.3 742.1 L203.8 735.7 L204.4 735.3 L204.9 746.5 L205.5 746.5 L206.0 750.9 L206.6 742.3 L207.1 735.7 L207.6 736.8 L208.2 731.2 L208.7 745.8 L209.3 734.9 L209.8 734.3 L210.4 739.0 L210.9 747.8 L211.5 741.4 L212.0 726.4 L212.6 731.8 L213.1 750.0 L213.7 739.6 L214.2 736.1 L214.8 738.8 L215.3 743.7 L215.8 750.5 L216.4 732.8 L216.9 736.2 L217.5 735.0 L218.0 725.9 L218.6 733.4 L219.1 732.5 L219.7 745.1 L220.2 737.9 L220.8 730.1 L221.3 742.6 L221.9 737.6 L222.4 730.3 L223.0 736.1 L223.5 737.1 L224.0 735.5 L224.6 740.3 L225.1 727.8 L225.7 737.8 L226.2 745.1 L226.8 745.0 L227.3 746.8 L227.9 747.9 L228.4 749.0 L229.0 734.8 L229.5 745.6 L230.1 731.3 L230.6 738.1 L231.1 730.5 L231.7 755.4 L232.2 748.2 L232.8 740.2 L233.3 750.0 L233.9 736.2 L234.4 742.0 L235.0 740.8 L235.5 732.8 L236.1 739.1 L236.6 747.3 L237.2 730.9 L237.7 741.1 L238.3 736.2 L238.8 745.8 L239.3 742.0 L239.9 738.9 L240.4 738.1 L241.0 736.1 L241.5 726.5 L242.1 742.0 L242.6 727.0 L243.2 735.5 L243.7 737.6 L244.3 729.6 L244.8 735.2 L245.4 740.3 L245.9 732.9 L246.5 727.3 L247.0 716.6 L247.5 719.0 L248.1 729.4 L248.6 729.7 L249.2 719.1 L249.7 735.3 L250.3 729.9 L250.8 731.6 L251.4 735.7 L251.9 726.3 L252.5 728.5 L253.0 741.9 L253.6 735.2 L254.1 723.2 L254.7 729.2 L255.2 732.3 L255.7 736.1 L256.3 730.8 L256.8 721.6 L257.4 718.7 L257.9 732.3 L258.5 730.8 L259.0 725.8 L259.6 727.0 L260.1 722.8 L260.7 733.2 L261.2 724.6 L261.8 730.7 L262.3 733.9 L262.9 730.8 L263.4 724.0 L263.9 747.8 L264.5 726.2 L265.0 731.8 L265.6 718.9 L266.1 719.7 L266.7 730.4 L267.2 731.1 L267.8 729.6 L268.3 732.1 L268.9 721.5 L269.4 726.5 L270.0 729.4 L270.5 741.0 L271.1 735.5 L271.6 728.1 L272.1 739.8 L272.7 729.6 L273.2 729.2 L273.8 736.9 L274.3 727.9 L274.9 722.4 L275.4 727.2 L276.0 733.7 L276.5 733.8 L277.1 739.5 L277.6 724.0 L278.2 737.2 L278.7 735.8 L279.3 732.4 L279.8 737.4 L280.3 735.5 L280.9 728.9 L281.4 739.5 L282.0 726.5 L282.5 733.0 L283.1 732.3 L283.6 734.4 L284.2 729.0 L284.7 733.0 L285.3 732.6 L285.8 739.0 L286.4 729.0 L286.9 733.9 L287.4 731.6 L288.0 725.6 L288.5 747.5 L289.1 731.5 L289.6 724.5 L290.2 739.9 L290.7 727.3 L291.3 734.4 L291.8 736.5 L292.4 727.8 L292.9 728.1 L293.5 726.4 L294.0 727.8 L294.6 719.4 L295.1 722.2 L295.6 727.7 L296.2 742.5 L296.7 730.7 L297.3 736.3 L297.8 736.8 L298.4 720.1 L298.9 725.2 L299.5 703.1 L300.0 722.3 L300.6 722.3 L301.1 729.0 L301.7 730.4 L302.2 722.9 L302.8 722.9 L303.3 717.4 L303.8 724.9 L304.4 726.7 L304.9 727.7 L305.5 721.2 L306.0 735.3 L306.6 741.7 L307.1 725.0 L307.7 723.4 L308.2 723.9 L308.8 726.0 L309.3 725.6 L309.9 728.3 L310.4 736.5 L311.0 733.1 L311.5 732.4 L312.0 725.5 L312.6 728.3 L313.1 723.8 L313.7 722.4 L314.2 735.8 L314.8 718.7 L315.3 735.1 L315.9 722.7 L316.4 726.1 L317.0 730.4 L317.5 724.6 L318.1 726.9 L318.6 721.5 L319.2 722.3 L319.7 723.7 L320.2 721.7 L320.8 733.8 L321.3 724.7 L321.9 736.0 L322.4 712.7 L323.0 727.2 L323.5 730.3 L324.1 725.5 L324.6 732.5 L325.2 729.3 L325.7 724.4 L326.3 729.4 L326.8 742.6 L327.4 728.9 L327.9 729.1 L328.4 725.2 L329.0 729.2 L329.5 710.7 L330.1 727.2 L330.6 751.7 L331.2 743.4 L331.7 731.4 L332.3 733.4 L332.8 738.0 L333.4 731.2 L333.9 739.3 L334.5 734.1 L335.0 729.0 L335.6 738.4 L336.1 716.0 L336.6 726.0 L337.2 730.1 L337.7 716.3 L338.3 728.8 L338.8 726.1 L339.4 726.8 L339.9 745.0 L340.5 734.0 L341.0 729.2 L341.6 747.7 L342.1 729.3 L342.7 743.8 L343.2 733.8 L343.7 741.1 L344.3 724.5 L344.8 736.6 L345.4 733.8 L345.9 716.5 L346.5 737.0 L347.0 725.9 L347.6 739.1 L348.1 733.9 L348.7 734.8 L349.2 730.9 L349.8 735.8 L350.3 720.9 L350.9 731.7 L351.4 727.4 L351.9 732.5 L352.5 730.9 L353.0 734.1 L353.6 725.9 L354.1 740.5 L354.7 743.1 L355.2 730.1 L355.8 730.4 L356.3 732.1 L356.9 737.5 L357.4 741.0 L358.0 724.6 L358.5 727.4 L359.1 724.5 L359.6 724.5 L360.1 721.8 L360.7 732.4 L361.2 714.3 L361.8 738.7 L362.3 743.1 L362.9 724.6 L363.4 724.8 L364.0 726.7 L364.5 738.0 L365.1 725.6 L365.6 722.7 L366.2 731.6 L366.7 732.9 L367.3 726.5 L367.8 738.6 L368.3 731.5 L368.9 732.6 L369.4 716.9 L370.0 728.1 L370.5 727.1 L371.1 717.9 L371.6 732.0 L372.2 707.0 L372.7 729.4 L373.3 722.5 L373.8 741.8 L374.4 733.4 L374.9 735.7 L375.5 735.3 L376.0 723.7 L376.5 718.6 L377.1 729.3 L377.6 743.5 L378.2 731.2 L378.7 735.1 L379.3 744.3 L379.8 722.7 L380.4 732.5 L380.9 741.9 L381.5 728.0 L382.0 720.8 L382.6 730.1 L383.1 728.6 L383.7 733.1 L384.2 725.5 L384.7 730.7 L385.3 705.4 L385.8 734.2 L386.4 739.2 L386.9 737.4 L387.5 722.5 L388.0 732.7 L388.6 715.1 L389.1 733.2 L389.7 730.9 L390.2 725.9 L390.8 732.7 L391.3 733.7 L391.8 737.2 L392.4 733.3 L392.9 733.8 L393.5 722.5 L394.0 717.9 L394.6 731.2 L395.1 737.8 L395.7 732.8 L396.2 740.5 L396.8 727.3 L397.3 731.4 L397.9 733.1 L398.4 730.8 L399.0 734.0 L399.5 728.6 L400.0 739.4 L400.6 727.6 L401.1 738.7 L401.7 732.9 L402.2 741.8 L402.8 727.0 L403.3 737.1 L403.9 732.2 L404.4 736.7 L405.0 741.9 L405.5 728.9 L406.1 727.8 L406.6 720.8 L407.2 738.0 L407.7 724.3 L408.2 736.3 L408.8 728.4 L409.3 730.2 L409.9 735.0 L410.4 739.3 L411.0 733.1 L411.5 733.8 L412.1 736.1 L412.6 734.5 L413.2 721.5 L413.7 733.3 L414.3 737.5 L414.8 751.3 L415.4 747.1 L415.9 739.7 L416.4 737.2 L417.0 730.5 L417.5 735.4 L418.1 738.2 L418.6 739.4 L419.2 727.4 L419.7 730.6 L420.3 730.8 L420.8 731.9 L421.4 719.2 L421.9 708.9 L422.5 699.0 L423.0 687.1 L423.6 673.1 L424.1 663.1 L424.6 658.8 L425.2 661.5 L425.7 669.8 L426.3 677.8 L426.8 690.7 L427.4 698.0 L427.9 707.9 L428.5 718.9 L429.0 719.7 L429.6 716.1 L430.1 726.9 L430.7 727.4 L431.2 724.1 L431.8 723.0 L432.3 739.7 L432.8 745.3 L433.4 734.7 L433.9 743.1 L434.5 743.8 L435.0 730.9 L435.6 736.5 L436.1 738.2 L436.7 739.5 L437.2 730.1 L437.8 736.8 L438.3 744.6 L438.9 745.8 L439.4 750.4 L440.0 738.8 L440.5 750.5 L441.0 743.7 L441.6 732.9 L442.1 751.4 L442.7 736.4 L443.2 744.3 L443.8 740.7 L444.3 748.9 L444.9 743.6 L445.4 740.8 L446.0 748.4 L446.5 744.8 L447.1 741.1 L447.6 750.3 L448.1 741.7 L448.7 740.5 L449.2 741.0 L449.8 735.6 L450.3 739.9 L450.9 766.8 L451.4 738.5 L452.0 741.8 L452.5 735.8 L453.1 737.8 L453.6 749.1 L454.2 745.2 L454.7 736.7 L455.3 740.2 L455.8 735.6 L456.3 736.2 L456.9 735.6 L457.4 727.5 L458.0 741.1 L458.5 742.6 L459.1 742.5 L459.6 740.2 L460.2 734.1 L460.7 740.4 L461.3 736.3 L461.8 746.3 L462.4 743.9 L462.9 744.7 L463.5 739.9 L464.0 731.6 L464.5 746.1 L465.1 746.4 L465.6 732.4 L466.2 741.7 L466.7 746.5 L467.3 733.5 L467.8 748.8 L468.4 736.4 L468.9 733.3 L469.5 746.8 L470.0 740.7 L470.6 735.5 L471.1 743.5 L471.7 727.5 L472.2 749.0 L472.7 734.0 L473.3 740.8 L473.8 733.9 L474.4 745.2 L474.9 753.4 L475.5 736.6 L476.0 744.7 L476.6 739.3 L477.1 736.5 L477.7 737.4 L478.2 734.2 L478.8 736.3 L479.3 745.8 L479.9 739.6 L480.4 747.8 L480.9 747.7 L481.5 735.7 L482.0 730.5 L482.6 737.3 L483.1 741.9 L483.7 740.6 L484.2 734.6 L484.8 745.5 L485.3 730.0 L485.9 731.9 L486.4 739.2 L487.0 762.3 L487.5 741.2 L488.1 732.7 L488.6 741.9 L489.1 742.7 L489.7 744.2 L490.2 736.0 L490.8 733.7 L491.3 738.3 L491.9 740.1 L492.4 746.7 L493.0 761.8 L493.5 733.0 L494.1 734.1 L494.6 736.6 L495.2 735.1 L495.7 743.3 L496.3 743.7 L496.8 737.7 L497.3 744.4 L497.9 736.5 L498.4 731.5 L499.0 729.5 L499.5 731.5 L500.1 730.9 L500.6 727.6 L501.2 741.2 L501.7 739.5 L502.3 736.4 L502.8 734.4 L503.4 729.6 L503.9 733.4 L504.4 762.4 L505.0 726.3 L505.5 738.7 L506.1 742.5 L506.6 740.0 L507.2 738.3 L507.7 743.9 L508.3 733.8 L508.8 743.1 L509.4 747.2 L509.9 734.5 L510.5 736.5 L511.0 742.2 L511.6 746.9 L512.1 748.6 L512.6 744.6 L513.2 736.2 L513.7 733.9 L514.3 741.8 L514.8 742.3 L515.4 733.4 L515.9 740.4 L516.5 742.2 L517.0 755.0 L517.6 734.9 L518.1 744.2 L518.7 734.4 L519.2 738.4 L519.8 740.2 L520.3 748.7 L520.8 758.9 L521.4 742.0 L521.9 747.2 L522.5 744.7 L523.0 731.5 L523.6 743.1 L524.1 732.5 L524.7 748.4 L525.2 759.6 L525.8 742.5 L526.3 735.5 L526.9 748.5 L527.4 740.4 L528.0 739.8 L528.5 742.1 L529.0 729.4 L529.6 741.7 L530.1 744.9 L530.7 741.2 L531.2 738.9 L531.8 732.9 L532.3 747.4 L532.9 739.6 L533.4 738.9 L534.0 731.5 L534.5 743.8 L535.1 746.0 L535.6 740.4 L536.2 743.2 L536.7 745.0 L537.2 746.4 L537.8 739.1 L538.3 734.8 L538.9 735.3 L539.4 737.1 L540.0 740.5 L540.5 742.0 L541.1 734.5 L541.6 736.9 L542.2 731.3 L542.7 743.1 L543.3 734.3 L543.8 738.7 L544.4 733.0 L544.9 735.3 L545.4 733.4 L546.0 761.9 L546.5 742.6 L547.1 736.9 L547.6 733.3 L548.2 734.2 L548.7 740.4 L549.3 746.6 L549.8 728.8 L550.4 731.7 L550.9 735.4 L551.5 732.5 L552.0 727.3 L552.6 736.0 L553.1 739.5 L553.6 726.7 L554.2 736.4 L554.7 740.4 L555.3 748.7 L555.8 732.9 L556.4 747.6 L556.9 737.6 L557.5 729.3 L558.0 737.9 L558.6 726.4 L559.1 737.0 L559.7 714.1 L560.2 743.1 L560.7 729.0 L561.3 738.6 L561.8 736.1 L562.4 738.7 L562.9 733.4 L563.5 738.4 L564.0 724.5 L564.6 736.7 L565.1 737.0 L565.7 737.4 L566.2 739.4 L566.8 755.2 L567.3 736.7 L567.9 739.4 L568.4 735.9 L568.9 743.4 L569.5 723.2 L570.0 743.2 L570.6 728.8 L571.1 720.2 L571.7 727.8 L572.2 732.4 L572.8 733.8 L573.3 732.4 L573.9 736.6 L574.4 732.4 L575.0 731.5 L575.5 720.1 L576.1 735.4 L576.6 738.7 L577.1 730.8 L577.7 723.5 L578.2 727.5 L578.8 743.8 L579.3 725.8 L579.9 729.7 L580.4 729.5 L581.0 737.9 L581.5 731.2 L582.1 731.2 L582.6 728.9 L583.2 736.5 L583.7 750.9 L584.3 736.3 L584.8 742.3 L585.3 738.4 L585.9 739.3 L586.4 740.1 L587.0 738.7 L587.5 743.3 L588.1 741.2 L588.6 734.4 L589.2 738.0 L589.7 736.5 L590.3 744.1 L590.8 739.7 L591.4 737.9 L591.9 727.8 L592.5 737.4 L593.0 742.2 L593.5 727.5 L594.1 744.0 L594.6 735.9 L595.2 734.5 L595.7 726.6 L596.3 742.4 L596.8 731.4 L597.4 735.4 L597.9 740.3 L598.5 732.3 L599.0 732.1 L599.6 722.9 L600.1 737.3 L600.7 740.6 L601.2 738.8 L601.7 739.5 L602.3 732.6 L602.8 737.1 L603.4 732.2 L603.9 747.3 L604.5 738.1 L605.0 726.8 L605.6 732.2 L606.1 747.3 L606.7 729.3 L607.2 733.8 L607.8 738.6 L608.3 730.8 L608.9 742.6 L609.4 746.6 L609.9 731.6 L610.5 740.7 L611.0 729.6 L611.6 720.8 L612.1 736.6 L612.7 736.3 L613.2 727.5 L613.8 740.4 L614.3 726.7 L614.9 730.7 L615.4 729.4 L616.0 739.9 L616.5 740.2 L617.0 740.5 L617.6 718.4 L618.1 737.0 L618.7 738.6 L619.2 728.2 L619.8 732.2 L620.3 740.4 L620.9 740.6 L621.4 737.9 L622.0 739.4 L622.5 739.1 L623.1 737.8 L623.6 737.1 L624.2 732.3 L624.7 735.6 L625.2 735.2 L625.8 750.8 L626.3 739.6 L626.9 737.9 L627.4 737.2 L628.0 737.5 L628.5 737.1 L629.1 745.6 L629.6 737.9 L630.2 741.4 L630.7 733.0 L631.3 740.0 L631.8 750.4 L632.4 730.8 L632.9 737.0 L633.4 737.4 L634.0 732.7 L634.5 730.3 L635.1 727.1 L635.6 743.0 L636.2 732.2 L636.7 730.6 L637.3 741.5 L637.8 713.4 L638.4 743.0 L638.9 740.9 L639.5 742.0 L640.0 738.4 L640.6 732.8 L641.1 729.2 L641.6 747.4 L642.2 737.2 L642.7 737.1 L643.3 748.7 L643.8 730.7 L644.4 738.0 L644.9 737.3 L645.5 737.1 L646.0 732.1 L646.6 729.1 L647.1 742.9 L647.7 739.7 L648.2 718.6 L648.8 724.2 L649.3 737.5 L649.8 735.7 L650.4 734.0 L650.9 741.7 L651.5 725.7 L652.0 741.8 L652.6 736.2 L653.1 737.9 L653.7 736.7 L654.2 738.6 L654.8 732.5 L655.3 726.0 L655.9 744.6 L656.4 735.3 L657.0 728.4 L657.5 743.1 L658.0 752.9 L658.6 744.5 L659.1 735.4 L659.7 737.7 L660.2 734.7 L660.8 730.6 L661.3 735.0 L661.9 736.6 L662.4 730.9 L663.0 743.4 L663.5 711.4 L664.1 729.5 L664.6 729.7 L665.1 741.3 L665.7 733.3 L666.2 732.3 L666.8 729.5 L667.3 730.6 L667.9 727.5 L668.4 740.1 L669.0 737.5 L669.5 740.4 L670.1 731.7 L670.6 749.2 L671.2 730.8 L671.7 727.0 L672.3 737.1 L672.8 740.0 L673.3 743.7 L673.9 733.4 L674.4 741.3 L675.0 747.5 L675.5 726.9 L676.1 735.4 L676.6 729.6 L677.2 740.5 L677.7 744.2 L678.3 744.2 L678.8 744.7 L679.4 747.2 L679.9 740.6 L680.5 744.3 L681.0 734.0 L681.5 735.0 L682.1 742.5 L682.6 734.3 L683.2 742.1 L683.7 747.2 L684.3 741.5 L684.8 735.0 L685.4 735.0 L685.9 747.4 L686.5 735.8 L687.0 740.8 L687.6 738.4 L688.1 739.0 L688.7 744.3 L689.2 731.0 L689.7 730.0 L690.3 744.8 L690.8 738.4 L691.4 741.2 L691.9 736.6 L692.5 741.5 L693.0 744.5 L693.6 745.0 L694.1 735.6 L694.7 735.5 L695.2 738.7 L695.8 737.2 L696.3 737.7 L696.9 731.2 L697.4 722.4 L697.9 737.1 L698.5 739.2 L699.0 739.1 L699.6 744.8 L700.1 741.0 L700.7 731.6 L701.2 742.4 L701.8 736.9 L702.3 743.7 L702.9 740.1 L703.4 741.0 L704.0 741.5 L704.5 740.7 L705.1 732.6 L705.6 740.7 L706.1 728.0 L706.7 742.7 L707.2 745.9 L707.8 751.6 L708.3 743.2 L708.9 737.5 L709.4 731.6 L710.0 764.8 L710.5 721.0 L711.1 745.2 L711.6 728.8 L712.2 740.9 L712.7 745.8 L713.3 744.4 L713.8 742.3 L714.3 738.1 L714.9 737.7 L715.4 748.6 L716.0 746.2 L716.5 742.9 L717.1 744.0 L717.6 737.9 L718.2 749.4 L718.7 750.4 L719.3 739.3 L719.8 744.5 L720.4 749.9 L720.9 740.1 L721.4 754.0 L722.0 751.2 L722.5 739.6 L723.1 748.8 L723.6 751.5 L724.2 735.7 L724.7 744.8 L725.3 741.0 L725.8 741.3 L726.4 746.0 L726.9 739.3 L727.5 733.8 L728.0 720.4 L728.6 739.8 L729.1 743.2 L729.6 739.8 L730.2 738.7 L730.7 739.2 L731.3 757.1 L731.8 741.9 L732.4 734.8 L732.9 737.2 L733.5 745.2 L734.0 735.9 L734.6 736.4 L735.1 739.0 L735.7 733.2 L736.2 743.5 L736.8 726.6 L737.3 756.4 L737.8 732.8 L738.4 718.5 L738.9 737.4 L739.5 724.3 L740.0 735.7 L740.6 729.8 L741.1 720.8 L741.7 717.4 L742.2 715.8 L742.8 701.8 L743.3 692.1 L743.9 676.4 L744.4 656.7 L745.0 626.2 L745.5 592.0 L746.0 551.4 L746.6 501.8 L747.1 467.6 L747.7 450.2 L748.2 456.9 L748.8 479.8 L749.3 502.8 L749.9 533.1 L750.4 559.3 L751.0 587.2 L751.5 610.0 L752.1 631.1 L752.6 649.8 L753.2 665.2 L753.7 679.8 L754.2 688.1 L754.8 697.8 L755.3 703.4 L755.9 710.8 L756.4 710.5 L757.0 723.1 L757.5 719.9 L758.1 724.6 L758.6 725.8 L759.2 733.1 L759.7 731.2 L760.3 730.1 L760.8 733.4 L761.4 734.2 L761.9 737.6 L762.4 737.5 L763.0 741.0 L763.5 743.2 L764.1 738.3 L764.6 729.6 L765.2 746.3 L765.7 749.5 L766.3 737.6 L766.8 733.7 L767.4 729.8 L767.9 744.3 L768.5 735.5 L769.0 750.7 L769.6 727.3 L770.1 741.3 L770.6 744.7 L771.2 739.1 L771.7 737.4 L772.3 743.9 L772.8 740.8 L773.4 742.5 L773.9 743.6 L774.5 740.6 L775.0 743.1 L775.6 748.7 L776.1 739.6 L776.7 746.2 L777.2 741.3 L777.7 750.3 L778.3 737.4 L778.8 749.8 L779.4 728.2 L779.9 740.2 L780.5 736.0 L781.0 758.9 L781.6 746.5 L782.1 737.7 L782.7 742.2 L783.2 752.6 L783.8 744.9 L784.3 748.8 L784.9 737.9 L785.4 736.4 L785.9 751.8 L786.5 755.6 L787.0 740.3 L787.6 751.8 L788.1 737.8 L788.7 749.9 L789.2 740.3 L789.8 739.5 L790.3 731.1 L790.9 738.3 L791.4 742.3 L792.0 748.1 L792.5 734.9 L793.1 746.0 L793.6 738.6 L794.1 739.1 L794.7 734.7 L795.2 730.8 L795.8 733.5 L796.3 748.3 L796.9 722.7 L797.4 736.6 L798.0 743.7 L798.5 726.0 L799.1 739.5 L799.6 729.1 L800.2 737.8 L800.7 741.5 L801.3 735.3 L801.8 735.2 L802.3 740.2 L802.9 740.4 L803.4 733.0 L804.0 736.5 L804.5 717.5 L805.1 744.1 L805.6 730.0 L806.2 737.5 L806.7 760.0 L807.3 739.9 L807.8 734.6 L808.4 732.4 L808.9 732.7 L809.5 742.1 L810.0 742.4 L810.5 738.2 L811.1 752.6 L811.6 734.3 L812.2 731.3 L812.7 736.8 L813.3 740.5 L813.8 744.1 L814.4 738.3 L814.9 743.6 L815.5 746.8 L816.0 737.5 L816.6 725.7 L817.1 743.0 L817.7 726.6 L818.2 737.0 L818.7 739.4 L819.3 734.6 L819.8 736.9 L820.4 740.4 L820.9 738.1 L821.5 740.8 L822.0 733.6 L822.6 738.0 L823.1 734.5 L823.7 738.7 L824.2 741.9 L824.8 739.5 L825.3 732.8 L825.9 740.1 L826.4 743.0 L826.9 747.8 L827.5 742.0 L828.0 739.3 L828.6 724.1 L829.1 751.5 L829.7 726.5 L830.2 734.8 L830.8 740.4 L831.3 731.6 L831.9 746.9 L832.4 742.5 L833.0 744.2 L833.5 736.8 L834.0 738.5 L834.6 751.8 L835.1 744.9 L835.7 755.8 L836.2 755.6 L836.8 730.4 L837.3 741.2 L837.9 738.1 L838.4 745.3 L839.0 739.0 L839.5 745.9 L840.1 734.0 L840.6 743.1 L841.2 747.8 L841.7 730.7 L842.2 728.2 L842.8 733.5 L843.3 747.1 L843.9 739.3 L844.4 736.3 L845.0 725.3 L845.5 745.0 L846.1 743.4 L846.6 739.8 L847.2 737.0 L847.7 739.2 L848.3 738.7 L848.8 743.8 L849.4 747.0 L849.9 730.9 L850.4 720.6 L851.0 740.2 L851.5 741.0 L852.1 718.7 L852.6 736.9 L853.2 738.2 L853.7 734.4 L854.3 733.3 L854.8 739.3 L855.4 744.1 L855.9 742.7 L856.5 742.4 L857.0 740.4 L857.6 735.2 L858.1 736.0 L858.6 741.9 L859.2 738.9 L859.7 748.9 L860.3 740.1 L860.8 738.3 L861.4 740.9 L861.9 731.0 L862.5 738.3 L863.0 735.7 L863.6 749.7 L864.1 734.9 L864.7 740.3 L865.2 736.4 L865.8 740.6 L866.3 741.9 L866.8 737.1 L867.4 738.9 L867.9 739.4 L868.5 748.7 L869.0 736.9 L869.6 737.9 L870.1 734.9 L870.7 731.5 L871.2 737.2 L871.8 738.9 L872.3 732.1 L872.9 743.4 L873.4 731.6 L874.0 743.9 L874.5 735.8 L875.0 724.8 L875.6 731.9 L876.1 723.9 L876.7 729.9 L877.2 732.9 L877.8 738.0 L878.3 732.2 L878.9 721.9 L879.4 723.4 L880.0 733.0 L880.5 726.7 L881.1 731.7 L881.6 719.7 L882.2 718.4 L882.7 705.4 L883.2 715.0 L883.8 717.6 L884.3 707.2 L884.9 707.7 L885.4 701.1 L886.0 695.1 L886.5 685.1 L887.1 676.9 L887.6 668.1 L888.2 645.3 L888.7 630.5 L889.3 606.9 L889.8 563.3 L890.3 507.8 L890.9 414.6 L891.4 278.5 L892.0 42.9 L892.5 -15.0 L893.1 -15.0 L893.6 -15.0 L894.2 -15.0 L894.7 -15.0 L895.3 -15.0 L895.8 173.2 L896.4 334.6 L896.9 438.0 L897.5 505.2 L898.0 557.5 L898.5 591.5 L899.1 621.4 L899.6 642.9 L900.2 657.7 L900.7 667.2 L901.3 675.6 L901.8 686.3 L902.4 690.8 L902.9 698.5 L903.5 701.8 L904.0 714.2 L904.6 705.5 L905.1 714.0 L905.7 722.0 L906.2 717.0 L906.7 716.9 L907.3 728.9 L907.8 714.8 L908.4 716.8 L908.9 719.9 L909.5 727.8 L910.0 731.7 L910.6 727.3 L911.1 739.3 L911.7 729.5 L912.2 730.8 L912.8 730.1 L913.3 737.8 L913.9 731.5 L914.4 730.5 L914.9 740.7 L915.5 739.7 L916.0 745.6 L916.6 728.0 L917.1 729.0 L917.7 733.0 L918.2 733.4 L918.8 733.6 L919.3 734.5 L919.9 739.4 L920.4 732.5 L921.0 740.4 L921.5 735.6 L922.1 734.9 L922.6 736.2 L923.1 746.8 L923.7 738.5 L924.2 732.2 L924.8 737.8 L925.3 736.5 L925.9 738.2 L926.4 732.5 L927.0 741.8 L927.5 738.3 L928.1 730.2 L928.6 729.8 L929.2 717.3 L929.7 739.5 L930.3 733.6 L930.8 734.4 L931.3 736.4 L931.9 742.6 L932.4 757.9 L933.0 735.1 L933.5 756.7 L934.1 736.1 L934.6 736.3 L935.2 726.8 L935.7 719.5 L936.3 720.0 L936.8 714.8 L937.4 697.8 L937.9 690.1 L938.4 680.1 L939.0 676.5 L939.5 676.5 L940.1 682.3 L940.6 691.6 L941.2 701.8 L941.7 705.6 L942.3 714.5 L942.8 718.7 L943.4 723.3 L943.9 724.8 L944.5 728.4 L945.0 728.7 L945.6 733.5 L946.1 739.9 L946.6 736.8 L947.2 739.7 L947.7 733.7 L948.3 742.3 L948.8 723.7 L949.4 733.2 L949.9 738.5 L950.5 731.4 L951.0 742.9 L951.6 741.5 L952.1 736.7 L952.7 742.6 L953.2 733.8 L953.8 737.5 L954.3 738.9 L954.8 733.1 L955.4 747.3 L955.9 737.5 L956.5 745.9 L957.0 738.9 L957.6 743.8 L958.1 734.3 L958.7 737.6 L959.2 738.0 L959.8 740.3 L960.3 746.1 L960.9 731.1 L961.4 737.1 L962.0 740.9 L962.5 744.9 L963.0 740.0 L963.6 737.6 L964.1 731.0 L964.7 739.0 L965.2 741.4 L965.8 734.5 L966.3 736.9 L966.9 741.8 L967.4 737.3 L968.0 734.1 L968.5 740.6 L969.1 741.7 L969.6 741.2 L970.2 741.2 L970.7 735.7 L971.2 738.3 L971.8 739.4 L972.3 738.1 L972.9 727.6 L973.4 736.4 L974.0 737.7 L974.5 743.4 L975.1 734.9 L975.6 738.5 L976.2 727.2 L976.7 728.1 L977.3 719.3 L977.8 734.5 L978.4 757.2 L978.9 760.1 L979.4 729.5 L980.0 739.6 L980.5 754.7 L981.1 735.3 L981.6 726.9 L982.2 757.3 L982.7 732.5 L983.3 734.7 L983.8 745.8 L984.4 739.7 L984.9 748.7 L985.5 760.8 L986.0 737.1 L986.6 732.9 L987.1 741.1 L987.6 736.3 L988.2 741.3 L988.7 740.1 L989.3 734.0 L989.8 738.3 L990.4 735.9 L990.9 735.6 L991.5 737.8 L992.0 739.7 L992.6 739.0 L993.1 731.6 L993.7 741.0 L994.2 730.9 L994.7 750.7 L995.3 734.3 L995.8 738.8 L996.4 758.3 L996.9 739.0 L997.5 733.7 L998.0 721.6 L998.6 742.2 L999.1 742.1 L999.7 744.5 L1000.2 741.2 L1000.8 737.6 L1001.3 743.1 L1001.9 747.9 L1002.4 735.7 L1002.9 760.4 L1003.5 738.0 L1004.0 747.0 L1004.6 750.1 L1005.1 744.9 L1005.7 745.0 L1006.2 745.3 L1006.8 760.0 L1007.3 727.3 L1007.9 745.0 L1008.4 740.6 L1009.0 738.9 L1009.5 743.3 L1010.1 742.6 L1010.6 745.1 L1011.1 734.8 L1011.7 749.0 L1012.2 731.0 L1012.8 736.6 L1013.3 724.1 L1013.9 741.2 L1014.4 738.9 L1015.0 744.5 L1015.5 738.0 L1016.1 748.8 L1016.6 746.5 L1017.2 740.3 L1017.7 719.4 L1018.3 736.4 L1018.8 733.4 L1019.3 749.4 L1019.9 747.0 L1020.4 736.2 L1021.0 753.3 L1021.5 741.4 L1022.1 730.9 L1022.6 759.3 L1023.2 751.8 L1023.7 744.4 L1024.3 739.5 L1024.8 762.7 L1025.4 743.0 L1025.9 744.7 L1026.5 748.4 L1027.0 747.9 L1027.5 742.8 L1028.1 739.5 L1028.6 756.4 L1029.2 722.1 L1029.7 747.5 L1030.3 747.7 L1030.8 748.7 L1031.4 743.7 L1031.9 749.0 L1032.5 757.4 L1033.0 740.1 L1033.6 745.8 L1034.1 748.1 L1034.7 739.9 L1035.2 740.6 L1035.7 754.3 L1036.3 751.5 L1036.8 742.5 L1037.4 749.9 L1037.9 748.3 L1038.5 753.4 L1039.0 752.0 L1039.6 732.0 L1040.1 743.5 L1040.7 752.9 L1041.2 754.2 L1041.8 741.9 L1042.3 738.9 L1042.9 746.6 L1043.4 741.4 L1043.9 744.1 L1044.5 738.0 L1045.0 747.6 L1045.6 746.7 L1046.1 745.7 L1046.7 736.5 L1047.2 732.2 L1047.8 734.0 L1048.3 744.3 L1048.9 731.5 L1049.4 749.1 L1050.0 749.0 L1050.5 736.3 L1051.0 738.8 L1051.6 744.4 L1052.1 743.9 L1052.7 734.8 L1053.2 736.3 L1053.8 738.1 L1054.3 736.1 L1054.9 740.9 L1055.4 739.2 L1056.0 745.4 L1056.5 729.0 L1057.1 743.5 L1057.6 741.3 L1058.2 737.8 L1058.7 743.5 L1059.2 742.4 L1059.8 738.7 L1060.3 736.1 L1060.9 742.1 L1061.4 734.1 L1062.0 730.9 L1062.5 734.1 L1063.1 734.1 L1063.6 740.0 L1064.2 741.9 L1064.7 742.3 L1065.3 746.8 L1065.8 737.4 L1066.4 734.9 L1066.9 733.5 L1067.4 732.7 L1068.0 736.2 L1068.5 757.4 L1069.1 730.3 L1069.6 741.8 L1070.2 738.2 L1070.7 750.2 L1071.3 736.2 L1071.8 743.1 L1072.4 737.0 L1072.9 742.9 L1073.5 729.4 L1074.0 742.3 L1074.6 743.5 L1075.1 717.6 L1075.6 743.8 L1076.2 733.2 L1076.7 745.1 L1077.3 741.2 L1077.8 745.1 L1078.4 746.6 L1078.9 734.1 L1079.5 762.0 L1080.0 746.7 L1080.6 734.0 L1081.1 743.2 L1081.7 743.2 L1082.2 736.8 L1082.8 733.4 L1083.3 746.2 L1083.8 737.0 L1084.4 752.6 L1084.9 748.8 L1085.5 741.2 L1086.0 734.5 L1086.6 744.4 L1087.1 720.3 L1087.7 727.9 L1088.2 755.6 L1088.8 735.7 L1089.3 740.5 L1089.9 733.1 L1090.4 738.7 L1091.0 738.6 L1091.5 723.7 L1092.0 729.0 L1092.6 741.0 L1093.1 748.9 L1093.7 737.4 L1094.2 730.6 L1094.8 739.2 L1095.3 729.7 L1095.9 726.9 L1096.4 728.8 L1097.0 735.2 L1097.5 713.8 L1098.1 726.8 L1098.6 711.3 L1099.2 698.2 L1099.7 688.2 L1100.2 673.3 L1100.8 653.6 L1101.3 631.2 L1101.9 600.9 L1102.4 576.3 L1103.0 558.3 L1103.5 548.7 L1104.1 550.9 L1104.6 561.5 L1105.2 578.2 L1105.7 591.5 L1106.3 607.7 L1106.8 627.8 L1107.3 645.0 L1107.9 658.4 L1108.4 667.6 L1109.0 677.6 L1109.5 691.6 L1110.1 697.4 L1110.6 705.6 L1111.2 709.9 L1111.7 721.4 L1112.3 719.9 L1112.8 722.0 L1113.4 726.7 L1113.9 723.3 L1114.5 730.9 L1115.0 731.3 L1115.5 723.6 L1116.1 729.0 L1116.6 729.1 L1117.2 727.3 L1117.7 737.5 L1118.3 742.5 L1118.8 741.1 L1119.4 729.8 L1119.9 729.1 L1120.5 742.4 L1121.0 736.6 L1121.6 738.5 L1122.1 731.8 L1122.7 715.0 L1123.2 749.2 L1123.7 735.5 L1124.3 737.5 L1124.8 733.9 L1125.4 749.6 L1125.9 739.4 L1126.5 740.9 L1127.0 741.9 L1127.6 741.0 L1128.1 748.6 L1128.7 731.4 L1129.2 744.5 L1129.8 738.3 L1130.3 739.2 L1130.9 738.6 L1131.4 745.3 L1131.9 735.9 L1132.5 739.3 L1133.0 744.8 L1133.6 738.4 L1134.1 739.3 L1134.7 744.0 L1135.2 742.1 L1135.8 739.5 L1136.3 740.5 L1136.9 735.5 L1137.4 744.9 L1138.0 734.5 L1138.5 731.0 L1139.1 742.2 L1139.6 721.8 L1140.1 735.4 L1140.7 739.2 L1141.2 750.8 L1141.8 739.8 L1142.3 739.5 L1142.9 734.8 L1143.4 743.6 L1144.0 739.2 L1144.5 743.3 L1145.1 748.8 L1145.6 740.2 L1146.2 739.0 L1146.7 736.1 L1147.3 736.4 L1147.8 723.6 L1148.3 734.9 L1148.9 738.4 L1149.4 742.5 L1150.0 742.7 L1150.5 738.3 L1151.1 743.0 L1151.6 722.9 L1152.2 753.1 L1152.7 755.3 L1153.3 741.7 L1153.8 744.9 L1154.4 742.4 L1154.9 745.8 L1155.5 738.4 L1156.0 733.6 L1156.5 746.9 L1157.1 737.9 L1157.6 748.0 L1158.2 738.6 L1158.7 740.0 L1159.3 748.2 L1159.8 764.3 L1160.4 741.3 L1160.9 735.7 L1161.5 742.8 L1162.0 738.0 L1162.6 732.2 L1163.1 742.5 L1163.6 730.0 L1164.2 744.1 L1164.7 738.6 L1165.3 743.2 L1165.8 733.4 L1166.4 737.6 L1166.9 749.1 L1167.5 760.3 L1168.0 746.0 L1168.6 744.3 L1169.1 736.4 L1169.7 746.5 L1170.2 744.6 L1170.8 742.2 L1171.3 751.3 L1171.8 741.1 L1172.4 754.8 L1172.9 741.3 L1173.5 740.9 L1174.0 743.3 L1174.6 736.4 L1175.1 741.2 L1175.7 743.3 L1176.2 733.5 L1176.8 738.0 L1177.3 735.9 L1177.9 741.4 L1178.4 760.0 L1179.0 738.3 L1179.5 744.4 L1180.0 747.1 L1180.6 738.6 L1181.1 746.1 L1181.7 734.3 L1182.2 733.2 L1182.8 733.0 L1183.3 738.3 L1183.9 756.9 L1184.4 750.3 L1185.0 742.5 L1185.5 745.4 L1186.1 742.7 L1186.6 739.6 L1187.2 734.9 L1187.7 754.2 L1188.2 739.8 L1188.8 746.8 L1189.3 754.5 L1189.9 743.8 L1190.4 745.1 L1191.0 748.4 L1191.5 743.3 L1192.1 746.8 L1192.6 744.7 L1193.2 753.2 L1193.7 749.1 L1194.3 740.1 L1194.8 726.7 L1195.4 741.3 L1195.9 740.9 L1196.4 740.6 L1197.0 749.4 L1197.5 740.8 L1198.1 741.8 L1198.6 745.8 L1199.2 734.2 L1199.7 746.8 L1200.3 748.0 L1200.8 752.9 L1201.4 740.2 L1201.9 742.0 L1202.5 744.8 L1203.0 741.7 L1203.6 723.4 L1204.1 748.3 L1204.6 742.5 L1205.2 745.8 L1205.7 738.7 L1206.3 750.6 L1206.8 742.6 L1207.4 740.9 L1207.9 754.8 L1208.5 750.0 L1209.0 738.5 L1209.6 749.4 L1210.1 751.7 L1210.7 744.7 L1211.2 735.8 L1211.7 746.8 L1212.3 749.2 L1212.8 737.8 L1213.4 751.9 L1213.9 741.1 L1214.5 741.1 L1215.0 747.3 L1215.6 743.6 L1216.1 749.2 L1216.7 742.8 L1217.2 744.3 L1217.8 740.9 L1218.3 742.3 L1218.9 743.6 L1219.4 743.6 L1219.9 739.7 L1220.5 746.3 L1221.0 740.1 L1221.6 747.6 L1222.1 745.0 L1222.7 741.0 L1223.2 739.0 L1223.8 742.6 L1224.3 750.0 L1224.9 743.3 L1225.4 747.6 L1226.0 742.1 L1226.5 740.6 L1227.1 739.5 L1227.6 719.3 L1228.1 744.7 L1228.7 743.4 L1229.2 743.2 L1229.8 747.7 L1230.3 738.2 L1230.9 752.4 L1231.4 735.9 L1232.0 745.5 L1232.5 737.8 L1233.1 740.0 L1233.6 751.0 L1234.2 737.0 L1234.7 746.6 L1235.3 747.2 L1235.8 747.7 L1236.3 747.9 L1236.9 750.5 L1237.4 749.1 L1238.0 749.3 L1238.5 752.8 L1239.1 752.2 L1239.6 747.4 L1240.2 740.6 L1240.7 752.1 L1241.3 745.4 L1241.8 756.5 L1242.4 739.9 L1242.9 741.2 L1243.5 753.3 L1244.0 743.1 L1244.5 739.1 L1245.1 753.0 L1245.6 738.4 L1246.2 753.0 L1246.7 739.9 L1247.3 747.9 L1247.8 746.4 L1248.4 735.3 L1248.9 745.2 L1249.5 742.7 L1250.0 745.8 L1250.6 747.7 L1251.1 767.9 L1251.7 745.0 L1252.2 745.1 L1252.7 757.5 L1253.3 749.7 L1253.8 749.7 L1254.4 737.2 L1254.9 737.7 L1255.5 742.4 L1256.0 744.3 L1256.6 748.2 L1257.1 760.7 L1257.7 738.4 L1258.2 738.8 L1258.8 747.8 L1259.3 748.1 L1259.9 749.7 L1260.4 741.4 L1260.9 739.0 L1261.5 755.1 L1262.0 746.3 L1262.6 736.2 L1263.1 740.7 L1263.7 741.5 L1264.2 735.2 L1264.8 747.5 L1265.3 744.2 L1265.9 741.6 L1266.4 739.7 L1267.0 752.5 L1267.5 743.0 L1268.0 739.8 L1268.6 720.8 L1269.1 739.3 L1269.7 749.5 L1270.2 754.3 L1270.8 739.8 L1271.3 734.9 L1271.9 746.6 L1272.4 746.1 L1273.0 750.7 L1273.5 741.7 L1274.1 746.2 L1274.6 734.7 L1275.2 738.8 L1275.7 742.1 L1276.2 742.4 L1276.8 748.1 L1277.3 752.5 L1277.9 738.3 L1278.4 753.8 L1279.0 741.1 L1279.5 738.0 L1280.1 749.8 L1280.6 730.8 L1281.2 736.2 L1281.7 740.2 L1282.3 745.6 L1282.8 750.7 L1283.4 759.9 L1283.9 740.2 L1284.4 755.2 L1285.0 743.2 L1285.5 752.8 L1286.1 743.0 L1286.6 750.2 L1287.2 739.0 L1287.7 748.9 L1288.3 737.7 L1288.8 745.2 L1289.4 735.8 L1289.9 743.1 L1290.5 740.0 L1291.0 730.9 L1291.6 748.0 L1292.1 749.3 L1292.6 746.2 L1293.2 746.7 L1293.7 748.6 L1294.3 751.1 L1294.8 749.8 L1295.4 747.1 L1295.9 755.8 L1296.5 742.2 L1297.0 749.7 L1297.6 739.4 L1298.1 758.7 L1298.7 744.2 L1299.2 746.0 L1299.8 751.6 L1300.3 743.3 L1300.8 732.0 L1301.4 733.5 L1301.9 741.9 L1302.5 754.4 L1303.0 744.9 L1303.6 752.9 L1304.1 748.9 L1304.7 742.4 L1305.2 736.9 L1305.8 742.5 L1306.3 746.2 L1306.9 741.9 L1307.4 744.6 L1308.0 746.4 L1308.5 738.5 L1309.0 736.4 L1309.6 743.3 L1310.1 753.0 L1310.7 740.7 L1311.2 739.3 L1311.8 739.9 L1312.3 741.3 L1312.9 744.1 L1313.4 743.8 L1314.0 737.3 L1314.5 744.8 L1315.1 741.4 L1315.6 738.5 L1316.2 733.2 L1316.7 737.8 L1317.2 740.8 L1317.8 744.7 L1318.3 746.7 L1318.9 744.8 L1319.4 745.7 L1320.0 737.4 L1320.5 748.0 L1321.1 747.7 L1321.6 746.2 L1322.2 739.7 L1322.7 741.4 L1323.3 739.0 L1323.8 735.8 L1324.3 738.7 L1324.9 734.3 L1325.4 732.7 L1326.0 745.9 L1326.5 745.0 L1327.1 746.0 L1327.6 739.6 L1328.2 743.7 L1328.7 746.0 L1329.3 737.8 L1329.8 732.9 L1330.4 756.2 L1330.9 750.0 L1331.5 750.4 L1332.0 743.5 L1332.5 731.5 L1333.1 743.2 L1333.6 743.8 L1334.2 733.9 L1334.7 738.3 L1335.3 744.1 L1335.8 749.6 L1336.4 744.3 L1336.9 739.2 L1337.5 734.9 L1338.0 766.2 L1338.6 742.8 L1339.1 746.1 L1339.7 741.9 L1340.2 735.5 L1340.7 755.2 L1341.3 746.8 L1341.8 750.0 L1342.4 737.6 L1342.9 741.0 L1343.5 748.3 L1344.0 739.1 L1344.6 731.3 L1345.1 736.0 L1345.7 734.5 L1346.2 753.5 L1346.8 741.0 L1347.3 731.4 L1347.9 750.4 L1348.4 759.7 L1348.9 747.6 L1349.5 731.6 L1350.0 741.9 L1350.6 748.3 L1351.1 736.2 L1351.7 737.7 L1352.2 740.3 L1352.8 729.5 L1353.3 742.0 L1353.9 754.2 L1354.4 743.3 L1355.0 748.6 L1355.5 741.3 L1356.1 740.8 L1356.6 740.2 L1357.1 737.7 L1357.7 735.4 L1358.2 737.4 L1358.8 740.7 L1359.3 737.8 L1359.9 741.0 L1360.4 742.2 L1361.0 745.6 L1361.5 740.1 L1362.1 731.6 L1362.6 737.2 L1363.2 752.2 L1363.7 745.4 L1364.3 735.6 L1364.8 737.9 L1365.3 739.6 L1365.9 736.7 L1366.4 740.5 L1367.0 750.4 L1367.5 747.7 L1368.1 739.8 L1368.6 740.8 L1369.2 740.0 L1369.7 741.9 L1370.3 748.4 L1370.8 738.8 L1371.4 756.2 L1371.9 748.7 L1372.5 760.7 L1373.0 739.6 L1373.5 742.9 L1374.1 742.3 L1374.6 745.9 L1375.2 734.1 L1375.7 747.1 L1376.3 735.7 L1376.8 750.2 L1377.4 758.7 L1377.9 743.8 L1378.5 742.4 L1379.0 743.3 L1379.6 742.1 L1380.1 743.8 L1380.6 745.3 L1381.2 742.0 L1381.7 743.7 L1382.3 733.8 L1382.8 725.5 L1383.4 718.9 L1383.9 708.2 L1384.5 699.2 L1385.0 684.7 L1385.6 672.7 L1386.1 657.9 L1386.7 654.2 L1387.2 651.5 L1387.8 661.0 L1388.3 670.8 L1388.8 679.6 L1389.4 688.4 L1389.9 698.5 L1390.5 707.1 L1391.0 714.4 L1391.6 721.1 L1392.1 728.5 L1392.7 730.4 L1393.2 733.7 L1393.8 735.7 L1394.3 739.8 L1394.9 735.0 L1395.4 742.1 L1396.0 738.6 L1396.5 745.0 L1397.0 739.0 L1397.6 743.0 L1398.1 743.2 L1398.7 739.7 L1399.2 750.5 L1399.8 750.4 L1400.3 747.9 L1400.9 752.5 L1401.4 744.1 L1402.0 745.5 L1402.5 762.3 L1403.1 760.2 L1403.6 747.1 L1404.2 755.5 L1404.7 751.2 L1405.2 737.9 L1405.8 751.0 L1406.3 754.6 L1406.9 749.6 L1407.4 750.7 L1408.0 743.4 L1408.5 736.5 L1409.1 749.7 L1409.6 740.9 L1410.2 747.7 L1410.7 744.9 L1411.3 750.1 L1411.8 754.5 L1412.4 739.5 L1412.9 747.7 L1413.4 747.7 L1414.0 754.4 L1414.5 748.7 L1415.1 743.3 L1415.6 743.8 L1416.2 757.1 L1416.7 743.0 L1417.3 747.7 L1417.8 748.6 L1418.4 741.6 L1418.9 742.8 L1419.5 737.1 L1420.0 743.1 L1420.6 752.0 L1421.1 751.2 L1421.6 738.3 L1422.2 767.4 L1422.7 739.1 L1423.3 741.6 L1423.8 755.2 L1424.4 754.1 L1424.9 745.7 L1425.5 754.2 L1426.0 745.4 L1426.6 751.1 L1427.1 742.9 L1427.7 745.1 L1428.2 745.2 L1428.8 750.3 L1429.3 740.3 L1429.8 742.6 L1430.4 731.9 L1430.9 733.2 L1431.5 745.9 L1432.0 740.9 L1432.6 740.8 L1433.1 746.3 L1433.7 739.1 L1434.2 744.4 L1434.8 741.6 L1435.3 731.7 L1435.9 745.5 L1436.4 762.3 L1436.9 749.3 L1437.5 743.8 L1438.0 745.1 L1438.6 746.8 L1439.1 752.6 L1439.7 750.0 L1440.2 742.8 L1440.8 742.0 L1441.3 742.8 L1441.9 740.1 L1442.4 739.2 L1443.0 740.6 L1443.5 719.4 L1444.1 744.7 L1444.6 740.0 L1445.1 734.9 L1445.7 740.4 L1446.2 737.2 L1446.8 748.3 L1447.3 736.1 L1447.9 741.8 L1448.4 743.9 L1449.0 737.5 L1449.5 725.1 L1450.1 745.2 L1450.6 740.8 L1451.2 737.3 L1451.7 734.5 L1452.3 745.4 L1452.8 751.0 L1453.3 740.8 L1453.9 750.2 L1454.4 749.2 L1455.0 748.8 L1455.5 741.1 L1456.1 747.5 L1456.6 747.7 L1457.2 757.7 L1457.7 745.6 L1458.3 750.0 L1458.8 755.7 L1459.4 752.7 L1459.9 739.4 L1460.5 747.2 L1461.0 753.7 L1461.5 743.0 L1462.1 745.2 L1462.6 739.1 L1463.2 746.3 L1463.7 744.4 L1464.3 746.7 L1464.8 740.2 L1465.4 739.3 L1465.9 739.2 L1466.5 743.7 L1467.0 743.5 L1467.6 752.5 L1468.1 738.4 L1468.7 744.8 L1469.2 738.1 L1469.7 738.8 L1470.3 745.7 L1470.8 741.2 L1471.4 740.6 L1471.9 731.2 L1472.5 747.2 L1473.0 741.6 L1473.6 727.6 L1474.1 722.3 L1474.7 721.1 L1475.2 720.4 L1475.8 711.3 L1476.3 707.6 L1476.9 696.2 L1477.4 691.7 L1477.9 671.9 L1478.5 655.3 L1479.0 639.0 L1479.6 614.3 L1480.1 588.8 L1480.7 562.6 L1481.2 539.5 L1481.8 520.5 L1482.3 514.8 L1482.9 516.6 L1483.4 523.3 L1484.0 536.8 L1484.5 552.3 L1485.0 573.6 L1485.6 585.3 L1486.1 601.4 L1486.7 618.3 L1487.2 633.4 L1487.8 643.0 L1488.3 657.4 L1488.9 662.6 L1489.4 675.7 L1490.0 684.0 L1490.5 693.5 L1491.1 700.1 L1491.6 706.3 L1492.2 714.7 L1492.7 716.1 L1493.2 719.6 L1493.8 720.2 L1494.3 730.8 L1494.9 730.3 L1495.4 725.3 L1496.0 726.5 L1496.5 732.9 L1497.1 735.7 L1497.6 731.6 L1498.2 739.2 L1498.7 729.6 L1499.3 734.2 L1499.8 741.8 L1500.4 733.7 L1500.9 737.2 L1501.4 737.9 L1502.0 737.2 L1502.5 729.2 L1503.1 736.8 L1503.6 740.3 L1504.2 740.7 L1504.7 743.7 L1505.3 752.9 L1505.8 739.0 L1506.4 739.8 L1506.9 763.4 L1507.5 745.6 L1508.0 742.4 L1508.6 740.3 L1509.1 746.1 L1509.6 745.8 L1510.2 740.6 L1510.7 746.6 L1511.3 739.9 L1511.8 739.7 L1512.4 749.3 L1512.9 732.7 L1513.5 744.4 L1514.0 735.2 L1514.6 737.4 L1515.1 745.6 L1515.7 735.9 L1516.2 730.9 L1516.8 736.9 L1517.3 740.4 L1517.8 745.7 L1518.4 750.5 L1518.9 735.9 L1519.5 757.0 L1520.0 727.9 L1520.6 755.7 L1521.1 743.0 L1521.7 742.4 L1522.2 746.7 L1522.8 745.5 L1523.3 743.6 L1523.9 735.9 L1524.4 749.1 L1525.0 749.9 L1525.5 744.1 L1526.0 730.0 L1526.6 747.5 L1527.1 752.7 L1527.7 737.9 L1528.2 741.2 L1528.8 747.0 L1529.3 742.7 L1529.9 744.8 L1530.4 746.4 L1531.0 752.0 L1531.5 751.6 L1532.1 752.8 L1532.6 751.9 L1533.2 744.2 L1533.7 735.0 L1534.2 751.8 L1534.8 749.2 L1535.3 748.8 L1535.9 743.0 L1536.4 756.0 L1537.0 738.8 L1537.5 751.6 L1538.1 750.3 L1538.6 752.1 L1539.2 754.7 L1539.7 750.2 L1540.3 749.2 L1540.8 745.8 L1541.3 751.2 L1541.9 752.4 L1542.4 750.8 L1543.0 741.2 L1543.5 739.8 L1544.1 748.7 L1544.6 751.2 L1545.2 739.4 L1545.7 741.2 L1546.3 744.9 L1546.8 747.6 L1547.4 748.1 L1547.9 751.7 L1548.5 744.3 L1549.0 748.5 L1549.5 752.5 L1550.1 744.3 L1550.6 757.8 L1551.2 743.8 L1551.7 746.6 L1552.3 735.4 L1552.8 745.0 L1553.4 742.4 L1553.9 740.8 L1554.5 746.4 L1555.0 728.7 L1555.6 744.9 L1556.1 719.5 L1556.7 740.2 L1557.2 750.4 L1557.7 743.5 L1558.3 745.9 L1558.8 738.7 L1559.4 736.6 L1559.9 751.8 L1560.5 748.7 L1561.0 755.3 L1561.6 742.5 L1562.1 749.2 L1562.7 740.5 L1563.2 746.1 L1563.8 745.7 L1564.3 737.0 L1564.9 760.8 L1565.4 741.6 L1565.9 745.3 L1566.5 732.7 L1567.0 734.5 L1567.6 738.1 L1568.1 742.2 L1568.7 755.4 L1569.2 741.7 L1569.8 739.4 L1570.3 744.0 L1570.9 740.0 L1571.4 744.0 L1572.0 743.5 L1572.5 737.7 L1573.1 742.9 L1573.6 732.9 L1574.1 736.9 L1574.7 744.7 L1575.2 737.8 L1575.8 746.7 L1576.3 740.8 L1576.9 738.5 L1577.4 759.6 L1578.0 742.3 L1578.5 737.0 L1579.1 736.5 L1579.6 740.3 L1580.2 731.3 L1580.7 745.7 L1581.3 739.6 L1581.8 730.8 L1582.3 735.3 L1582.9 748.3 L1583.4 741.2 L1584.0 764.0 L1584.5 740.1 L1585.1 742.7 L1585.6 750.5 L1586.2 751.0 L1586.7 735.6 L1587.3 745.4 L1587.8 727.7 L1588.4 739.6 L1588.9 732.6 L1589.5 745.0 L1590.0 737.3 L1590.5 738.6 L1591.1 753.4 L1591.6 754.7 L1592.2 741.8 L1592.7 734.1 L1593.3 745.9 L1593.8 733.1 L1594.4 740.7 L1594.9 749.0 L1595.5 749.4 L1596.0 745.9 L1596.6 749.2 L1597.1 745.8 L1597.6 740.4 L1598.2 744.4 L1598.7 752.3 L1599.3 742.6 L1599.8 744.4 L1600.4 750.1 L1600.9 735.6 L1601.5 737.8 L1602.0 735.1 L1602.6 747.6 L1603.1 738.6 L1603.7 727.1 L1604.2 737.3 L1604.8 748.6 L1605.3 756.7 L1605.8 746.7 L1606.4 745.2 L1606.9 747.5 L1607.5 743.8 L1608.0 746.4 L1608.6 742.9 L1609.1 731.6 L1609.7 741.4 L1610.2 746.6 L1610.8 754.3 L1611.3 739.7 L1611.9 738.8 L1612.4 747.9 L1613.0 747.3 L1613.5 734.2 L1614.0 740.5 L1614.6 739.9 L1615.1 744.9 L1615.7 759.8 L1616.2 740.7 L1616.8 747.6 L1617.3 741.1 L1617.9 743.0 L1618.4 746.1 L1619.0 742.5 L1619.5 735.1 L1620.1 734.5 L1620.6 743.7 L1621.2 739.8 L1621.7 738.4 L1622.2 740.0 L1622.8 727.3 L1623.3 741.3 L1623.9 730.8 L1624.4 727.7 L1625.0 726.9 L1625.5 727.5 L1626.1 735.2 L1626.6 721.8 L1627.2 718.7 L1627.7 716.7 L1628.3 704.4 L1628.8 694.6 L1629.4 686.0 L1629.9 673.8 L1630.4 657.3 L1631.0 640.8 L1631.5 619.6 L1632.1 597.5 L1632.6 567.1 L1633.2 535.0 L1633.7 501.2 L1634.3 474.1 L1634.8 452.5 L1635.4 447.4 L1635.9 447.7 L1636.5 459.5 L1637.0 475.7 L1637.6 490.5 L1638.1 511.2 L1638.6 529.9 L1639.2 545.6 L1639.7 571.3 L1640.3 588.8 L1640.8 606.8 L1641.4 622.1 L1641.9 636.6 L1642.5 648.1 L1643.0 660.9 L1643.6 671.5 L1644.1 678.4 L1644.7 685.6 L1645.2 695.4 L1645.8 700.8 L1646.3 704.5 L1646.8 705.6 L1647.4 712.5 L1647.9 721.8 L1648.5 718.7 L1649.0 721.7 L1649.6 721.4 L1650.1 726.8 L1650.7 729.2 L1651.2 732.5 L1651.8 728.1 L1652.3 727.0 L1652.9 743.4 L1653.4 735.6 L1653.9 730.7 L1654.5 734.0 L1655.0 739.8 L1655.6 740.5 L1656.1 737.3 L1656.7 734.2 L1657.2 738.4 L1657.8 730.1 L1658.3 732.2 L1658.9 742.6 L1659.4 737.7 L1660.0 736.5 L1660.5 734.6 L1661.1 731.3 L1661.6 739.6 L1662.1 738.4 L1662.7 747.2 L1663.2 733.9 L1663.8 738.8 L1664.3 736.2 L1664.9 732.5 L1665.4 746.5 L1666.0 743.8 L1666.5 738.4 L1667.1 729.2 L1667.6 737.2 L1668.2 737.7 L1668.7 731.8 L1669.3 713.0 L1669.8 745.5 L1670.3 717.1 L1670.9 742.9 L1671.4 726.4 L1672.0 734.8 L1672.5 743.0 L1673.1 731.2 L1673.6 736.7 L1674.2 737.4 L1674.7 744.1 L1675.3 743.1 L1675.8 739.0 L1676.4 732.9 L1676.9 746.2 L1677.5 737.4 L1678.0 741.4 L1678.5 731.3 L1679.1 740.7 L1679.6 747.7 L1680.2 740.5 L1680.7 745.7 L1681.3 749.1 L1681.8 762.8 L1682.4 733.6 L1682.9 721.2 L1683.5 730.9 L1684.0 738.8 L1684.6 735.7 L1685.1 746.4 L1685.7 733.1 L1686.2 748.7 L1686.7 743.1 L1687.3 733.8 L1687.8 744.0 L1688.4 745.5 L1688.9 745.7 L1689.5 741.7 L1690.0 746.4 L1690.6 745.9 L1691.1 741.7 L1691.7 745.0 L1692.2 737.7 L1692.8 749.4 L1693.3 738.3 L1693.9 743.4 L1694.4 737.5 L1694.9 748.8 L1695.5 745.1 L1696.0 738.8 L1696.6 745.6 L1697.1 742.8 L1697.7 748.4 L1698.2 745.7 L1698.8 744.9 L1699.3 743.8 L1699.9 736.1 L1700.4 747.1 L1701.0 747.5 L1701.5 737.8 L1702.1 745.6 L1702.6 748.8 L1703.1 747.3 L1703.7 758.8 L1704.2 748.2 L1704.8 736.8 L1705.3 755.0 L1705.9 743.9 L1706.4 739.5 L1707.0 750.0 L1707.5 738.3 L1708.1 746.0 L1708.6 730.0 L1709.2 746.9 L1709.7 747.8 L1710.2 738.9 L1710.8 744.4 L1711.3 746.1 L1711.9 741.8 L1712.4 748.9 L1713.0 742.1 L1713.5 740.2 L1714.1 739.0 L1714.6 745.3 L1715.2 747.6 L1715.7 754.9 L1716.3 745.6 L1716.8 747.1 L1717.4 741.7 L1717.9 767.4 L1718.4 739.6 L1719.0 748.7 L1719.5 743.7 L1720.1 743.4 L1720.6 755.8 L1721.2 747.9 L1721.7 738.6 L1722.3 745.4 L1722.8 740.0 L1723.4 752.9 L1723.9 738.7 L1724.5 743.6 L1725.0 741.5 L1725.6 741.2 L1726.1 755.2 L1726.6 750.9 L1727.2 752.1 L1727.7 745.5 L1728.3 743.3 L1728.8 749.3 L1729.4 743.4 L1729.9 767.1 L1730.5 737.7 L1731.0 748.8 L1731.6 729.9 L1732.1 733.3 L1732.7 737.1 L1733.2 738.7 L1733.8 748.6 L1734.3 741.8 L1734.8 739.7 L1735.4 738.9 L1735.9 739.9 L1736.5 742.0 L1737.0 749.0 L1737.6 744.0 L1738.1 743.0 L1738.7 742.8 L1739.2 747.6 L1739.8 738.4 L1740.3 744.9 L1740.9 737.8 L1741.4 737.8 L1742.0 746.0 L1742.5 743.1 L1743.0 742.4 L1743.6 738.1 L1744.1 749.3 L1744.7 754.7 L1745.2 746.9 L1745.8 746.7 L1746.3 742.6 L1746.9 749.6 L1747.4 741.6 L1748.0 760.0 L1748.5 745.4 L1749.1 744.5 L1749.6 749.8 L1750.2 738.1 L1750.7 739.3 L1751.2 732.6 L1751.8 738.4 L1752.3 750.5 L1752.9 736.4 L1753.4 753.9 L1754.0 746.2 L1754.5 749.4 L1755.1 745.0 L1755.6 733.2 L1756.2 726.2 L1756.7 748.7 L1757.3 740.3 L1757.8 743.4 L1758.3 745.8 L1758.9 750.0 L1759.4 748.7 L1760.0 746.8 L1760.5 742.0 L1761.1 747.3 L1761.6 737.2 L1762.2 739.7 L1762.7 735.7 L1763.3 737.6 L1763.8 734.5 L1764.4 747.8 L1764.9 742.6 L1765.5 753.5 L1766.0 742.2 L1766.5 746.6 L1767.1 742.3 L1767.6 748.4 L1768.2 747.5 L1768.7 741.7 L1769.3 745.3 L1769.8 739.7 L1770.4 740.6 L1770.9 730.6 L1771.5 749.9 L1772.0 740.0 L1772.6 738.7 L1773.1 749.5 L1773.7 744.4 L1774.2 727.2 L1774.7 738.2 L1775.3 741.8 L1775.8 739.9 L1776.4 745.9 L1776.9 739.4 L1777.5 739.2 L1778.0 749.3 L1778.6 754.7 L1779.1 753.4 L1779.7 743.9 L1780.2 748.8 L1780.8 745.2 L1781.3 756.0 L1781.9 748.0 L1782.4 749.7 L1782.9 757.1 L1783.5 753.1 L1784.0 747.5 L1784.6 741.6 L1785.1 746.1 L1785.7 740.7 L1786.2 770.4 L1786.8 746.9 L1787.3 751.8 L1787.9 749.1 L1788.4 743.8 L1789.0 749.2 L1789.5 749.0 L1790.1 746.2 L1790.6 746.9 L1791.1 747.5 L1791.7 740.8 L1792.2 744.7 L1792.8 739.5 L1793.3 741.1 L1793.9 745.5 L1794.4 732.4 L1795.0 737.7 L1795.5 744.3 L1796.1 752.7 L1796.6 747.9 L1797.2 740.2 L1797.7 752.2 L1798.3 744.5 L1798.8 740.1 L1799.3 742.5 L1799.9 751.7 L1800.4 747.0 L1801.0 738.5 L1801.5 737.1 L1802.1 746.4 L1802.6 737.1 L1803.2 739.6 L1803.7 745.9 L1804.3 736.6 L1804.8 738.3 L1805.4 743.5 L1805.9 740.3 L1806.5 750.2 L1807.0 743.1 L1807.5 746.6 L1808.1 747.2 L1808.6 741.0 L1809.2 748.6 L1809.7 750.5 L1810.3 742.6 L1810.8 739.5 L1811.4 741.2 L1811.9 750.5 L1812.5 742.5 L1813.0 739.6 L1813.6 735.0 L1814.1 741.6 L1814.6 723.8 L1815.2 746.6 L1815.7 738.2 L1816.3 736.1 L1816.8 756.0 L1817.4 744.7 L1817.9 746.6 L1818.5 739.7 L1819.0 748.5 L1819.6 745.3 L1820.1 744.6 L1820.7 747.9 L1821.2 748.7 L1821.8 743.4 L1822.3 751.6 L1822.8 746.1 L1823.4 742.8 L1823.9 747.1 L1824.5 745.3 L1825.0 752.5 L1825.6 747.3 L1826.1 745.6 L1826.7 745.1 L1827.2 749.9 L1827.8 739.0 L1828.3 740.0 L1828.9 743.5 L1829.4 749.7 L1830.0 750.2 L1830.5 742.8 L1831.0 738.0 L1831.6 734.8 L1832.1 743.7 L1832.7 741.8 L1833.2 745.3 L1833.8 749.2 L1834.3 739.2 L1834.9 750.8 L1835.4 737.9 L1836.0 743.0 L1836.5 745.6 L1837.1 736.0 L1837.6 759.0 L1838.2 745.1 L1838.7 753.5 L1839.2 743.6 L1839.8 738.8 L1840.3 741.0 L1840.9 740.2 L1841.4 734.9 L1842.0 731.5 L1842.5 747.5 L1843.1 739.6 L1843.6 743.8 L1844.2 750.1 L1844.7 740.2 L1845.3 743.7 L1845.8 749.7 L1846.4 747.0 L1846.9 747.3 L1847.4 732.3 L1848.0 740.8 L1848.5 748.9 L1849.1 743.2 L1849.6 749.2 L1850.2 747.8 L1850.7 744.4 L1851.3 745.5 L1851.8 742.5 L1852.4 756.2 L1852.9 730.1 L1853.5 737.3 L1854.0 742.2 L1854.6 748.9 L1855.1 731.9 L1855.6 737.9 L1856.2 743.0 L1856.7 747.7 L1857.3 738.5 L1857.8 729.0 L1858.4 739.0 L1858.9 739.9 L1859.5 736.7 L1860.0 734.2 L1860.6 731.9 L1861.1 722.6 L1861.7 727.3 L1862.2 722.5 L1862.8 718.5 L1863.3 715.6 L1863.8 714.2 L1864.4 727.4 L1864.9 717.2 L1865.5 731.2 L1866.0 729.4 L1866.6 727.4 L1867.1 736.1 L1867.7 734.7 L1868.2 745.9 L1868.8 743.9 L1869.3 728.9 L1869.9 737.1 L1870.4 728.6 L1870.9 742.8 L1871.5 740.4 L1872.0 740.3 L1872.6 732.0 L1873.1 747.0 L1873.7 747.4 L1874.2 735.6 L1874.8 739.4 L1875.3 741.1 L1875.9 748.9 L1876.4 747.2 L1877.0 744.5 L1877.5 743.9 L1878.1 738.0 L1878.6 741.7 L1879.1 736.4 L1879.7 749.9 L1880.2 743.4 L1880.8 743.0 L1881.3 740.2 L1881.9 737.2 L1882.4 732.8 L1883.0 739.4 L1883.5 741.0 L1884.1 741.4 L1884.6 748.6 L1885.2 755.2 L1885.7 738.4 L1886.3 738.7 L1886.8 749.0 L1887.3 720.6 L1887.9 741.0 L1888.4 746.6 L1889.0 742.7 L1889.5 739.5 L1890.1 744.9 L1890.6 733.7 L1891.2 738.4 L1891.7 743.6 L1892.3 741.0 L1892.8 744.8 L1893.4 747.6 L1893.9 749.1 L1894.5 729.7 L1895.0 744.3 L1895.5 748.4 L1896.1 746.4 L1896.6 740.5 L1897.2 740.6 L1897.7 744.6 L1898.3 730.7 L1898.8 718.4 L1899.4 744.1 L1899.9 749.0 L1900.5 733.4 L1901.0 744.7 L1901.6 734.1 L1902.1 742.8 L1902.7 731.6 L1903.2 738.1 L1903.7 734.2 L1904.3 730.6 L1904.8 740.7 L1905.4 743.0 L1905.9 735.8 L1906.5 760.8 L1907.0 737.1 L1907.6 733.5 L1908.1 739.9 L1908.7 751.4 L1909.2 733.3 L1909.8 733.4 L1910.3 737.2 L1910.9 742.8 L1911.4 744.2 L1911.9 744.4 L1912.5 748.3 L1913.0 753.6 L1913.6 744.5 L1914.1 746.3 L1914.7 744.4 L1915.2 746.2 L1915.8 750.5 L1916.3 746.3 L1916.9 740.1 L1917.4 750.8 L1918.0 766.6 L1918.5 747.0 L1919.1 755.1 L1919.6 750.9 L1920.1 737.9 L1920.7 743.0 L1921.2 739.3 L1921.8 742.6 L1922.3 740.6 L1922.9 747.5 L1923.4 749.4 L1924.0 723.1 L1924.5 750.4 L1925.1 744.1 L1925.6 751.6 L1926.2 745.5 L1926.7 735.1 L1927.2 746.3 L1927.8 749.1 L1928.3 749.2 L1928.9 747.1 L1929.4 741.6 L1930.0 742.4 L1930.5 742.7 L1931.1 740.7 L1931.6 745.6 L1932.2 747.4 L1932.7 749.5 L1933.3 749.7 L1933.8 742.8 L1934.4 748.1 L1934.9 744.1 L1935.4 738.2 L1936.0 748.1 L1936.5 741.9 L1937.1 742.5 L1937.6 749.2 L1938.2 745.4 L1938.7 745.5 L1939.3 764.8 L1939.8 747.2 L1940.4 744.9 L1940.9 740.5 L1941.5 728.7 L1942.0 725.1 L1942.6 731.7 L1943.1 756.9 L1943.6 731.5 L1944.2 726.2 L1944.7 724.7 L1945.3 719.6 L1945.8 710.0 L1946.4 700.2 L1946.9 692.5 L1947.5 688.3 L1948.0 688.4 L1948.6 684.9 L1949.1 693.1 L1949.7 696.2 L1950.2 700.6 L1950.8 705.6 L1951.3 703.4 L1951.8 707.0 L1952.4 716.1 L1952.9 711.7 L1953.5 721.1 L1954.0 723.1 L1954.6 726.6 L1955.1 716.7 L1955.7 731.6 L1956.2 724.8 L1956.8 739.8 L1957.3 732.3 L1957.9 727.0 L1958.4 734.8 L1959.0 741.4 L1959.5 730.9 L1960.0 737.8 L1960.6 732.9 L1961.1 745.9 L1961.7 744.8 L1962.2 737.2 L1962.8 740.0 L1963.3 737.0 L1963.9 744.1 L1964.4 748.7 L1965.0 740.7 L1965.5 743.2 L1966.1 720.6 L1966.6 751.8 L1967.2 725.3 L1967.7 742.8 L1968.2 739.1 L1968.8 745.3 L1969.3 737.0 L1969.9 733.7 L1970.4 726.8 L1971.0 733.6 L1971.5 718.6 L1972.1 729.6 L1972.6 736.0 L1973.2 732.6 L1973.7 716.8 L1974.3 726.6 L1974.8 732.1 L1975.4 745.1 L1975.9 729.5 L1976.4 741.6 L1977.0 731.8 L1977.5 741.5 L1978.1 738.1 L1978.6 740.1 L1979.2 740.0 L1979.7 748.8 L1980.3 731.9 L1980.8 746.5 L1981.4 739.1 L1981.9 741.5 L1982.5 738.8 L1983.0 746.4 L1983.5 745.3 L1984.1 741.2 L1984.6 737.5 L1985.2 752.3 L1985.7 740.8 L1986.3 748.9 L1986.8 740.2 L1987.4 748.0 L1987.9 748.3 L1988.5 754.6 L1989.0 749.4 L1989.6 750.8 L1990.1 731.1 L1990.7 739.4 L1991.2 736.7 L1991.7 746.1 L1992.3 744.1 L1992.8 737.0 L1993.4 751.3 L1993.9 744.2 L1994.5 751.5 L1995.0 740.1 L1995.6 748.2 L1996.1 751.0 L1996.7 742.3 L1997.2 746.5 L1997.8 746.0 L1998.3 744.3 L1998.9 748.6 L1999.4 722.9 L1999.9 750.8 L2000.5 748.3 L2001.0 741.9 L2001.6 752.3 L2002.1 738.5 L2002.7 743.2 L2003.2 755.1 L2003.8 756.3 L2004.3 745.5 L2004.9 756.4 L2005.4 747.3 L2006.0 747.6 L2006.5 748.7 L2007.1 757.8 L2007.6 751.7 L2008.1 743.4 L2008.7 745.9 L2009.2 751.2 L2009.8 753.2 L2010.3 747.3 L2010.9 750.3 L2011.4 749.4 L2012.0 738.8 L2012.5 743.5 L2013.1 768.5 L2013.6 743.0 L2014.2 748.3 L2014.7 737.9 L2015.3 760.5 L2015.8 740.0 L2016.3 754.1 L2016.9 747.1 L2017.4 735.7 L2018.0 742.0 L2018.5 750.4 L2019.1 741.2 L2019.6 749.1 L2020.2 742.8 L2020.7 750.3 L2021.3 756.4 L2021.8 738.3 L2022.4 745.3 L2022.9 740.3 L2023.5 738.3 L2024.0 744.1 L2024.5 747.3 L2025.1 746.6 L2025.6 745.6 L2026.2 731.7 L2026.7 740.1 L2027.3 731.5 L2027.8 744.4 L2028.4 746.5 L2028.9 745.5 L2029.5 738.8 L2030.0 744.0 L2030.6 747.0 L2031.1 750.5 L2031.6 740.6 L2032.2 741.3 L2032.7 750.3 L2033.3 743.6 L2033.8 745.2 L2034.4 744.8 L2034.9 748.7 L2035.5 749.1 L2036.0 745.5 L2036.6 746.0 L2037.1 746.2 L2037.7 749.0 L2038.2 751.2 L2038.8 740.2 L2039.3 755.2 L2039.8 740.7 L2040.4 746.2 L2040.9 739.6 L2041.5 742.8 L2042.0 746.2 L2042.6 749.6 L2043.1 747.9 L2043.7 750.6 L2044.2 744.4 L2044.8 754.0 L2045.3 738.1 L2045.9 748.2 L2046.4 747.0 L2047.0 742.8 L2047.5 744.5 L2048.0 740.9 L2048.6 750.9 L2049.1 743.4 L2049.7 755.0 L2050.2 747.8 L2050.8 748.1 L2051.3 746.6 L2051.9 740.8 L2052.4 749.8 L2053.0 751.1 L2053.5 746.0 L2054.1 742.0 L2054.6 743.9 L2055.2 751.7 L2055.7 737.6 L2056.2 747.2 L2056.8 743.6 L2057.3 749.0 L2057.9 737.3 L2058.4 750.1 L2059.0 731.1 L2059.5 747.8 L2060.1 753.8 L2060.6 743.5 L2061.2 754.4 L2061.7 744.8 L2062.3 748.4 L2062.8 757.4 L2063.4 750.2 L2063.9 748.5 L2064.4 733.4 L2065.0 742.2 L2065.5 748.1 L2066.1 741.8 L2066.6 732.4 L2067.2 748.3 L2067.7 738.5 L2068.3 740.7 L2068.8 755.7 L2069.4 757.2 L2069.9 741.7 L2070.5 746.9 L2071.0 749.0 L2071.6 743.1 L2072.1 742.5 L2072.6 751.1 L2073.2 740.0 L2073.7 741.6 L2074.3 755.8 L2074.8 735.2 L2075.4 755.0 L2075.9 752.8 L2076.5 742.1 L2077.0 750.9 L2077.6 746.4 L2078.1 740.2 L2078.7 742.5 L2079.2 741.9 L2079.8 752.9 L2080.3 738.2 L2080.8 737.6 L2081.4 742.9 L2081.9 742.4 L2082.5 757.7 L2083.0 743.8 L2083.6 742.2 L2084.1 741.9 L2084.7 741.1 L2085.2 734.6 L2085.8 744.8 L2086.3 733.9 L2086.9 742.6 L2087.4 751.1 L2087.9 750.2 L2088.5 747.8 L2089.0 739.5 L2089.6 744.0 L2090.1 742.7 L2090.7 744.3 L2091.2 745.3 L2091.8 743.0 L2092.3 759.0 L2092.9 741.4 L2093.4 753.3 L2094.0 748.4 L2094.5 746.8 L2095.1 752.6 L2095.6 745.3 L2096.1 745.9 L2096.7 752.4 L2097.2 746.1 L2097.8 769.9 L2098.3 741.4 L2098.9 740.0 L2099.4 754.3 L2100.0 744.5 L2100.5 738.0 L2101.1 733.1 L2101.6 746.9 L2102.2 736.2 L2102.7 751.0 L2103.3 742.9 L2103.8 746.6 L2104.3 750.8 L2104.9 748.6 L2105.4 744.9 L2106.0 742.2 L2106.5 738.9 L2107.1 738.0 L2107.6 754.7 L2108.2 742.3 L2108.7 743.3 L2109.3 747.4 L2109.8 749.1 L2110.4 752.3 L2110.9 751.5 L2111.5 745.3"/>
</g>
<g class="tk">
<text x="198.9" y="1550.3" text-anchor="middle">10</text>
<text x="472.1" y="1550.3" text-anchor="middle">20</text>
<text x="745.4" y="1550.3" text-anchor="middle">30</text>
<text x="1018.6" y="1550.3" text-anchor="middle">40</text>
<text x="1291.9" y="1550.3" text-anchor="middle">50</text>
<text x="1565.1" y="1550.3" text-anchor="middle">60</text>
<text x="1838.4" y="1550.3" text-anchor="middle">70</text>
<text x="2111.6" y="1550.3" text-anchor="middle">80</text>
<text class="lb" x="1841.5" y="690.5">(c)</text>
<text class="lb" x="1841.5" y="901.4">(b)</text>
<text class="lb" x="1841.5" y="1159">(a)</text>
</g>
<text class="ttl" x="1184.0" y="1680.8" text-anchor="middle">2 Theta (Degree)</text>
<text class="ytl" transform="translate(85.3 735.5) rotate(-90)" text-anchor="middle">Intensity (a.u.)</text>
</svg>
</body>
</html>
